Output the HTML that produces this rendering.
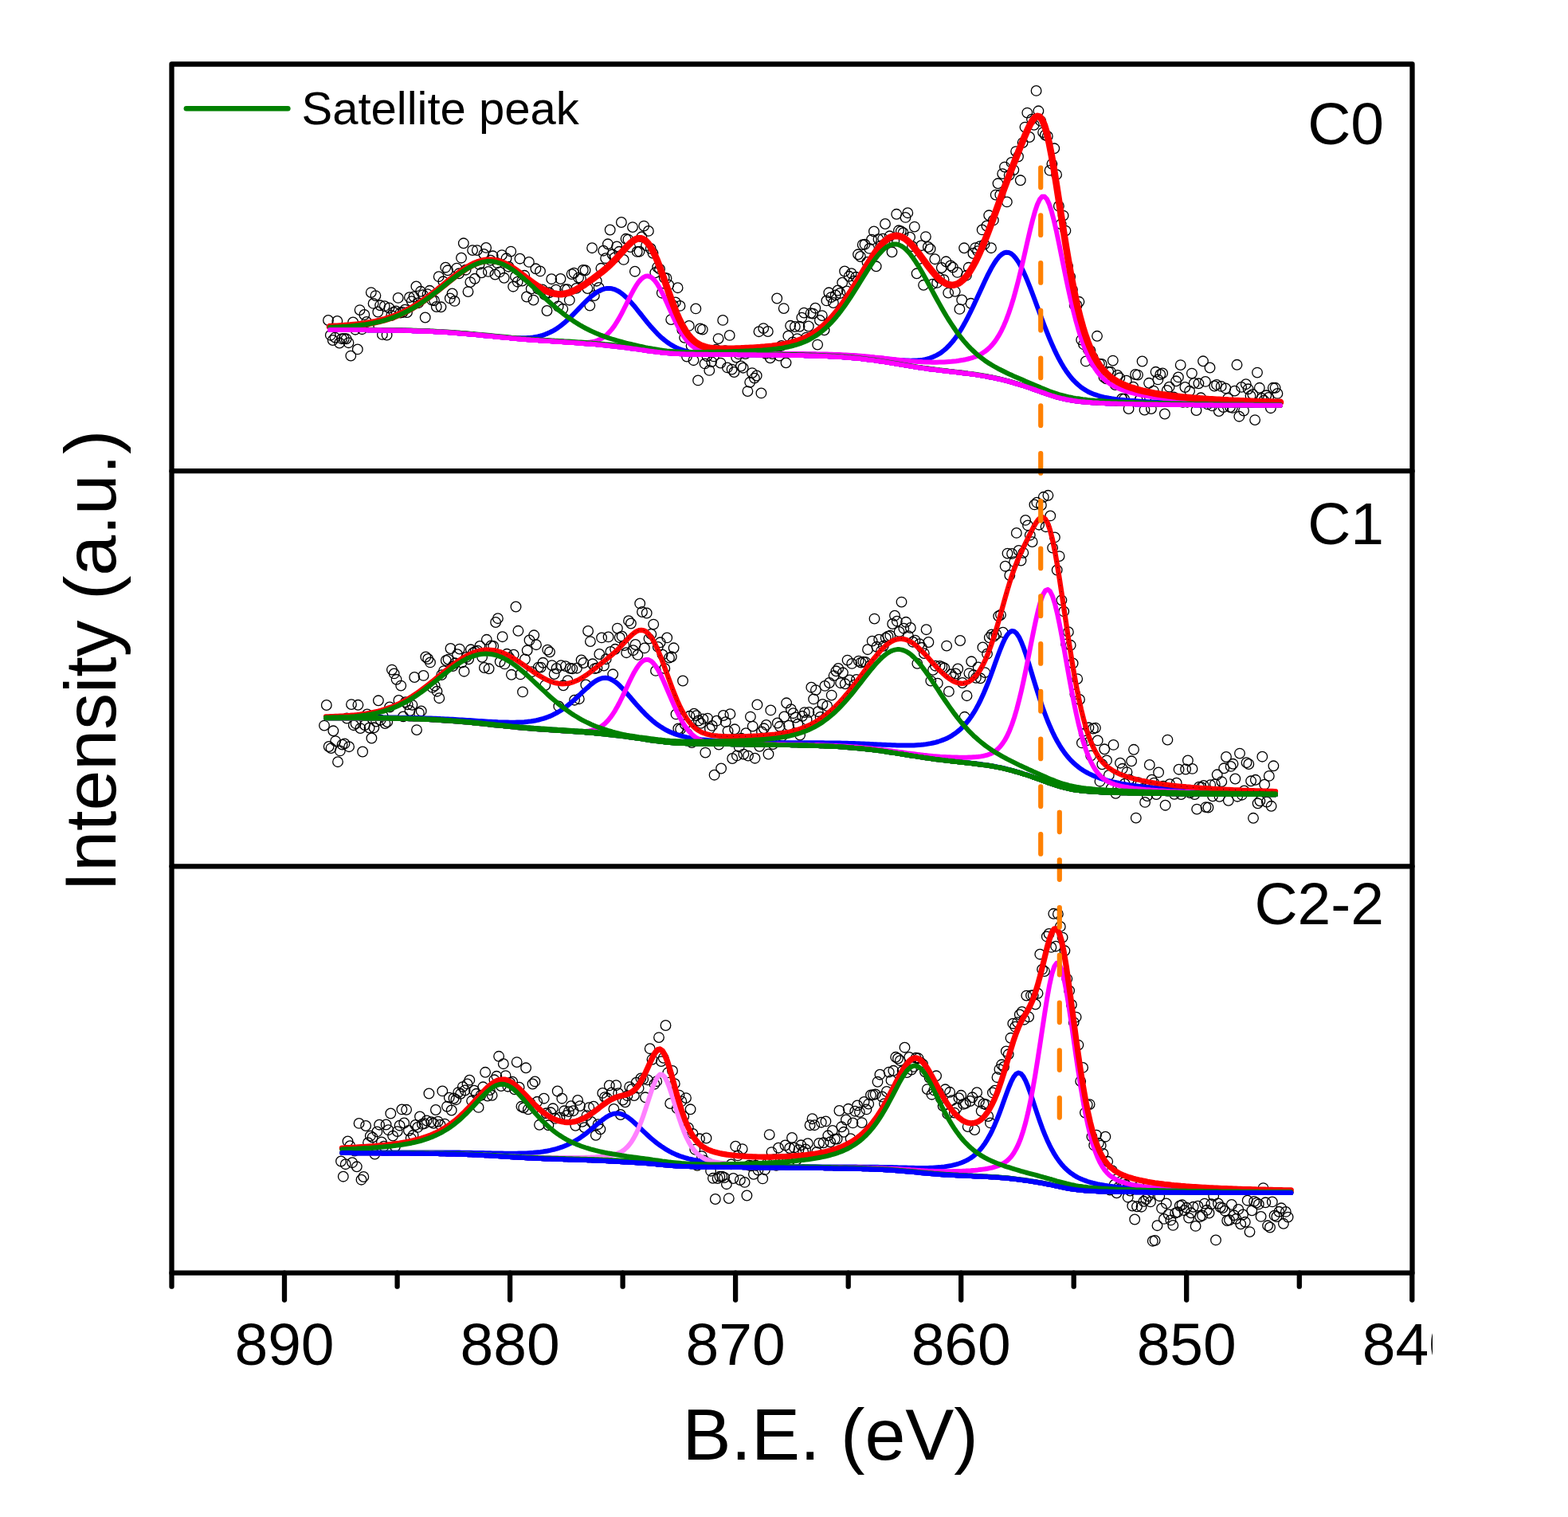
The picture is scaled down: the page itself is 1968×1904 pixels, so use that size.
<!DOCTYPE html><html><head><meta charset="utf-8"><style>html,body{margin:0;padding:0;background:#fff;}svg{display:block;}</style></head><body>
<svg width="1968" height="1904" viewBox="0 0 1968 1904">
<rect width="1968" height="1904" fill="#fff"/>
<defs><clipPath id="cl"><rect x="0" y="0" width="1798" height="1904"/></clipPath></defs>
<g fill="none" stroke="#000" stroke-width="1.3">
<circle cx="412.0" cy="402.0" r="6.3"/>
<circle cx="414.8" cy="420.7" r="6.3"/>
<circle cx="417.7" cy="427.0" r="6.3"/>
<circle cx="420.5" cy="423.6" r="6.3"/>
<circle cx="423.3" cy="402.9" r="6.3"/>
<circle cx="426.1" cy="430.5" r="6.3"/>
<circle cx="429.0" cy="425.2" r="6.3"/>
<circle cx="431.8" cy="425.0" r="6.3"/>
<circle cx="434.6" cy="425.3" r="6.3"/>
<circle cx="437.5" cy="430.2" r="6.3"/>
<circle cx="440.3" cy="446.6" r="6.3"/>
<circle cx="443.1" cy="404.4" r="6.3"/>
<circle cx="446.0" cy="413.7" r="6.3"/>
<circle cx="448.8" cy="438.4" r="6.3"/>
<circle cx="451.6" cy="389.1" r="6.3"/>
<circle cx="454.4" cy="413.2" r="6.3"/>
<circle cx="457.3" cy="395.0" r="6.3"/>
<circle cx="460.1" cy="404.0" r="6.3"/>
<circle cx="462.9" cy="410.4" r="6.3"/>
<circle cx="465.8" cy="367.1" r="6.3"/>
<circle cx="468.6" cy="380.9" r="6.3"/>
<circle cx="471.4" cy="371.1" r="6.3"/>
<circle cx="474.3" cy="391.5" r="6.3"/>
<circle cx="477.1" cy="383.3" r="6.3"/>
<circle cx="479.9" cy="419.9" r="6.3"/>
<circle cx="482.7" cy="384.2" r="6.3"/>
<circle cx="485.6" cy="420.5" r="6.3"/>
<circle cx="488.4" cy="386.5" r="6.3"/>
<circle cx="491.2" cy="396.0" r="6.3"/>
<circle cx="494.1" cy="391.8" r="6.3"/>
<circle cx="496.9" cy="390.5" r="6.3"/>
<circle cx="499.7" cy="373.9" r="6.3"/>
<circle cx="502.6" cy="392.6" r="6.3"/>
<circle cx="505.4" cy="392.0" r="6.3"/>
<circle cx="508.2" cy="388.7" r="6.3"/>
<circle cx="511.0" cy="392.1" r="6.3"/>
<circle cx="513.9" cy="373.2" r="6.3"/>
<circle cx="516.7" cy="378.1" r="6.3"/>
<circle cx="519.5" cy="372.5" r="6.3"/>
<circle cx="522.4" cy="359.4" r="6.3"/>
<circle cx="525.2" cy="380.2" r="6.3"/>
<circle cx="528.0" cy="365.8" r="6.3"/>
<circle cx="530.9" cy="370.1" r="6.3"/>
<circle cx="533.7" cy="398.5" r="6.3"/>
<circle cx="536.5" cy="369.1" r="6.3"/>
<circle cx="539.3" cy="364.8" r="6.3"/>
<circle cx="542.2" cy="376.7" r="6.3"/>
<circle cx="545.0" cy="377.2" r="6.3"/>
<circle cx="547.8" cy="385.0" r="6.3"/>
<circle cx="550.7" cy="347.2" r="6.3"/>
<circle cx="553.5" cy="385.3" r="6.3"/>
<circle cx="556.3" cy="353.3" r="6.3"/>
<circle cx="559.2" cy="335.7" r="6.3"/>
<circle cx="562.0" cy="339.3" r="6.3"/>
<circle cx="564.8" cy="374.4" r="6.3"/>
<circle cx="567.6" cy="368.5" r="6.3"/>
<circle cx="570.5" cy="377.9" r="6.3"/>
<circle cx="573.3" cy="336.6" r="6.3"/>
<circle cx="576.1" cy="343.3" r="6.3"/>
<circle cx="579.0" cy="323.7" r="6.3"/>
<circle cx="581.8" cy="305.3" r="6.3"/>
<circle cx="584.6" cy="338.7" r="6.3"/>
<circle cx="587.5" cy="366.1" r="6.3"/>
<circle cx="590.3" cy="354.1" r="6.3"/>
<circle cx="593.1" cy="314.1" r="6.3"/>
<circle cx="595.9" cy="349.8" r="6.3"/>
<circle cx="598.8" cy="314.1" r="6.3"/>
<circle cx="601.6" cy="331.9" r="6.3"/>
<circle cx="604.4" cy="342.3" r="6.3"/>
<circle cx="607.3" cy="319.0" r="6.3"/>
<circle cx="610.1" cy="310.9" r="6.3"/>
<circle cx="612.9" cy="340.9" r="6.3"/>
<circle cx="615.8" cy="326.7" r="6.3"/>
<circle cx="618.6" cy="321.3" r="6.3"/>
<circle cx="621.4" cy="344.5" r="6.3"/>
<circle cx="624.2" cy="330.2" r="6.3"/>
<circle cx="627.1" cy="341.4" r="6.3"/>
<circle cx="629.9" cy="320.1" r="6.3"/>
<circle cx="632.7" cy="348.8" r="6.3"/>
<circle cx="635.6" cy="324.3" r="6.3"/>
<circle cx="638.4" cy="334.7" r="6.3"/>
<circle cx="641.2" cy="315.6" r="6.3"/>
<circle cx="644.1" cy="359.7" r="6.3"/>
<circle cx="646.9" cy="347.2" r="6.3"/>
<circle cx="649.7" cy="353.7" r="6.3"/>
<circle cx="652.5" cy="324.7" r="6.3"/>
<circle cx="655.4" cy="352.6" r="6.3"/>
<circle cx="658.2" cy="345.8" r="6.3"/>
<circle cx="661.0" cy="372.5" r="6.3"/>
<circle cx="663.9" cy="328.9" r="6.3"/>
<circle cx="666.7" cy="362.5" r="6.3"/>
<circle cx="669.5" cy="376.6" r="6.3"/>
<circle cx="672.4" cy="337.3" r="6.3"/>
<circle cx="675.2" cy="362.5" r="6.3"/>
<circle cx="678.0" cy="340.4" r="6.3"/>
<circle cx="680.8" cy="363.5" r="6.3"/>
<circle cx="683.7" cy="369.9" r="6.3"/>
<circle cx="686.5" cy="390.0" r="6.3"/>
<circle cx="689.3" cy="367.3" r="6.3"/>
<circle cx="692.2" cy="350.2" r="6.3"/>
<circle cx="695.0" cy="375.4" r="6.3"/>
<circle cx="697.8" cy="363.6" r="6.3"/>
<circle cx="700.7" cy="384.5" r="6.3"/>
<circle cx="703.5" cy="350.0" r="6.3"/>
<circle cx="706.3" cy="387.8" r="6.3"/>
<circle cx="709.1" cy="363.2" r="6.3"/>
<circle cx="712.0" cy="363.2" r="6.3"/>
<circle cx="714.8" cy="376.7" r="6.3"/>
<circle cx="717.6" cy="344.1" r="6.3"/>
<circle cx="720.5" cy="342.6" r="6.3"/>
<circle cx="723.3" cy="361.9" r="6.3"/>
<circle cx="726.1" cy="348.6" r="6.3"/>
<circle cx="729.0" cy="349.8" r="6.3"/>
<circle cx="731.8" cy="339.0" r="6.3"/>
<circle cx="734.6" cy="339.3" r="6.3"/>
<circle cx="737.4" cy="362.1" r="6.3"/>
<circle cx="740.3" cy="383.6" r="6.3"/>
<circle cx="743.1" cy="311.2" r="6.3"/>
<circle cx="745.9" cy="371.1" r="6.3"/>
<circle cx="748.8" cy="352.7" r="6.3"/>
<circle cx="751.6" cy="361.0" r="6.3"/>
<circle cx="754.4" cy="336.8" r="6.3"/>
<circle cx="757.3" cy="314.7" r="6.3"/>
<circle cx="760.1" cy="324.2" r="6.3"/>
<circle cx="762.9" cy="306.3" r="6.3"/>
<circle cx="765.7" cy="288.5" r="6.3"/>
<circle cx="768.6" cy="319.3" r="6.3"/>
<circle cx="771.4" cy="323.4" r="6.3"/>
<circle cx="774.2" cy="309.5" r="6.3"/>
<circle cx="777.1" cy="315.8" r="6.3"/>
<circle cx="779.9" cy="279.0" r="6.3"/>
<circle cx="782.7" cy="325.9" r="6.3"/>
<circle cx="785.6" cy="299.8" r="6.3"/>
<circle cx="788.4" cy="300.6" r="6.3"/>
<circle cx="791.2" cy="310.1" r="6.3"/>
<circle cx="794.0" cy="285.1" r="6.3"/>
<circle cx="796.9" cy="340.7" r="6.3"/>
<circle cx="799.7" cy="315.9" r="6.3"/>
<circle cx="802.5" cy="315.7" r="6.3"/>
<circle cx="805.4" cy="297.3" r="6.3"/>
<circle cx="808.2" cy="283.6" r="6.3"/>
<circle cx="811.0" cy="308.2" r="6.3"/>
<circle cx="813.9" cy="289.9" r="6.3"/>
<circle cx="816.7" cy="312.0" r="6.3"/>
<circle cx="819.5" cy="317.8" r="6.3"/>
<circle cx="822.3" cy="342.3" r="6.3"/>
<circle cx="825.2" cy="335.3" r="6.3"/>
<circle cx="828.0" cy="337.7" r="6.3"/>
<circle cx="830.8" cy="367.7" r="6.3"/>
<circle cx="833.7" cy="348.6" r="6.3"/>
<circle cx="836.5" cy="349.2" r="6.3"/>
<circle cx="839.3" cy="357.7" r="6.3"/>
<circle cx="842.2" cy="401.1" r="6.3"/>
<circle cx="845.0" cy="383.1" r="6.3"/>
<circle cx="847.8" cy="379.4" r="6.3"/>
<circle cx="850.6" cy="361.2" r="6.3"/>
<circle cx="853.5" cy="383.9" r="6.3"/>
<circle cx="856.3" cy="413.9" r="6.3"/>
<circle cx="859.1" cy="423.8" r="6.3"/>
<circle cx="862.0" cy="447.6" r="6.3"/>
<circle cx="864.8" cy="408.9" r="6.3"/>
<circle cx="867.6" cy="434.1" r="6.3"/>
<circle cx="870.5" cy="452.2" r="6.3"/>
<circle cx="873.3" cy="387.4" r="6.3"/>
<circle cx="876.1" cy="477.4" r="6.3"/>
<circle cx="878.9" cy="412.5" r="6.3"/>
<circle cx="881.8" cy="413.6" r="6.3"/>
<circle cx="884.6" cy="456.4" r="6.3"/>
<circle cx="887.4" cy="447.1" r="6.3"/>
<circle cx="890.3" cy="464.9" r="6.3"/>
<circle cx="893.1" cy="454.1" r="6.3"/>
<circle cx="895.9" cy="447.4" r="6.3"/>
<circle cx="898.8" cy="438.7" r="6.3"/>
<circle cx="901.6" cy="425.1" r="6.3"/>
<circle cx="904.4" cy="455.6" r="6.3"/>
<circle cx="907.2" cy="401.9" r="6.3"/>
<circle cx="910.1" cy="440.1" r="6.3"/>
<circle cx="912.9" cy="461.4" r="6.3"/>
<circle cx="915.7" cy="420.9" r="6.3"/>
<circle cx="918.6" cy="463.6" r="6.3"/>
<circle cx="921.4" cy="467.0" r="6.3"/>
<circle cx="924.2" cy="448.6" r="6.3"/>
<circle cx="927.1" cy="444.4" r="6.3"/>
<circle cx="929.9" cy="459.5" r="6.3"/>
<circle cx="932.7" cy="461.7" r="6.3"/>
<circle cx="935.5" cy="444.1" r="6.3"/>
<circle cx="938.4" cy="491.1" r="6.3"/>
<circle cx="941.2" cy="479.8" r="6.3"/>
<circle cx="944.0" cy="468.1" r="6.3"/>
<circle cx="946.9" cy="474.6" r="6.3"/>
<circle cx="949.7" cy="471.5" r="6.3"/>
<circle cx="952.5" cy="416.2" r="6.3"/>
<circle cx="955.4" cy="493.4" r="6.3"/>
<circle cx="958.2" cy="412.1" r="6.3"/>
<circle cx="961.0" cy="443.8" r="6.3"/>
<circle cx="963.8" cy="416.0" r="6.3"/>
<circle cx="966.7" cy="449.3" r="6.3"/>
<circle cx="969.5" cy="444.0" r="6.3"/>
<circle cx="972.3" cy="438.4" r="6.3"/>
<circle cx="975.2" cy="374.5" r="6.3"/>
<circle cx="978.0" cy="446.5" r="6.3"/>
<circle cx="980.8" cy="433.9" r="6.3"/>
<circle cx="983.7" cy="387.1" r="6.3"/>
<circle cx="986.5" cy="455.3" r="6.3"/>
<circle cx="989.3" cy="421.7" r="6.3"/>
<circle cx="992.1" cy="408.8" r="6.3"/>
<circle cx="995.0" cy="429.5" r="6.3"/>
<circle cx="997.8" cy="410.0" r="6.3"/>
<circle cx="1000.6" cy="425.1" r="6.3"/>
<circle cx="1003.5" cy="409.8" r="6.3"/>
<circle cx="1006.3" cy="398.6" r="6.3"/>
<circle cx="1009.1" cy="392.6" r="6.3"/>
<circle cx="1012.0" cy="423.6" r="6.3"/>
<circle cx="1014.8" cy="409.5" r="6.3"/>
<circle cx="1017.6" cy="393.1" r="6.3"/>
<circle cx="1020.4" cy="393.6" r="6.3"/>
<circle cx="1023.3" cy="386.7" r="6.3"/>
<circle cx="1026.1" cy="432.6" r="6.3"/>
<circle cx="1028.9" cy="402.0" r="6.3"/>
<circle cx="1031.8" cy="396.1" r="6.3"/>
<circle cx="1034.6" cy="414.3" r="6.3"/>
<circle cx="1037.4" cy="377.4" r="6.3"/>
<circle cx="1040.3" cy="367.3" r="6.3"/>
<circle cx="1043.1" cy="373.1" r="6.3"/>
<circle cx="1045.9" cy="380.0" r="6.3"/>
<circle cx="1048.7" cy="370.5" r="6.3"/>
<circle cx="1051.6" cy="364.5" r="6.3"/>
<circle cx="1054.4" cy="368.0" r="6.3"/>
<circle cx="1057.2" cy="354.7" r="6.3"/>
<circle cx="1060.1" cy="340.5" r="6.3"/>
<circle cx="1062.9" cy="365.5" r="6.3"/>
<circle cx="1065.7" cy="346.8" r="6.3"/>
<circle cx="1068.6" cy="343.2" r="6.3"/>
<circle cx="1071.4" cy="352.7" r="6.3"/>
<circle cx="1074.2" cy="347.8" r="6.3"/>
<circle cx="1077.0" cy="319.3" r="6.3"/>
<circle cx="1079.9" cy="322.0" r="6.3"/>
<circle cx="1082.7" cy="307.2" r="6.3"/>
<circle cx="1085.5" cy="306.7" r="6.3"/>
<circle cx="1088.4" cy="329.0" r="6.3"/>
<circle cx="1091.2" cy="311.9" r="6.3"/>
<circle cx="1094.0" cy="300.7" r="6.3"/>
<circle cx="1096.9" cy="290.5" r="6.3"/>
<circle cx="1099.7" cy="334.3" r="6.3"/>
<circle cx="1102.5" cy="300.2" r="6.3"/>
<circle cx="1105.3" cy="308.5" r="6.3"/>
<circle cx="1108.2" cy="299.6" r="6.3"/>
<circle cx="1111.0" cy="281.0" r="6.3"/>
<circle cx="1113.8" cy="303.7" r="6.3"/>
<circle cx="1116.7" cy="296.3" r="6.3"/>
<circle cx="1119.5" cy="316.3" r="6.3"/>
<circle cx="1122.3" cy="302.5" r="6.3"/>
<circle cx="1125.2" cy="268.8" r="6.3"/>
<circle cx="1128.0" cy="289.3" r="6.3"/>
<circle cx="1130.8" cy="290.3" r="6.3"/>
<circle cx="1133.6" cy="292.2" r="6.3"/>
<circle cx="1136.5" cy="272.9" r="6.3"/>
<circle cx="1139.3" cy="267.2" r="6.3"/>
<circle cx="1142.1" cy="297.7" r="6.3"/>
<circle cx="1145.0" cy="309.2" r="6.3"/>
<circle cx="1147.8" cy="284.6" r="6.3"/>
<circle cx="1150.6" cy="343.3" r="6.3"/>
<circle cx="1153.5" cy="325.1" r="6.3"/>
<circle cx="1156.3" cy="308.2" r="6.3"/>
<circle cx="1159.1" cy="357.8" r="6.3"/>
<circle cx="1161.9" cy="297.1" r="6.3"/>
<circle cx="1164.8" cy="310.0" r="6.3"/>
<circle cx="1167.6" cy="312.5" r="6.3"/>
<circle cx="1170.4" cy="356.6" r="6.3"/>
<circle cx="1173.3" cy="325.2" r="6.3"/>
<circle cx="1176.1" cy="354.9" r="6.3"/>
<circle cx="1178.9" cy="348.8" r="6.3"/>
<circle cx="1181.8" cy="336.0" r="6.3"/>
<circle cx="1184.6" cy="351.2" r="6.3"/>
<circle cx="1187.4" cy="328.3" r="6.3"/>
<circle cx="1190.2" cy="367.6" r="6.3"/>
<circle cx="1193.1" cy="333.4" r="6.3"/>
<circle cx="1195.9" cy="335.6" r="6.3"/>
<circle cx="1198.7" cy="365.8" r="6.3"/>
<circle cx="1201.6" cy="341.9" r="6.3"/>
<circle cx="1204.4" cy="387.9" r="6.3"/>
<circle cx="1207.2" cy="376.4" r="6.3"/>
<circle cx="1210.1" cy="311.3" r="6.3"/>
<circle cx="1212.9" cy="345.7" r="6.3"/>
<circle cx="1215.7" cy="335.8" r="6.3"/>
<circle cx="1218.5" cy="380.8" r="6.3"/>
<circle cx="1221.4" cy="318.0" r="6.3"/>
<circle cx="1224.2" cy="311.1" r="6.3"/>
<circle cx="1227.0" cy="315.1" r="6.3"/>
<circle cx="1229.9" cy="309.1" r="6.3"/>
<circle cx="1232.7" cy="288.4" r="6.3"/>
<circle cx="1235.5" cy="306.7" r="6.3"/>
<circle cx="1238.4" cy="283.5" r="6.3"/>
<circle cx="1241.2" cy="270.3" r="6.3"/>
<circle cx="1244.0" cy="311.2" r="6.3"/>
<circle cx="1246.8" cy="276.4" r="6.3"/>
<circle cx="1249.7" cy="244.6" r="6.3"/>
<circle cx="1252.5" cy="230.3" r="6.3"/>
<circle cx="1255.3" cy="244.5" r="6.3"/>
<circle cx="1258.2" cy="218.1" r="6.3"/>
<circle cx="1261.0" cy="209.6" r="6.3"/>
<circle cx="1263.8" cy="253.4" r="6.3"/>
<circle cx="1266.7" cy="219.8" r="6.3"/>
<circle cx="1269.5" cy="203.9" r="6.3"/>
<circle cx="1272.3" cy="213.3" r="6.3"/>
<circle cx="1275.1" cy="190.1" r="6.3"/>
<circle cx="1278.0" cy="196.5" r="6.3"/>
<circle cx="1280.8" cy="226.3" r="6.3"/>
<circle cx="1283.6" cy="179.1" r="6.3"/>
<circle cx="1286.5" cy="159.6" r="6.3"/>
<circle cx="1289.3" cy="141.6" r="6.3"/>
<circle cx="1292.1" cy="172.0" r="6.3"/>
<circle cx="1295.0" cy="149.7" r="6.3"/>
<circle cx="1297.8" cy="156.8" r="6.3"/>
<circle cx="1300.6" cy="113.9" r="6.3"/>
<circle cx="1303.4" cy="139.3" r="6.3"/>
<circle cx="1306.3" cy="151.9" r="6.3"/>
<circle cx="1309.1" cy="166.1" r="6.3"/>
<circle cx="1311.9" cy="169.5" r="6.3"/>
<circle cx="1314.8" cy="170.9" r="6.3"/>
<circle cx="1317.6" cy="213.9" r="6.3"/>
<circle cx="1320.4" cy="205.8" r="6.3"/>
<circle cx="1323.3" cy="186.3" r="6.3"/>
<circle cx="1326.1" cy="219.2" r="6.3"/>
<circle cx="1328.9" cy="258.7" r="6.3"/>
<circle cx="1331.7" cy="281.3" r="6.3"/>
<circle cx="1334.6" cy="270.6" r="6.3"/>
<circle cx="1337.4" cy="289.6" r="6.3"/>
<circle cx="1340.2" cy="334.1" r="6.3"/>
<circle cx="1343.1" cy="347.4" r="6.3"/>
<circle cx="1345.9" cy="363.6" r="6.3"/>
<circle cx="1348.7" cy="382.9" r="6.3"/>
<circle cx="1351.6" cy="383.2" r="6.3"/>
<circle cx="1354.4" cy="378.8" r="6.3"/>
<circle cx="1357.2" cy="426.6" r="6.3"/>
<circle cx="1360.0" cy="432.2" r="6.3"/>
<circle cx="1362.9" cy="453.4" r="6.3"/>
<circle cx="1365.7" cy="438.8" r="6.3"/>
<circle cx="1368.5" cy="440.2" r="6.3"/>
<circle cx="1371.4" cy="448.3" r="6.3"/>
<circle cx="1374.2" cy="455.6" r="6.3"/>
<circle cx="1377.0" cy="421.8" r="6.3"/>
<circle cx="1379.9" cy="456.6" r="6.3"/>
<circle cx="1382.7" cy="456.9" r="6.3"/>
<circle cx="1385.5" cy="473.4" r="6.3"/>
<circle cx="1388.3" cy="475.3" r="6.3"/>
<circle cx="1391.2" cy="466.6" r="6.3"/>
<circle cx="1394.0" cy="466.8" r="6.3"/>
<circle cx="1396.8" cy="452.6" r="6.3"/>
<circle cx="1399.7" cy="483.0" r="6.3"/>
<circle cx="1402.5" cy="471.0" r="6.3"/>
<circle cx="1405.3" cy="474.3" r="6.3"/>
<circle cx="1408.2" cy="500.4" r="6.3"/>
<circle cx="1411.0" cy="500.7" r="6.3"/>
<circle cx="1413.8" cy="477.7" r="6.3"/>
<circle cx="1416.6" cy="513.0" r="6.3"/>
<circle cx="1419.5" cy="496.7" r="6.3"/>
<circle cx="1422.3" cy="485.7" r="6.3"/>
<circle cx="1425.1" cy="470.0" r="6.3"/>
<circle cx="1428.0" cy="470.6" r="6.3"/>
<circle cx="1430.8" cy="501.5" r="6.3"/>
<circle cx="1433.6" cy="453.5" r="6.3"/>
<circle cx="1436.5" cy="514.6" r="6.3"/>
<circle cx="1439.3" cy="497.8" r="6.3"/>
<circle cx="1442.1" cy="480.8" r="6.3"/>
<circle cx="1444.9" cy="513.0" r="6.3"/>
<circle cx="1447.8" cy="490.6" r="6.3"/>
<circle cx="1450.6" cy="466.8" r="6.3"/>
<circle cx="1453.4" cy="476.4" r="6.3"/>
<circle cx="1456.3" cy="470.0" r="6.3"/>
<circle cx="1459.1" cy="468.4" r="6.3"/>
<circle cx="1461.9" cy="519.5" r="6.3"/>
<circle cx="1464.8" cy="490.0" r="6.3"/>
<circle cx="1467.6" cy="485.7" r="6.3"/>
<circle cx="1470.4" cy="501.7" r="6.3"/>
<circle cx="1473.2" cy="498.4" r="6.3"/>
<circle cx="1476.1" cy="478.3" r="6.3"/>
<circle cx="1478.9" cy="473.4" r="6.3"/>
<circle cx="1481.7" cy="458.1" r="6.3"/>
<circle cx="1484.6" cy="504.8" r="6.3"/>
<circle cx="1487.4" cy="486.0" r="6.3"/>
<circle cx="1490.2" cy="504.7" r="6.3"/>
<circle cx="1493.1" cy="490.8" r="6.3"/>
<circle cx="1495.9" cy="468.6" r="6.3"/>
<circle cx="1498.7" cy="480.9" r="6.3"/>
<circle cx="1501.5" cy="515.0" r="6.3"/>
<circle cx="1504.4" cy="481.3" r="6.3"/>
<circle cx="1507.2" cy="499.3" r="6.3"/>
<circle cx="1510.0" cy="453.3" r="6.3"/>
<circle cx="1512.9" cy="478.9" r="6.3"/>
<circle cx="1515.7" cy="507.4" r="6.3"/>
<circle cx="1518.5" cy="461.5" r="6.3"/>
<circle cx="1521.4" cy="509.4" r="6.3"/>
<circle cx="1524.2" cy="484.5" r="6.3"/>
<circle cx="1527.0" cy="482.9" r="6.3"/>
<circle cx="1529.8" cy="516.1" r="6.3"/>
<circle cx="1532.7" cy="484.9" r="6.3"/>
<circle cx="1535.5" cy="511.1" r="6.3"/>
<circle cx="1538.3" cy="487.4" r="6.3"/>
<circle cx="1541.2" cy="500.0" r="6.3"/>
<circle cx="1544.0" cy="511.0" r="6.3"/>
<circle cx="1546.8" cy="511.9" r="6.3"/>
<circle cx="1549.7" cy="490.6" r="6.3"/>
<circle cx="1552.5" cy="457.8" r="6.3"/>
<circle cx="1555.3" cy="522.7" r="6.3"/>
<circle cx="1558.1" cy="485.9" r="6.3"/>
<circle cx="1561.0" cy="515.6" r="6.3"/>
<circle cx="1563.8" cy="482.2" r="6.3"/>
<circle cx="1566.6" cy="488.3" r="6.3"/>
<circle cx="1569.5" cy="497.0" r="6.3"/>
<circle cx="1572.3" cy="494.9" r="6.3"/>
<circle cx="1575.1" cy="527.1" r="6.3"/>
<circle cx="1578.0" cy="467.6" r="6.3"/>
<circle cx="1580.8" cy="486.8" r="6.3"/>
<circle cx="1583.6" cy="500.0" r="6.3"/>
<circle cx="1586.4" cy="502.7" r="6.3"/>
<circle cx="1589.3" cy="496.3" r="6.3"/>
<circle cx="1592.1" cy="498.9" r="6.3"/>
<circle cx="1594.9" cy="512.2" r="6.3"/>
<circle cx="1597.8" cy="486.8" r="6.3"/>
<circle cx="1600.6" cy="486.8" r="6.3"/>
<circle cx="1603.4" cy="493.9" r="6.3"/>
</g>
<path d="M414,413.9 L417,413.9 L420,413.9 L423,413.9 L426,413.9 L429,414.0 L432,414.0 L435,414.0 L438,414.0 L441,414.0 L444,414.0 L447,414.1 L450,414.1 L453,414.1 L456,414.1 L459,414.1 L462,414.2 L465,414.2 L468,414.2 L471,414.3 L474,414.3 L477,414.3 L480,414.4 L483,414.4 L486,414.4 L489,414.5 L492,414.5 L495,414.6 L498,414.7 L501,414.7 L504,414.8 L507,414.8 L510,414.9 L513,415.0 L516,415.1 L519,415.2 L522,415.3 L525,415.4 L528,415.5 L531,415.6 L534,415.7 L537,415.8 L540,416.0 L543,416.1 L546,416.3 L549,416.4 L552,416.6 L555,416.8 L558,417.0 L561,417.1 L564,417.3 L567,417.5 L570,417.8 L573,418.0 L576,418.2 L579,418.5 L582,418.7 L585,419.0 L588,419.2 L591,419.5 L594,419.8 L597,420.0 L600,420.3 L603,420.6 L606,420.9 L609,421.2 L612,421.5 L615,421.8 L618,422.1 L621,422.4 L624,422.7 L627,423.0 L630,423.3 L633,423.6 L636,423.9 L639,424.1 L642,424.4 L645,424.7 L648,425.0 L651,425.2 L654,425.5 L657,425.7 L660,426.0 L663,426.2 L666,426.5 L669,426.7 L672,426.9 L675,427.1 L678,427.4 L681,427.6 L684,427.8 L687,428.0 L690,428.1 L693,428.3 L696,428.5 L699,428.7 L702,428.9 L705,429.1 L708,429.3 L711,429.5 L714,429.7 L717,429.9 L720,430.1 L723,430.3 L726,430.5 L729,430.7 L732,430.9 L735,431.2 L738,431.4 L741,431.6 L744,431.9 L747,432.1 L750,432.4 L753,432.7 L756,433.0 L759,433.3 L762,433.6 L765,433.9 L768,434.2 L771,434.5 L774,434.9 L777,435.2 L780,435.6 L783,436.0 L786,436.4 L789,436.8 L792,437.2 L795,437.6 L798,438.0 L801,438.4 L804,438.9 L807,439.3 L810,439.8 L813,440.2 L816,440.6 L819,441.0 L822,441.4 L825,441.8 L828,442.1 L831,442.5 L834,442.8 L837,443.0 L840,443.3 L843,443.5 L846,443.7 L849,443.9 L852,444.0 L855,444.2 L858,444.3 L861,444.4 L864,444.5 L867,444.6 L870,444.6 L873,444.7 L876,444.7 L879,444.7 L882,444.8 L885,444.8 L888,444.8 L891,444.9 L894,444.9 L897,444.9 L900,444.9 L903,445.0 L906,445.0 L909,445.0 L912,445.0 L915,445.1 L918,445.1 L921,445.1 L924,445.1 L927,445.2 L930,445.2 L933,445.2 L936,445.2 L939,445.3 L942,445.3 L945,445.3 L948,445.3 L951,445.4 L954,445.4 L957,445.4 L960,445.4 L963,445.5 L966,445.5 L969,445.5 L972,445.6 L975,445.6 L978,445.7 L981,445.7 L984,445.7 L987,445.8 L990,445.8 L993,445.9 L996,445.9 L999,446.0 L1002,446.0 L1005,446.1 L1008,446.1 L1011,446.2 L1014,446.3 L1017,446.4 L1020,446.4 L1023,446.5 L1026,446.6 L1029,446.7 L1032,446.8 L1035,446.9 L1038,447.1 L1041,447.2 L1044,447.4 L1047,447.5 L1050,447.7 L1053,447.9 L1056,448.0 L1059,448.3 L1062,448.5 L1065,448.7 L1068,449.0 L1071,449.2 L1074,449.5 L1077,449.8 L1080,450.1 L1083,450.5 L1086,450.8 L1089,451.2 L1092,451.5 L1095,451.9 L1098,452.4 L1101,452.8 L1104,453.2 L1107,453.7 L1110,454.1 L1113,454.6 L1116,455.1 L1119,455.6 L1122,456.1 L1125,456.6 L1128,457.1 L1131,457.6 L1134,458.1 L1137,458.6 L1140,459.1 L1143,459.6 L1146,460.1 L1149,460.6 L1152,461.0 L1155,461.5 L1158,461.9 L1161,462.3 L1164,462.7 L1167,463.2 L1170,463.5 L1173,463.9 L1176,464.3 L1179,464.7 L1182,465.0 L1185,465.4 L1188,465.7 L1191,466.1 L1194,466.4 L1197,466.7 L1200,467.1 L1203,467.4 L1206,467.8 L1209,468.2 L1212,468.5 L1215,468.9 L1218,469.3 L1221,469.7 L1224,470.1 L1227,470.6 L1230,471.1 L1233,471.6 L1236,472.1 L1239,472.6 L1242,473.2 L1245,473.8 L1248,474.4 L1251,475.1 L1254,475.7 L1257,476.4 L1260,477.2 L1263,477.9 L1266,478.7 L1269,479.5 L1272,480.4 L1275,481.3 L1278,482.2 L1281,483.1 L1284,484.0 L1287,485.0 L1290,486.0 L1293,487.0 L1296,488.1 L1299,489.1 L1302,490.2 L1305,491.3 L1308,492.4 L1311,493.4 L1314,494.5 L1317,495.5 L1320,496.5 L1323,497.4 L1326,498.3 L1329,499.1 L1332,499.9 L1335,500.5 L1338,501.2 L1341,501.8 L1344,502.3 L1347,502.8 L1350,503.2 L1353,503.6 L1356,504.0 L1359,504.3 L1362,504.6 L1365,504.8 L1368,505.0 L1371,505.3 L1374,505.4 L1377,505.6 L1380,505.8 L1383,505.9 L1386,506.1 L1389,506.2 L1392,506.3 L1395,506.4 L1398,506.5 L1401,506.6 L1404,506.7 L1407,506.8 L1410,506.8 L1413,506.9 L1416,507.0 L1419,507.1 L1422,507.1 L1425,507.2 L1428,507.2 L1431,507.3 L1434,507.3 L1437,507.4 L1440,507.4 L1443,507.5 L1446,507.5 L1449,507.6 L1452,507.6 L1455,507.7 L1458,507.7 L1461,507.8 L1464,507.8 L1467,507.8 L1470,507.9 L1473,507.9 L1476,507.9 L1479,508.0 L1482,508.0 L1485,508.0 L1488,508.1 L1491,508.1 L1494,508.1 L1497,508.1 L1500,508.2 L1503,508.2 L1506,508.2 L1509,508.2 L1512,508.3 L1515,508.3 L1518,508.3 L1521,508.3 L1524,508.4 L1527,508.4 L1530,508.4 L1533,508.4 L1536,508.4 L1539,508.5 L1542,508.5 L1545,508.5 L1548,508.5 L1551,508.5 L1554,508.5 L1557,508.6 L1560,508.6 L1563,508.6 L1566,508.6 L1569,508.6 L1572,508.6 L1575,508.7 L1578,508.7 L1581,508.7 L1584,508.7 L1587,508.7 L1590,508.7 L1593,508.7 L1596,508.7 L1599,508.8 L1602,508.8 L1605,508.8 L1607,508.8" fill="none" stroke="#008000" stroke-width="6" stroke-linejoin="round" stroke-linecap="round"/>
<path d="M414,413.9 L417,413.9 L420,413.9 L423,413.9 L426,413.9 L429,414.0 L432,414.0 L435,414.0 L438,414.0 L441,414.0 L444,414.0 L447,414.1 L450,414.1 L453,414.1 L456,414.1 L459,414.1 L462,414.2 L465,414.2 L468,414.2 L471,414.3 L474,414.3 L477,414.3 L480,414.4 L483,414.4 L486,414.4 L489,414.5 L492,414.5 L495,414.6 L498,414.7 L501,414.7 L504,414.8 L507,414.8 L510,414.9 L513,415.0 L516,415.1 L519,415.2 L522,415.3 L525,415.4 L528,415.5 L531,415.6 L534,415.7 L537,415.8 L540,416.0 L543,416.1 L546,416.3 L549,416.4 L552,416.6 L555,416.8 L558,417.0 L561,417.1 L564,417.3 L567,417.5 L570,417.8 L573,418.0 L576,418.2 L579,418.5 L582,418.7 L585,419.0 L588,419.2 L591,419.5 L594,419.8 L597,420.0 L600,420.3 L603,420.6 L606,420.9 L609,421.2 L612,421.5 L615,421.8 L618,422.1 L621,422.4 L624,422.7 L627,423.0 L630,423.3 L633,423.6 L636,423.9 L639,424.1 L642,424.4 L645,424.7 L648,425.0 L651,425.2 L654,425.5 L657,425.7 L660,426.0 L663,426.2 L666,426.5 L669,426.7 L672,426.9 L675,427.1 L678,427.4 L681,427.6 L684,427.8 L687,428.0 L690,428.1 L693,428.3 L696,428.5 L699,428.7 L702,428.9 L705,429.1 L708,429.3 L711,429.5 L714,429.7 L717,429.9 L720,430.1 L723,430.3 L726,430.5 L729,430.7 L732,430.9 L735,431.2 L738,431.4 L741,431.6 L744,431.9 L747,432.1 L750,432.4 L753,432.7 L756,433.0 L759,433.3 L762,433.6 L765,433.9 L768,434.2 L771,434.5 L774,434.9 L777,435.2 L780,435.6 L783,436.0 L786,436.4 L789,436.8 L792,437.2 L795,437.6 L798,438.0 L801,438.4 L804,438.9 L807,439.3 L810,439.8 L813,440.2 L816,440.6 L819,441.0 L822,441.4 L825,441.8 L828,442.1 L831,442.5 L834,442.8 L837,443.0 L840,443.3 L843,443.5 L846,443.7 L849,443.9 L852,444.0 L855,444.2 L858,444.3 L861,444.4 L864,444.5 L867,444.6 L870,444.6 L873,444.7 L876,444.7 L879,444.7 L882,444.8 L885,444.8 L888,444.8 L891,444.9 L894,444.9 L897,444.9 L900,444.9 L903,445.0 L906,445.0 L909,445.0 L912,445.0 L915,445.1 L918,445.1 L921,445.1 L924,445.1 L927,445.2 L930,445.2 L933,445.2 L936,445.2 L939,445.3 L942,445.3 L945,445.3 L948,445.3 L951,445.4 L954,445.4 L957,445.4 L960,445.4 L963,445.5 L966,445.5 L969,445.5 L972,445.6 L975,445.6 L978,445.7 L981,445.7 L984,445.7 L987,445.8 L990,445.8 L993,445.9 L996,445.9 L999,446.0 L1002,446.0 L1005,446.1 L1008,446.1 L1011,446.2 L1014,446.3 L1017,446.4 L1020,446.4 L1023,446.5 L1026,446.6 L1029,446.7 L1032,446.8 L1035,446.9 L1038,447.1 L1041,447.2 L1044,447.4 L1047,447.5 L1050,447.7 L1053,447.9 L1056,448.0 L1059,448.3 L1062,448.5 L1065,448.7 L1068,449.0 L1071,449.2 L1074,449.5 L1077,449.8 L1080,450.1 L1083,450.5 L1086,450.8 L1089,451.2 L1092,451.5 L1095,451.9 L1098,452.4 L1101,452.8 L1104,453.2 L1107,453.7 L1110,454.1 L1113,454.6 L1116,455.1 L1119,455.6 L1122,456.1 L1125,456.6 L1128,457.1 L1131,457.6 L1134,458.1 L1137,458.6 L1140,459.1 L1143,459.6 L1146,460.1 L1149,460.6 L1152,461.0 L1155,461.5 L1158,461.9 L1161,462.3 L1164,462.7 L1167,463.2 L1170,463.5 L1173,463.9 L1176,464.3 L1179,464.7 L1182,465.0 L1185,465.4 L1188,465.7 L1191,466.1 L1194,466.4 L1197,466.7 L1200,467.1 L1203,467.4 L1206,467.8 L1209,468.2 L1212,468.5 L1215,468.9 L1218,469.3 L1221,469.7 L1224,470.1 L1227,470.6 L1230,471.1 L1233,471.6 L1236,472.1 L1239,472.6 L1242,473.2 L1245,473.8 L1248,474.4 L1251,475.1 L1254,475.7 L1257,476.4 L1260,477.2 L1263,477.9 L1266,478.7 L1269,479.5 L1272,480.4 L1275,481.3 L1278,482.2 L1281,483.1 L1284,484.0 L1287,485.0 L1290,486.0 L1293,487.0 L1296,488.1 L1299,489.1 L1302,490.2 L1305,491.3 L1308,492.4 L1311,493.4 L1314,494.5 L1317,495.5 L1320,496.5 L1323,497.4 L1326,498.3 L1329,499.1 L1332,499.9 L1335,500.5 L1338,501.2 L1341,501.8 L1344,502.3 L1347,502.8 L1350,503.2 L1353,503.6 L1356,504.0 L1359,504.3 L1362,504.6 L1365,504.8 L1368,505.0 L1371,505.3 L1374,505.4 L1377,505.6 L1380,505.8 L1383,505.9 L1386,506.1 L1389,506.2 L1392,506.3 L1395,506.4 L1398,506.5 L1401,506.6 L1404,506.7 L1407,506.8 L1410,506.8 L1413,506.9 L1416,507.0 L1419,507.1 L1422,507.1 L1425,507.2 L1428,507.2 L1431,507.3 L1434,507.3 L1437,507.4 L1440,507.4 L1443,507.5 L1446,507.5 L1449,507.6 L1452,507.6 L1455,507.7 L1458,507.7 L1461,507.8 L1464,507.8 L1467,507.8 L1470,507.9 L1473,507.9 L1476,507.9 L1479,508.0 L1482,508.0 L1485,508.0 L1488,508.1 L1491,508.1 L1494,508.1 L1497,508.1 L1500,508.2 L1503,508.2 L1506,508.2 L1509,508.2 L1512,508.3 L1515,508.3 L1518,508.3 L1521,508.3 L1524,508.4 L1527,508.4 L1530,508.4 L1533,508.4 L1536,508.4 L1539,508.5 L1542,508.5 L1545,508.5 L1548,508.5 L1551,508.5 L1554,508.5 L1557,508.6 L1560,508.6 L1563,508.6 L1566,508.6 L1569,508.6 L1572,508.6 L1575,508.7 L1578,508.7 L1581,508.7 L1584,508.7 L1587,508.7 L1590,508.7 L1593,508.7 L1596,508.7 L1599,508.8 L1602,508.8 L1605,508.8 L1607,508.8" fill="none" stroke="#0000ff" stroke-width="6" stroke-linejoin="round" stroke-linecap="round"/>
<path d="M414,413.9 L417,413.9 L420,413.9 L423,413.9 L426,413.9 L429,414.0 L432,414.0 L435,414.0 L438,414.0 L441,414.0 L444,414.0 L447,414.1 L450,414.1 L453,414.1 L456,414.1 L459,414.1 L462,414.2 L465,414.2 L468,414.2 L471,414.3 L474,414.3 L477,414.3 L480,414.4 L483,414.4 L486,414.4 L489,414.5 L492,414.5 L495,414.6 L498,414.7 L501,414.7 L504,414.8 L507,414.8 L510,414.9 L513,415.0 L516,415.1 L519,415.2 L522,415.3 L525,415.4 L528,415.5 L531,415.6 L534,415.7 L537,415.8 L540,416.0 L543,416.1 L546,416.3 L549,416.4 L552,416.6 L555,416.8 L558,417.0 L561,417.1 L564,417.3 L567,417.5 L570,417.8 L573,418.0 L576,418.2 L579,418.5 L582,418.7 L585,419.0 L588,419.2 L591,419.5 L594,419.8 L597,420.0 L600,420.3 L603,420.6 L606,420.9 L609,421.2 L612,421.5 L615,421.8 L618,422.1 L621,422.4 L624,422.7 L627,423.0 L630,423.3 L633,423.6 L636,423.9 L639,424.1 L642,424.4 L645,424.7 L648,425.0 L651,425.2 L654,425.5 L657,425.7 L660,426.0 L663,426.2 L666,426.5 L669,426.7 L672,426.9 L675,427.1 L678,427.4 L681,427.6 L684,427.8 L687,428.0 L690,428.1 L693,428.3 L696,428.5 L699,428.7 L702,428.9 L705,429.1 L708,429.3 L711,429.5 L714,429.7 L717,429.9 L720,430.1 L723,430.3 L726,430.5 L729,430.7 L732,430.9 L735,431.2 L738,431.4 L741,431.6 L744,431.9 L747,432.1 L750,432.4 L753,432.7 L756,433.0 L759,433.3 L762,433.6 L765,433.9 L768,434.2 L771,434.5 L774,434.9 L777,435.2 L780,435.6 L783,436.0 L786,436.4 L789,436.8 L792,437.2 L795,437.6 L798,438.0 L801,438.4 L804,438.9 L807,439.3 L810,439.8 L813,440.2 L816,440.6 L819,441.0 L822,441.4 L825,441.8 L828,442.1 L831,442.5 L834,442.8 L837,443.0 L840,443.3 L843,443.5 L846,443.7 L849,443.9 L852,444.0 L855,444.2 L858,444.3 L861,444.4 L864,444.5 L867,444.6 L870,444.6 L873,444.7 L876,444.7 L879,444.7 L882,444.8 L885,444.8 L888,444.8 L891,444.9 L894,444.9 L897,444.9 L900,444.9 L903,445.0 L906,445.0 L909,445.0 L912,445.0 L915,445.1 L918,445.1 L921,445.1 L924,445.1 L927,445.2 L930,445.2 L933,445.2 L936,445.2 L939,445.3 L942,445.3 L945,445.3 L948,445.3 L951,445.4 L954,445.4 L957,445.4 L960,445.4 L963,445.5 L966,445.5 L969,445.5 L972,445.6 L975,445.6 L978,445.7 L981,445.7 L984,445.7 L987,445.8 L990,445.8 L993,445.9 L996,445.9 L999,446.0 L1002,446.0 L1005,446.1 L1008,446.1 L1011,446.2 L1014,446.3 L1017,446.4 L1020,446.4 L1023,446.5 L1026,446.6 L1029,446.7 L1032,446.8 L1035,446.9 L1038,447.1 L1041,447.2 L1044,447.4 L1047,447.5 L1050,447.7 L1053,447.9 L1056,448.0 L1059,448.3 L1062,448.5 L1065,448.7 L1068,449.0 L1071,449.2 L1074,449.5 L1077,449.8 L1080,450.1 L1083,450.5 L1086,450.8 L1089,451.2 L1092,451.5 L1095,451.9 L1098,452.4 L1101,452.8 L1104,453.2 L1107,453.7 L1110,454.1 L1113,454.6 L1116,455.1 L1119,455.6 L1122,456.1 L1125,456.6 L1128,457.1 L1131,457.6 L1134,458.1 L1137,458.6 L1140,459.1 L1143,459.6 L1146,460.1 L1149,460.6 L1152,461.0 L1155,461.5 L1158,461.9 L1161,462.3 L1164,462.7 L1167,463.2 L1170,463.5 L1173,463.9 L1176,464.3 L1179,464.7 L1182,465.0 L1185,465.4 L1188,465.7 L1191,466.1 L1194,466.4 L1197,466.7 L1200,467.1 L1203,467.4 L1206,467.8 L1209,468.2 L1212,468.5 L1215,468.9 L1218,469.3 L1221,469.7 L1224,470.1 L1227,470.6 L1230,471.1 L1233,471.6 L1236,472.1 L1239,472.6 L1242,473.2 L1245,473.8 L1248,474.4 L1251,475.1 L1254,475.7 L1257,476.4 L1260,477.2 L1263,477.9 L1266,478.7 L1269,479.5 L1272,480.4 L1275,481.3 L1278,482.2 L1281,483.1 L1284,484.0 L1287,485.0 L1290,486.0 L1293,487.0 L1296,488.1 L1299,489.1 L1302,490.2 L1305,491.3 L1308,492.4 L1311,493.4 L1314,494.5 L1317,495.5 L1320,496.5 L1323,497.4 L1326,498.3 L1329,499.1 L1332,499.9 L1335,500.5 L1338,501.2 L1341,501.8 L1344,502.3 L1347,502.8 L1350,503.2 L1353,503.6 L1356,504.0 L1359,504.3 L1362,504.6 L1365,504.8 L1368,505.0 L1371,505.3 L1374,505.4 L1377,505.6 L1380,505.8 L1383,505.9 L1386,506.1 L1389,506.2 L1392,506.3 L1395,506.4 L1398,506.5 L1401,506.6 L1404,506.7 L1407,506.8 L1410,506.8 L1413,506.9 L1416,507.0 L1419,507.1 L1422,507.1 L1425,507.2 L1428,507.2 L1431,507.3 L1434,507.3 L1437,507.4 L1440,507.4 L1443,507.5 L1446,507.5 L1449,507.6 L1452,507.6 L1455,507.7 L1458,507.7 L1461,507.8 L1464,507.8 L1467,507.8 L1470,507.9 L1473,507.9 L1476,507.9 L1479,508.0 L1482,508.0 L1485,508.0 L1488,508.1 L1491,508.1 L1494,508.1 L1497,508.1 L1500,508.2 L1503,508.2 L1506,508.2 L1509,508.2 L1512,508.3 L1515,508.3 L1518,508.3 L1521,508.3 L1524,508.4 L1527,508.4 L1530,508.4 L1533,508.4 L1536,508.4 L1539,508.5 L1542,508.5 L1545,508.5 L1548,508.5 L1551,508.5 L1554,508.5 L1557,508.6 L1560,508.6 L1563,508.6 L1566,508.6 L1569,508.6 L1572,508.6 L1575,508.7 L1578,508.7 L1581,508.7 L1584,508.7 L1587,508.7 L1590,508.7 L1593,508.7 L1596,508.7 L1599,508.8 L1602,508.8 L1605,508.8 L1607,508.8" fill="none" stroke="#ff00ff" stroke-width="6" stroke-linejoin="round" stroke-linecap="round"/>
<path d="M414,413.9 L417,413.9 L420,413.9 L423,413.9 L426,413.9 L429,414.0 L432,414.0 L435,414.0 L438,414.0 L441,414.0 L444,414.0 L447,414.1 L450,414.1 L453,414.1 L456,414.1 L459,414.1 L462,414.2 L465,414.2 L468,414.2 L471,414.3 L474,414.3 L477,414.3 L480,414.4 L483,414.4 L486,414.4 L489,414.5 L492,414.5 L495,414.6 L498,414.7 L501,414.7 L504,414.8 L507,414.8 L510,414.9 L513,415.0 L516,415.1 L519,415.2 L522,415.3 L525,415.4 L528,415.5 L531,415.6 L534,415.7 L537,415.8 L540,416.0 L543,416.1 L546,416.3 L549,416.4 L552,416.6 L555,416.8 L558,417.0 L561,417.1 L564,417.3 L567,417.5 L570,417.8 L573,418.0 L576,418.2 L579,418.5 L582,418.7 L585,419.0 L588,419.2 L591,419.5 L594,419.8 L597,420.0 L600,420.3 L603,420.6 L606,420.9 L609,421.2 L612,421.5 L615,421.7 L618,422.0 L621,422.3 L624,422.6 L627,422.8 L630,423.1 L633,423.3 L636,423.6 L639,423.8 L642,424.0 L645,424.1 L648,424.2 L651,424.3 L654,424.3 L657,424.3 L660,424.2 L663,424.0 L666,423.8 L669,423.4 L672,422.9 L675,422.4 L678,421.7 L681,420.8 L684,419.8 L687,418.6 L690,417.3 L693,415.8 L696,414.1 L699,412.2 L702,410.1 L705,407.8 L708,405.4 L711,402.7 L714,400.0 L717,397.1 L720,394.1 L723,391.0 L726,387.9 L729,384.7 L732,381.6 L735,378.6 L738,375.7 L741,373.0 L744,370.5 L747,368.2 L750,366.2 L753,364.6 L756,363.3 L759,362.4 L762,362.0 L765,361.9 L768,362.3 L771,363.1 L774,364.4 L777,366.0 L780,368.1 L783,370.5 L786,373.2 L789,376.2 L792,379.5 L795,382.9 L798,386.5 L801,390.3 L804,394.0 L807,397.8 L810,401.6 L813,405.3 L816,408.9 L819,412.3 L822,415.6 L825,418.8 L828,421.7 L831,424.4 L834,426.9 L837,429.2 L840,431.3 L843,433.2 L846,434.9 L849,436.4 L852,437.7 L855,438.8 L858,439.8 L861,440.7 L864,441.4 L867,442.0 L870,442.5 L873,443.0 L876,443.3 L879,443.7 L882,443.9 L885,444.1 L888,444.3 L891,444.4 L894,444.6 L897,444.7 L900,444.7 L903,444.8 L906,444.9 L909,444.9 L912,445.0 L915,445.0 L918,445.0 L921,445.1 L924,445.1 L927,445.1 L930,445.2 L933,445.2 L936,445.2 L939,445.2 L942,445.3 L945,445.3 L948,445.3 L951,445.4 L954,445.4 L957,445.4 L960,445.4 L963,445.5 L966,445.5 L969,445.5 L972,445.6 L975,445.6 L978,445.7 L981,445.7 L984,445.7 L987,445.8 L990,445.8 L993,445.9 L996,445.9 L999,446.0 L1002,446.0 L1005,446.1 L1008,446.1 L1011,446.2 L1014,446.3 L1017,446.4 L1020,446.4 L1023,446.5 L1026,446.6 L1029,446.7 L1032,446.8 L1035,446.9 L1038,447.1 L1041,447.2 L1044,447.4 L1047,447.5 L1050,447.7 L1053,447.9 L1056,448.0 L1059,448.3 L1062,448.5 L1065,448.7 L1068,449.0 L1071,449.2 L1074,449.5 L1077,449.8 L1080,450.1 L1083,450.5 L1086,450.8 L1089,451.2 L1092,451.5 L1095,451.9 L1098,452.4 L1101,452.8 L1104,453.2 L1107,453.7 L1110,454.1 L1113,454.6 L1116,455.1 L1119,455.6 L1122,456.1 L1125,456.6 L1128,457.1 L1131,457.6 L1134,458.1 L1137,458.6 L1140,459.1 L1143,459.6 L1146,460.1 L1149,460.6 L1152,461.0 L1155,461.5 L1158,461.9 L1161,462.3 L1164,462.7 L1167,463.2 L1170,463.5 L1173,463.9 L1176,464.3 L1179,464.7 L1182,465.0 L1185,465.4 L1188,465.7 L1191,466.1 L1194,466.4 L1197,466.7 L1200,467.1 L1203,467.4 L1206,467.8 L1209,468.2 L1212,468.5 L1215,468.9 L1218,469.3 L1221,469.7 L1224,470.1 L1227,470.6 L1230,471.1 L1233,471.6 L1236,472.1 L1239,472.6 L1242,473.2 L1245,473.8 L1248,474.4 L1251,475.1 L1254,475.7 L1257,476.4 L1260,477.2 L1263,477.9 L1266,478.7 L1269,479.5 L1272,480.4 L1275,481.3 L1278,482.2 L1281,483.1 L1284,484.0 L1287,485.0 L1290,486.0 L1293,487.0 L1296,488.1 L1299,489.1 L1302,490.2 L1305,491.3 L1308,492.4 L1311,493.4 L1314,494.5 L1317,495.5 L1320,496.5 L1323,497.4 L1326,498.3 L1329,499.1 L1332,499.9 L1335,500.5 L1338,501.2 L1341,501.8 L1344,502.3 L1347,502.8 L1350,503.2 L1353,503.6 L1356,504.0 L1359,504.3 L1362,504.6 L1365,504.8 L1368,505.0 L1371,505.3 L1374,505.4 L1377,505.6 L1380,505.8 L1383,505.9 L1386,506.1 L1389,506.2 L1392,506.3 L1395,506.4 L1398,506.5 L1401,506.6 L1404,506.7 L1407,506.8 L1410,506.8 L1413,506.9 L1416,507.0 L1419,507.1 L1422,507.1 L1425,507.2 L1428,507.2 L1431,507.3 L1434,507.3 L1437,507.4 L1440,507.4 L1443,507.5 L1446,507.5 L1449,507.6 L1452,507.6 L1455,507.7 L1458,507.7 L1461,507.8 L1464,507.8 L1467,507.8 L1470,507.9 L1473,507.9 L1476,507.9 L1479,508.0 L1482,508.0 L1485,508.0 L1488,508.1 L1491,508.1 L1494,508.1 L1497,508.1 L1500,508.2 L1503,508.2 L1506,508.2 L1509,508.2 L1512,508.3 L1515,508.3 L1518,508.3 L1521,508.3 L1524,508.4 L1527,508.4 L1530,508.4 L1533,508.4 L1536,508.4 L1539,508.5 L1542,508.5 L1545,508.5 L1548,508.5 L1551,508.5 L1554,508.5 L1557,508.6 L1560,508.6 L1563,508.6 L1566,508.6 L1569,508.6 L1572,508.6 L1575,508.7 L1578,508.7 L1581,508.7 L1584,508.7 L1587,508.7 L1590,508.7 L1593,508.7 L1596,508.7 L1599,508.8 L1602,508.8 L1605,508.8 L1607,508.8" fill="none" stroke="#0000ff" stroke-width="6" stroke-linejoin="round" stroke-linecap="round"/>
<path d="M414,413.8 L417,413.8 L420,413.8 L423,413.8 L426,413.8 L429,413.8 L432,413.8 L435,413.8 L438,413.9 L441,413.9 L444,413.9 L447,413.9 L450,413.9 L453,413.9 L456,414.0 L459,414.0 L462,414.0 L465,414.0 L468,414.1 L471,414.1 L474,414.1 L477,414.2 L480,414.2 L483,414.2 L486,414.3 L489,414.3 L492,414.4 L495,414.4 L498,414.5 L501,414.5 L504,414.6 L507,414.7 L510,414.7 L513,414.8 L516,414.9 L519,415.0 L522,415.1 L525,415.2 L528,415.3 L531,415.4 L534,415.5 L537,415.6 L540,415.8 L543,415.9 L546,416.1 L549,416.2 L552,416.4 L555,416.6 L558,416.7 L561,416.9 L564,417.1 L567,417.3 L570,417.5 L573,417.8 L576,418.0 L579,418.2 L582,418.5 L585,418.7 L588,419.0 L591,419.3 L594,419.5 L597,419.8 L600,420.1 L603,420.4 L606,420.7 L609,420.9 L612,421.2 L615,421.5 L618,421.8 L621,422.1 L624,422.4 L627,422.7 L630,423.0 L633,423.3 L636,423.6 L639,423.9 L642,424.2 L645,424.4 L648,424.7 L651,425.0 L654,425.2 L657,425.5 L660,425.7 L663,426.0 L666,426.2 L669,426.4 L672,426.6 L675,426.8 L678,427.0 L681,427.3 L684,427.5 L687,427.6 L690,427.8 L693,428.0 L696,428.2 L699,428.4 L702,428.6 L705,428.8 L708,428.9 L711,429.1 L714,429.3 L717,429.5 L720,429.7 L723,429.9 L726,430.1 L729,430.3 L732,430.6 L735,430.8 L738,431.0 L741,431.3 L744,431.5 L747,431.8 L750,432.0 L753,432.3 L756,432.6 L759,432.9 L762,433.2 L765,433.5 L768,433.8 L771,434.1 L774,434.4 L777,434.8 L780,435.1 L783,435.5 L786,435.9 L789,436.3 L792,436.7 L795,437.1 L798,437.5 L801,438.0 L804,438.4 L807,438.8 L810,439.3 L813,439.7 L816,440.1 L819,440.5 L822,440.9 L825,441.2 L828,441.6 L831,441.9 L834,442.2 L837,442.5 L840,442.7 L843,442.9 L846,443.1 L849,443.3 L852,443.4 L855,443.6 L858,443.7 L861,443.8 L864,443.8 L867,443.9 L870,444.0 L873,444.0 L876,444.0 L879,444.1 L882,444.1 L885,444.1 L888,444.1 L891,444.1 L894,444.1 L897,444.2 L900,444.2 L903,444.2 L906,444.2 L909,444.2 L912,444.2 L915,444.2 L918,444.2 L921,444.2 L924,444.2 L927,444.3 L930,444.3 L933,444.3 L936,444.3 L939,444.3 L942,444.3 L945,444.3 L948,444.3 L951,444.3 L954,444.3 L957,444.3 L960,444.4 L963,444.4 L966,444.4 L969,444.4 L972,444.4 L975,444.4 L978,444.4 L981,444.4 L984,444.4 L987,444.5 L990,444.5 L993,444.5 L996,444.5 L999,444.5 L1002,444.6 L1005,444.6 L1008,444.6 L1011,444.6 L1014,444.7 L1017,444.7 L1020,444.8 L1023,444.8 L1026,444.9 L1029,444.9 L1032,445.0 L1035,445.1 L1038,445.1 L1041,445.2 L1044,445.3 L1047,445.4 L1050,445.5 L1053,445.6 L1056,445.8 L1059,445.9 L1062,446.1 L1065,446.2 L1068,446.4 L1071,446.6 L1074,446.8 L1077,447.0 L1080,447.3 L1083,447.5 L1086,447.8 L1089,448.0 L1092,448.3 L1095,448.6 L1098,448.9 L1101,449.2 L1104,449.5 L1107,449.8 L1110,450.1 L1113,450.5 L1116,450.8 L1119,451.1 L1122,451.4 L1125,451.7 L1128,451.9 L1131,452.1 L1134,452.3 L1137,452.5 L1140,452.6 L1143,452.7 L1146,452.6 L1149,452.5 L1152,452.3 L1155,452.0 L1158,451.6 L1161,451.1 L1164,450.4 L1167,449.5 L1170,448.4 L1173,447.1 L1176,445.6 L1179,443.9 L1182,441.9 L1185,439.5 L1188,436.9 L1191,433.9 L1194,430.6 L1197,427.0 L1200,423.0 L1203,418.6 L1206,413.9 L1209,408.8 L1212,403.4 L1215,397.7 L1218,391.7 L1221,385.5 L1224,379.1 L1227,372.6 L1230,366.0 L1233,359.4 L1236,353.0 L1239,346.7 L1242,340.8 L1245,335.2 L1248,330.2 L1251,325.8 L1254,322.1 L1257,319.4 L1260,317.5 L1263,316.7 L1266,317.0 L1269,318.3 L1272,320.8 L1275,324.2 L1278,328.6 L1281,333.8 L1284,339.8 L1287,346.4 L1290,353.6 L1293,361.1 L1296,369.0 L1299,377.0 L1302,385.2 L1305,393.3 L1308,401.3 L1311,409.2 L1314,416.9 L1317,424.3 L1320,431.4 L1323,438.1 L1326,444.4 L1329,450.3 L1332,455.7 L1335,460.8 L1338,465.4 L1341,469.6 L1344,473.5 L1347,476.9 L1350,480.0 L1353,482.8 L1356,485.3 L1359,487.5 L1362,489.4 L1365,491.2 L1368,492.7 L1371,494.0 L1374,495.2 L1377,496.2 L1380,497.1 L1383,497.9 L1386,498.6 L1389,499.2 L1392,499.8 L1395,500.3 L1398,500.7 L1401,501.1 L1404,501.5 L1407,501.8 L1410,502.1 L1413,502.4 L1416,502.6 L1419,502.9 L1422,503.1 L1425,503.3 L1428,503.5 L1431,503.7 L1434,503.9 L1437,504.0 L1440,504.2 L1443,504.4 L1446,504.5 L1449,504.6 L1452,504.8 L1455,504.9 L1458,505.0 L1461,505.1 L1464,505.3 L1467,505.4 L1470,505.5 L1473,505.6 L1476,505.7 L1479,505.8 L1482,505.8 L1485,505.9 L1488,506.0 L1491,506.1 L1494,506.2 L1497,506.2 L1500,506.3 L1503,506.4 L1506,506.5 L1509,506.5 L1512,506.6 L1515,506.6 L1518,506.7 L1521,506.8 L1524,506.8 L1527,506.9 L1530,506.9 L1533,507.0 L1536,507.0 L1539,507.1 L1542,507.1 L1545,507.2 L1548,507.2 L1551,507.3 L1554,507.3 L1557,507.4 L1560,507.4 L1563,507.4 L1566,507.5 L1569,507.5 L1572,507.5 L1575,507.6 L1578,507.6 L1581,507.6 L1584,507.7 L1587,507.7 L1590,507.7 L1593,507.8 L1596,507.8 L1599,507.8 L1602,507.9 L1605,507.9 L1607,507.9" fill="none" stroke="#0000ff" stroke-width="6" stroke-linejoin="round" stroke-linecap="round"/>
<path d="M414,413.9 L417,413.9 L420,413.9 L423,413.9 L426,413.9 L429,414.0 L432,414.0 L435,414.0 L438,414.0 L441,414.0 L444,414.0 L447,414.1 L450,414.1 L453,414.1 L456,414.1 L459,414.1 L462,414.2 L465,414.2 L468,414.2 L471,414.3 L474,414.3 L477,414.3 L480,414.4 L483,414.4 L486,414.4 L489,414.5 L492,414.5 L495,414.6 L498,414.7 L501,414.7 L504,414.8 L507,414.8 L510,414.9 L513,415.0 L516,415.1 L519,415.2 L522,415.3 L525,415.4 L528,415.5 L531,415.6 L534,415.7 L537,415.8 L540,416.0 L543,416.1 L546,416.3 L549,416.4 L552,416.6 L555,416.8 L558,417.0 L561,417.1 L564,417.3 L567,417.5 L570,417.8 L573,418.0 L576,418.2 L579,418.5 L582,418.7 L585,419.0 L588,419.2 L591,419.5 L594,419.8 L597,420.0 L600,420.3 L603,420.6 L606,420.9 L609,421.2 L612,421.5 L615,421.8 L618,422.1 L621,422.4 L624,422.7 L627,423.0 L630,423.3 L633,423.6 L636,423.9 L639,424.1 L642,424.4 L645,424.7 L648,425.0 L651,425.2 L654,425.5 L657,425.7 L660,426.0 L663,426.2 L666,426.5 L669,426.7 L672,426.9 L675,427.1 L678,427.4 L681,427.6 L684,427.8 L687,428.0 L690,428.1 L693,428.3 L696,428.5 L699,428.7 L702,428.9 L705,429.1 L708,429.3 L711,429.4 L714,429.6 L717,429.8 L720,429.9 L723,430.0 L726,430.1 L729,430.2 L732,430.1 L735,430.1 L738,429.9 L741,429.5 L744,429.0 L747,428.3 L750,427.3 L753,426.0 L756,424.3 L759,422.3 L762,419.7 L765,416.7 L768,413.1 L771,409.1 L774,404.4 L777,399.4 L780,393.9 L783,388.0 L786,382.0 L789,375.9 L792,370.0 L795,364.3 L798,359.2 L801,354.7 L804,351.0 L807,348.4 L810,346.8 L813,346.4 L816,347.3 L819,349.3 L822,352.4 L825,356.6 L828,361.6 L831,367.3 L834,373.5 L837,380.1 L840,386.8 L843,393.5 L846,400.0 L849,406.1 L852,411.9 L855,417.1 L858,421.8 L861,426.0 L864,429.6 L867,432.7 L870,435.2 L873,437.4 L876,439.1 L879,440.5 L882,441.6 L885,442.5 L888,443.1 L891,443.6 L894,444.0 L897,444.3 L900,444.5 L903,444.7 L906,444.8 L909,444.9 L912,444.9 L915,445.0 L918,445.0 L921,445.1 L924,445.1 L927,445.1 L930,445.2 L933,445.2 L936,445.2 L939,445.2 L942,445.3 L945,445.3 L948,445.3 L951,445.4 L954,445.4 L957,445.4 L960,445.4 L963,445.5 L966,445.5 L969,445.5 L972,445.6 L975,445.6 L978,445.7 L981,445.7 L984,445.7 L987,445.8 L990,445.8 L993,445.9 L996,445.9 L999,446.0 L1002,446.0 L1005,446.1 L1008,446.1 L1011,446.2 L1014,446.3 L1017,446.4 L1020,446.4 L1023,446.5 L1026,446.6 L1029,446.7 L1032,446.8 L1035,446.9 L1038,447.1 L1041,447.2 L1044,447.4 L1047,447.5 L1050,447.7 L1053,447.9 L1056,448.0 L1059,448.3 L1062,448.5 L1065,448.7 L1068,449.0 L1071,449.2 L1074,449.5 L1077,449.8 L1080,450.1 L1083,450.5 L1086,450.8 L1089,451.2 L1092,451.5 L1095,451.9 L1098,452.4 L1101,452.8 L1104,453.2 L1107,453.7 L1110,454.1 L1113,454.6 L1116,455.1 L1119,455.6 L1122,456.1 L1125,456.6 L1128,457.1 L1131,457.6 L1134,458.1 L1137,458.6 L1140,459.1 L1143,459.6 L1146,460.1 L1149,460.6 L1152,461.0 L1155,461.5 L1158,461.9 L1161,462.3 L1164,462.7 L1167,463.2 L1170,463.5 L1173,463.9 L1176,464.3 L1179,464.7 L1182,465.0 L1185,465.4 L1188,465.7 L1191,466.1 L1194,466.4 L1197,466.7 L1200,467.1 L1203,467.4 L1206,467.8 L1209,468.2 L1212,468.5 L1215,468.9 L1218,469.3 L1221,469.7 L1224,470.1 L1227,470.6 L1230,471.1 L1233,471.6 L1236,472.1 L1239,472.6 L1242,473.2 L1245,473.8 L1248,474.4 L1251,475.1 L1254,475.7 L1257,476.4 L1260,477.2 L1263,477.9 L1266,478.7 L1269,479.5 L1272,480.4 L1275,481.3 L1278,482.2 L1281,483.1 L1284,484.0 L1287,485.0 L1290,486.0 L1293,487.0 L1296,488.1 L1299,489.1 L1302,490.2 L1305,491.3 L1308,492.4 L1311,493.4 L1314,494.5 L1317,495.5 L1320,496.5 L1323,497.4 L1326,498.3 L1329,499.1 L1332,499.9 L1335,500.5 L1338,501.2 L1341,501.8 L1344,502.3 L1347,502.8 L1350,503.2 L1353,503.6 L1356,504.0 L1359,504.3 L1362,504.6 L1365,504.8 L1368,505.0 L1371,505.3 L1374,505.4 L1377,505.6 L1380,505.8 L1383,505.9 L1386,506.1 L1389,506.2 L1392,506.3 L1395,506.4 L1398,506.5 L1401,506.6 L1404,506.7 L1407,506.8 L1410,506.8 L1413,506.9 L1416,507.0 L1419,507.1 L1422,507.1 L1425,507.2 L1428,507.2 L1431,507.3 L1434,507.3 L1437,507.4 L1440,507.4 L1443,507.5 L1446,507.5 L1449,507.6 L1452,507.6 L1455,507.7 L1458,507.7 L1461,507.8 L1464,507.8 L1467,507.8 L1470,507.9 L1473,507.9 L1476,507.9 L1479,508.0 L1482,508.0 L1485,508.0 L1488,508.1 L1491,508.1 L1494,508.1 L1497,508.1 L1500,508.2 L1503,508.2 L1506,508.2 L1509,508.2 L1512,508.3 L1515,508.3 L1518,508.3 L1521,508.3 L1524,508.4 L1527,508.4 L1530,508.4 L1533,508.4 L1536,508.4 L1539,508.5 L1542,508.5 L1545,508.5 L1548,508.5 L1551,508.5 L1554,508.5 L1557,508.6 L1560,508.6 L1563,508.6 L1566,508.6 L1569,508.6 L1572,508.6 L1575,508.7 L1578,508.7 L1581,508.7 L1584,508.7 L1587,508.7 L1590,508.7 L1593,508.7 L1596,508.7 L1599,508.8 L1602,508.8 L1605,508.8 L1607,508.8" fill="none" stroke="#ff00ff" stroke-width="6" stroke-linejoin="round" stroke-linecap="round"/>
<path d="M414,413.7 L417,413.7 L420,413.7 L423,413.7 L426,413.7 L429,413.7 L432,413.7 L435,413.8 L438,413.8 L441,413.8 L444,413.8 L447,413.8 L450,413.8 L453,413.9 L456,413.9 L459,413.9 L462,413.9 L465,413.9 L468,414.0 L471,414.0 L474,414.0 L477,414.1 L480,414.1 L483,414.1 L486,414.2 L489,414.2 L492,414.3 L495,414.3 L498,414.4 L501,414.4 L504,414.5 L507,414.6 L510,414.6 L513,414.7 L516,414.8 L519,414.9 L522,415.0 L525,415.1 L528,415.2 L531,415.3 L534,415.4 L537,415.5 L540,415.7 L543,415.8 L546,416.0 L549,416.1 L552,416.3 L555,416.4 L558,416.6 L561,416.8 L564,417.0 L567,417.2 L570,417.4 L573,417.6 L576,417.9 L579,418.1 L582,418.4 L585,418.6 L588,418.9 L591,419.1 L594,419.4 L597,419.7 L600,419.9 L603,420.2 L606,420.5 L609,420.8 L612,421.1 L615,421.4 L618,421.7 L621,422.0 L624,422.3 L627,422.6 L630,422.9 L633,423.2 L636,423.4 L639,423.7 L642,424.0 L645,424.3 L648,424.5 L651,424.8 L654,425.1 L657,425.3 L660,425.6 L663,425.8 L666,426.0 L669,426.3 L672,426.5 L675,426.7 L678,426.9 L681,427.1 L684,427.3 L687,427.5 L690,427.7 L693,427.9 L696,428.0 L699,428.2 L702,428.4 L705,428.6 L708,428.8 L711,429.0 L714,429.1 L717,429.3 L720,429.5 L723,429.7 L726,429.9 L729,430.2 L732,430.4 L735,430.6 L738,430.8 L741,431.1 L744,431.3 L747,431.6 L750,431.8 L753,432.1 L756,432.4 L759,432.7 L762,433.0 L765,433.3 L768,433.6 L771,433.9 L774,434.2 L777,434.6 L780,434.9 L783,435.3 L786,435.7 L789,436.1 L792,436.5 L795,436.9 L798,437.3 L801,437.7 L804,438.2 L807,438.6 L810,439.0 L813,439.4 L816,439.9 L819,440.3 L822,440.6 L825,441.0 L828,441.3 L831,441.7 L834,442.0 L837,442.2 L840,442.5 L843,442.7 L846,442.9 L849,443.0 L852,443.2 L855,443.3 L858,443.4 L861,443.5 L864,443.6 L867,443.6 L870,443.7 L873,443.7 L876,443.7 L879,443.8 L882,443.8 L885,443.8 L888,443.8 L891,443.8 L894,443.8 L897,443.8 L900,443.9 L903,443.9 L906,443.9 L909,443.9 L912,443.9 L915,443.9 L918,443.9 L921,443.9 L924,443.9 L927,443.9 L930,443.9 L933,443.9 L936,443.9 L939,443.9 L942,443.9 L945,443.9 L948,443.9 L951,443.9 L954,443.9 L957,443.9 L960,444.0 L963,444.0 L966,444.0 L969,444.0 L972,444.0 L975,444.0 L978,444.0 L981,444.0 L984,444.0 L987,444.0 L990,444.0 L993,444.0 L996,444.1 L999,444.1 L1002,444.1 L1005,444.1 L1008,444.1 L1011,444.2 L1014,444.2 L1017,444.2 L1020,444.3 L1023,444.3 L1026,444.4 L1029,444.4 L1032,444.5 L1035,444.5 L1038,444.6 L1041,444.7 L1044,444.8 L1047,444.9 L1050,445.0 L1053,445.1 L1056,445.2 L1059,445.4 L1062,445.5 L1065,445.7 L1068,445.9 L1071,446.1 L1074,446.3 L1077,446.5 L1080,446.7 L1083,446.9 L1086,447.2 L1089,447.5 L1092,447.8 L1095,448.0 L1098,448.4 L1101,448.7 L1104,449.0 L1107,449.3 L1110,449.7 L1113,450.0 L1116,450.4 L1119,450.7 L1122,451.1 L1125,451.4 L1128,451.7 L1131,452.1 L1134,452.4 L1137,452.7 L1140,453.0 L1143,453.3 L1146,453.5 L1149,453.7 L1152,454.0 L1155,454.1 L1158,454.3 L1161,454.4 L1164,454.5 L1167,454.6 L1170,454.7 L1173,454.7 L1176,454.7 L1179,454.6 L1182,454.5 L1185,454.4 L1188,454.2 L1191,454.0 L1194,453.8 L1197,453.5 L1200,453.2 L1203,452.8 L1206,452.3 L1209,451.8 L1212,451.2 L1215,450.5 L1218,449.7 L1221,448.8 L1224,447.7 L1227,446.5 L1230,445.0 L1233,443.3 L1236,441.3 L1239,439.0 L1242,436.3 L1245,433.1 L1248,429.5 L1251,425.2 L1254,420.4 L1257,414.8 L1260,408.4 L1263,401.3 L1266,393.3 L1269,384.4 L1272,374.6 L1275,363.9 L1278,352.5 L1281,340.3 L1284,327.6 L1287,314.4 L1290,301.2 L1293,288.3 L1296,276.2 L1299,265.4 L1302,256.5 L1305,250.2 L1308,246.8 L1311,246.7 L1314,250.0 L1317,256.6 L1320,265.9 L1323,277.5 L1326,290.7 L1329,305.0 L1332,319.8 L1335,334.7 L1338,349.3 L1341,363.5 L1344,376.8 L1347,389.4 L1350,401.1 L1353,411.8 L1356,421.5 L1359,430.3 L1362,438.3 L1365,445.3 L1368,451.6 L1371,457.1 L1374,462.0 L1377,466.3 L1380,470.0 L1383,473.3 L1386,476.2 L1389,478.7 L1392,480.9 L1395,482.9 L1398,484.6 L1401,486.1 L1404,487.5 L1407,488.7 L1410,489.8 L1413,490.9 L1416,491.8 L1419,492.6 L1422,493.4 L1425,494.1 L1428,494.8 L1431,495.5 L1434,496.0 L1437,496.6 L1440,497.1 L1443,497.6 L1446,498.0 L1449,498.5 L1452,498.9 L1455,499.3 L1458,499.6 L1461,500.0 L1464,500.3 L1467,500.6 L1470,500.9 L1473,501.2 L1476,501.4 L1479,501.7 L1482,501.9 L1485,502.2 L1488,502.4 L1491,502.6 L1494,502.8 L1497,503.0 L1500,503.2 L1503,503.3 L1506,503.5 L1509,503.7 L1512,503.8 L1515,504.0 L1518,504.1 L1521,504.3 L1524,504.4 L1527,504.5 L1530,504.6 L1533,504.8 L1536,504.9 L1539,505.0 L1542,505.1 L1545,505.2 L1548,505.3 L1551,505.4 L1554,505.5 L1557,505.6 L1560,505.7 L1563,505.7 L1566,505.8 L1569,505.9 L1572,506.0 L1575,506.0 L1578,506.1 L1581,506.2 L1584,506.3 L1587,506.3 L1590,506.4 L1593,506.4 L1596,506.5 L1599,506.6 L1602,506.6 L1605,506.7 L1607,506.7" fill="none" stroke="#ff00ff" stroke-width="6" stroke-linejoin="round" stroke-linecap="round"/>
<path d="M414,413.9 L417,413.9 L420,413.9 L423,413.9 L426,413.9 L429,414.0 L432,414.0 L435,414.0 L438,414.0 L441,414.0 L444,414.0 L447,414.1 L450,414.1 L453,414.1 L456,414.1 L459,414.1 L462,414.2 L465,414.2 L468,414.2 L471,414.3 L474,414.3 L477,414.3 L480,414.4 L483,414.4 L486,414.4 L489,414.5 L492,414.5 L495,414.6 L498,414.7 L501,414.7 L504,414.8 L507,414.8 L510,414.9 L513,415.0 L516,415.1 L519,415.2 L522,415.3 L525,415.4 L528,415.5 L531,415.6 L534,415.7 L537,415.8 L540,416.0 L543,416.1 L546,416.3 L549,416.4 L552,416.6 L555,416.8 L558,417.0 L561,417.1 L564,417.3 L567,417.5 L570,417.8 L573,418.0 L576,418.2 L579,418.5 L582,418.7 L585,419.0 L588,419.2 L591,419.5 L594,419.8 L597,420.0 L600,420.3 L603,420.6 L606,420.9 L609,421.2 L612,421.5 L615,421.8 L618,422.1 L621,422.4 L624,422.7 L627,423.0 L630,423.3 L633,423.6 L636,423.9 L639,424.1 L642,424.4 L645,424.7 L648,425.0 L651,425.2 L654,425.5 L657,425.7 L660,426.0 L663,426.2 L666,426.5 L669,426.7 L672,426.9 L675,427.1 L678,427.4 L681,427.6 L684,427.8 L687,428.0 L690,428.1 L693,428.3 L696,428.5 L699,428.7 L702,428.9 L705,429.1 L708,429.3 L711,429.5 L714,429.7 L717,429.9 L720,430.1 L723,430.3 L726,430.5 L729,430.7 L732,430.9 L735,431.2 L738,431.4 L741,431.6 L744,431.9 L747,432.1 L750,432.4 L753,432.7 L756,433.0 L759,433.3 L762,433.6 L765,433.9 L768,434.2 L771,434.5 L774,434.9 L777,435.2 L780,435.6 L783,436.0 L786,436.4 L789,436.8 L792,437.2 L795,437.6 L798,438.0 L801,438.4 L804,438.9 L807,439.3 L810,439.8 L813,440.2 L816,440.6 L819,441.0 L822,441.4 L825,441.8 L828,442.1 L831,442.5 L834,442.8 L837,443.0 L840,443.3 L843,443.5 L846,443.7 L849,443.9 L852,444.0 L855,444.2 L858,444.3 L861,444.4 L864,444.5 L867,444.6 L870,444.6 L873,444.7 L876,444.7 L879,444.7 L882,444.8 L885,444.8 L888,444.8 L891,444.9 L894,444.9 L897,444.9 L900,444.9 L903,445.0 L906,445.0 L909,445.0 L912,445.0 L915,445.1 L918,445.1 L921,445.1 L924,445.1 L927,445.2 L930,445.2 L933,445.2 L936,445.2 L939,445.3 L942,445.3 L945,445.3 L948,445.3 L951,445.4 L954,445.4 L957,445.4 L960,445.4 L963,445.5 L966,445.5 L969,445.5 L972,445.6 L975,445.6 L978,445.7 L981,445.7 L984,445.7 L987,445.8 L990,445.8 L993,445.9 L996,445.9 L999,446.0 L1002,446.0 L1005,446.1 L1008,446.1 L1011,446.2 L1014,446.3 L1017,446.4 L1020,446.4 L1023,446.5 L1026,446.6 L1029,446.7 L1032,446.8 L1035,446.9 L1038,447.1 L1041,447.2 L1044,447.4 L1047,447.5 L1050,447.7 L1053,447.9 L1056,448.0 L1059,448.3 L1062,448.5 L1065,448.7 L1068,449.0 L1071,449.2 L1074,449.5 L1077,449.8 L1080,450.1 L1083,450.5 L1086,450.8 L1089,451.2 L1092,451.5 L1095,451.9 L1098,452.4 L1101,452.8 L1104,453.2 L1107,453.7 L1110,454.1 L1113,454.6 L1116,455.1 L1119,455.6 L1122,456.1 L1125,456.6 L1128,457.1 L1131,457.6 L1134,458.1 L1137,458.6 L1140,459.1 L1143,459.6 L1146,460.1 L1149,460.6 L1152,461.0 L1155,461.5 L1158,461.9 L1161,462.3 L1164,462.7 L1167,463.2 L1170,463.5 L1173,463.9 L1176,464.3 L1179,464.7 L1182,465.0 L1185,465.4 L1188,465.7 L1191,466.1 L1194,466.4 L1197,466.7 L1200,467.1 L1203,467.4 L1206,467.8 L1209,468.2 L1212,468.5 L1215,468.9 L1218,469.3 L1221,469.7 L1224,470.1 L1227,470.6 L1230,471.1 L1233,471.6 L1236,472.1 L1239,472.6 L1242,473.2 L1245,473.8 L1248,474.4 L1251,475.1 L1254,475.7 L1257,476.4 L1260,477.2 L1263,477.9 L1266,478.7 L1269,479.5 L1272,480.4 L1275,481.3 L1278,482.2 L1281,483.1 L1284,484.0 L1287,485.0 L1290,486.0 L1293,487.0 L1296,488.1 L1299,489.1 L1302,490.2 L1305,491.3 L1308,492.4 L1311,493.4 L1314,494.5 L1317,495.5 L1320,496.5 L1323,497.4 L1326,498.3 L1329,499.1 L1332,499.9 L1335,500.5 L1338,501.2 L1341,501.8 L1344,502.3 L1347,502.8 L1350,503.2 L1353,503.6 L1356,504.0 L1359,504.3 L1362,504.6 L1365,504.8 L1368,505.0 L1371,505.3 L1374,505.4 L1377,505.6 L1380,505.8 L1383,505.9 L1386,506.1 L1389,506.2 L1392,506.3 L1395,506.4 L1398,506.5 L1401,506.6 L1404,506.7 L1407,506.8 L1410,506.8 L1413,506.9 L1416,507.0 L1419,507.1 L1422,507.1 L1425,507.2 L1428,507.2 L1431,507.3 L1434,507.3 L1437,507.4 L1440,507.4 L1443,507.5 L1446,507.5 L1449,507.6 L1452,507.6 L1455,507.7 L1458,507.7 L1461,507.8 L1464,507.8 L1467,507.8 L1470,507.9 L1473,507.9 L1476,507.9 L1479,508.0 L1482,508.0 L1485,508.0 L1488,508.1 L1491,508.1 L1494,508.1 L1497,508.1 L1500,508.2 L1503,508.2 L1506,508.2 L1509,508.2 L1512,508.3 L1515,508.3 L1518,508.3 L1521,508.3 L1524,508.4 L1527,508.4 L1530,508.4 L1533,508.4 L1536,508.4 L1539,508.5 L1542,508.5 L1545,508.5 L1548,508.5 L1551,508.5 L1554,508.5 L1557,508.6 L1560,508.6 L1563,508.6 L1566,508.6 L1569,508.6 L1572,508.6 L1575,508.7 L1578,508.7 L1581,508.7 L1584,508.7 L1587,508.7 L1590,508.7 L1593,508.7 L1596,508.7 L1599,508.8 L1602,508.8 L1605,508.8 L1607,508.8" fill="none" stroke="#ff00ff" stroke-width="6" stroke-linejoin="round" stroke-linecap="round"/>
<path d="M414,410.1 L417,410.0 L420,409.8 L423,409.7 L426,409.5 L429,409.3 L432,409.1 L435,408.9 L438,408.7 L441,408.4 L444,408.1 L447,407.8 L450,407.5 L453,407.1 L456,406.7 L459,406.3 L462,405.8 L465,405.3 L468,404.7 L471,404.1 L474,403.4 L477,402.7 L480,401.9 L483,401.1 L486,400.2 L489,399.2 L492,398.2 L495,397.1 L498,395.9 L501,394.6 L504,393.3 L507,391.9 L510,390.4 L513,388.8 L516,387.2 L519,385.4 L522,383.6 L525,381.7 L528,379.8 L531,377.7 L534,375.6 L537,373.5 L540,371.2 L543,369.0 L546,366.6 L549,364.3 L552,361.9 L555,359.5 L558,357.1 L561,354.6 L564,352.2 L567,349.9 L570,347.5 L573,345.2 L576,343.0 L579,340.8 L582,338.8 L585,336.8 L588,335.0 L591,333.4 L594,331.8 L597,330.5 L600,329.3 L603,328.4 L606,327.6 L609,327.1 L612,326.7 L615,326.7 L618,326.8 L621,327.2 L624,327.8 L627,328.7 L630,329.7 L633,331.0 L636,332.4 L639,334.0 L642,335.8 L645,337.7 L648,339.8 L651,341.9 L654,344.1 L657,346.3 L660,348.6 L663,350.8 L666,353.1 L669,355.2 L672,357.3 L675,359.3 L678,361.2 L681,362.9 L684,364.5 L687,365.8 L690,367.0 L693,367.9 L696,368.6 L699,369.0 L702,369.2 L705,369.1 L708,368.8 L711,368.2 L714,367.3 L717,366.3 L720,365.0 L723,363.5 L726,361.9 L729,360.1 L732,358.3 L735,356.3 L738,354.2 L741,352.1 L744,350.0 L747,347.8 L750,345.5 L753,343.2 L756,340.8 L759,338.4 L762,335.8 L765,333.0 L768,330.2 L771,327.1 L774,323.9 L777,320.6 L780,317.2 L783,313.8 L786,310.4 L789,307.3 L792,304.5 L795,302.1 L798,300.3 L801,299.3 L804,299.2 L807,300.1 L810,302.0 L813,305.0 L816,309.1 L819,314.2 L822,320.4 L825,327.3 L828,335.0 L831,343.2 L834,351.6 L837,360.3 L840,368.8 L843,377.2 L846,385.1 L849,392.6 L852,399.5 L855,405.7 L858,411.3 L861,416.2 L864,420.4 L867,424.0 L870,427.0 L873,429.5 L876,431.5 L879,433.2 L882,434.4 L885,435.4 L888,436.2 L891,436.7 L894,437.1 L897,437.4 L900,437.6 L903,437.7 L906,437.8 L909,437.8 L912,437.8 L915,437.8 L918,437.7 L921,437.7 L924,437.6 L927,437.5 L930,437.4 L933,437.2 L936,437.1 L939,437.0 L942,436.8 L945,436.7 L948,436.5 L951,436.3 L954,436.1 L957,435.8 L960,435.6 L963,435.3 L966,435.0 L969,434.7 L972,434.3 L975,433.9 L978,433.5 L981,433.0 L984,432.4 L987,431.8 L990,431.2 L993,430.4 L996,429.6 L999,428.7 L1002,427.7 L1005,426.6 L1008,425.4 L1011,424.1 L1014,422.6 L1017,421.0 L1020,419.2 L1023,417.3 L1026,415.2 L1029,413.0 L1032,410.5 L1035,407.9 L1038,405.0 L1041,402.0 L1044,398.8 L1047,395.3 L1050,391.7 L1053,387.9 L1056,383.9 L1059,379.6 L1062,375.3 L1065,370.7 L1068,366.1 L1071,361.3 L1074,356.4 L1077,351.4 L1080,346.4 L1083,341.4 L1086,336.4 L1089,331.5 L1092,326.7 L1095,322.0 L1098,317.6 L1101,313.5 L1104,309.6 L1107,306.2 L1110,303.1 L1113,300.6 L1116,298.5 L1119,297.1 L1122,296.2 L1125,295.9 L1128,296.2 L1131,297.1 L1134,298.5 L1137,300.5 L1140,303.0 L1143,305.9 L1146,309.2 L1149,312.8 L1152,316.6 L1155,320.6 L1158,324.7 L1161,328.8 L1164,332.8 L1167,336.8 L1170,340.5 L1173,344.1 L1176,347.3 L1179,350.2 L1182,352.7 L1185,354.7 L1188,356.3 L1191,357.3 L1194,357.8 L1197,357.7 L1200,356.9 L1203,355.6 L1206,353.6 L1209,351.0 L1212,347.8 L1215,344.0 L1218,339.5 L1221,334.5 L1224,329.0 L1227,322.9 L1230,316.4 L1233,309.5 L1236,302.2 L1239,294.6 L1242,286.7 L1245,278.7 L1248,270.5 L1251,262.3 L1254,254.0 L1257,245.8 L1260,237.6 L1263,229.6 L1266,221.7 L1269,213.9 L1272,206.2 L1275,198.6 L1278,191.0 L1281,183.5 L1284,176.1 L1287,169.0 L1290,162.2 L1293,156.1 L1296,151.0 L1299,147.4 L1302,145.8 L1305,146.7 L1308,150.5 L1311,157.4 L1314,167.5 L1317,180.6 L1320,196.1 L1323,213.6 L1326,232.4 L1329,251.9 L1332,271.5 L1335,290.9 L1338,309.6 L1341,327.5 L1344,344.3 L1347,359.9 L1350,374.3 L1353,387.5 L1356,399.5 L1359,410.2 L1362,419.9 L1365,428.5 L1368,436.1 L1371,442.8 L1374,448.8 L1377,453.9 L1380,458.5 L1383,462.5 L1386,466.0 L1389,469.1 L1392,471.8 L1395,474.2 L1398,476.3 L1401,478.2 L1404,479.9 L1407,481.4 L1410,482.8 L1413,484.0 L1416,485.2 L1419,486.3 L1422,487.2 L1425,488.2 L1428,489.0 L1431,489.8 L1434,490.6 L1437,491.3 L1440,491.9 L1443,492.5 L1446,493.1 L1449,493.7 L1452,494.2 L1455,494.7 L1458,495.2 L1461,495.6 L1464,496.1 L1467,496.5 L1470,496.8 L1473,497.2 L1476,497.6 L1479,497.9 L1482,498.2 L1485,498.5 L1488,498.8 L1491,499.1 L1494,499.4 L1497,499.7 L1500,499.9 L1503,500.1 L1506,500.4 L1509,500.6 L1512,500.8 L1515,501.0 L1518,501.2 L1521,501.4 L1524,501.6 L1527,501.8 L1530,501.9 L1533,502.1 L1536,502.3 L1539,502.4 L1542,502.6 L1545,502.7 L1548,502.9 L1551,503.0 L1554,503.1 L1557,503.3 L1560,503.4 L1563,503.5 L1566,503.6 L1569,503.7 L1572,503.8 L1575,504.0 L1578,504.1 L1581,504.2 L1584,504.3 L1587,504.4 L1590,504.4 L1593,504.5 L1596,504.6 L1599,504.7 L1602,504.8 L1605,504.9 L1607,504.9" fill="none" stroke="#f00" stroke-width="8.6" stroke-linejoin="round" stroke-linecap="round"/>
<path d="M414,410.8 L417,410.7 L420,410.6 L423,410.4 L426,410.2 L429,410.1 L432,409.9 L435,409.7 L438,409.4 L441,409.2 L444,408.9 L447,408.6 L450,408.3 L453,407.9 L456,407.5 L459,407.1 L462,406.6 L465,406.1 L468,405.6 L471,404.9 L474,404.3 L477,403.6 L480,402.8 L483,402.0 L486,401.1 L489,400.1 L492,399.1 L495,398.0 L498,396.8 L501,395.6 L504,394.2 L507,392.8 L510,391.3 L513,389.8 L516,388.1 L519,386.4 L522,384.6 L525,382.7 L528,380.8 L531,378.7 L534,376.6 L537,374.5 L540,372.3 L543,370.0 L546,367.7 L549,365.3 L552,363.0 L555,360.6 L558,358.1 L561,355.7 L564,353.3 L567,351.0 L570,348.6 L573,346.4 L576,344.1 L579,342.0 L582,340.0 L585,338.0 L588,336.2 L591,334.6 L594,333.1 L597,331.7 L600,330.6 L603,329.6 L606,328.9 L609,328.4 L612,328.1 L615,328.0 L618,328.2 L621,328.6 L624,329.3 L627,330.2 L630,331.3 L633,332.6 L636,334.1 L639,335.8 L642,337.7 L645,339.8 L648,342.0 L651,344.3 L654,346.8 L657,349.3 L660,351.9 L663,354.6 L666,357.4 L669,360.1 L672,362.9 L675,365.7 L678,368.5 L681,371.3 L684,374.1 L687,376.9 L690,379.6 L693,382.2 L696,384.8 L699,387.4 L702,389.8 L705,392.2 L708,394.6 L711,396.8 L714,399.0 L717,401.1 L720,403.1 L723,405.0 L726,406.9 L729,408.7 L732,410.4 L735,412.0 L738,413.5 L741,415.0 L744,416.4 L747,417.8 L750,419.0 L753,420.3 L756,421.4 L759,422.5 L762,423.6 L765,424.6 L768,425.5 L771,426.4 L774,427.3 L777,428.2 L780,429.0 L783,429.8 L786,430.6 L789,431.3 L792,432.0 L795,432.8 L798,433.4 L801,434.1 L804,434.8 L807,435.4 L810,436.1 L813,436.7 L816,437.2 L819,437.8 L822,438.3 L825,438.8 L828,439.3 L831,439.7 L834,440.1 L837,440.5 L840,440.8 L843,441.1 L846,441.4 L849,441.6 L852,441.8 L855,442.0 L858,442.2 L861,442.4 L864,442.5 L867,442.6 L870,442.7 L873,442.8 L876,442.9 L879,443.0 L882,443.1 L885,443.1 L888,443.2 L891,443.3 L894,443.3 L897,443.4 L900,443.4 L903,443.5 L906,443.5 L909,443.6 L912,443.6 L915,443.7 L918,443.7 L921,443.8 L924,443.8 L927,443.9 L930,443.9 L933,444.0 L936,444.0 L939,444.1 L942,444.1 L945,444.2 L948,444.2 L951,444.3 L954,444.3 L957,444.3 L960,444.4 L963,444.4 L966,444.5 L969,444.5 L972,444.6 L975,444.6 L978,444.7 L981,444.8 L984,444.8 L987,444.9 L990,444.9 L993,445.0 L996,445.0 L999,445.1 L1002,445.2 L1005,445.3 L1008,445.3 L1011,445.4 L1014,445.5 L1017,445.6 L1020,445.7 L1023,445.8 L1026,445.9 L1029,446.0 L1032,446.1 L1035,446.2 L1038,446.4 L1041,446.5 L1044,446.7 L1047,446.8 L1050,447.0 L1053,447.2 L1056,447.4 L1059,447.6 L1062,447.8 L1065,448.1 L1068,448.3 L1071,448.6 L1074,448.9 L1077,449.2 L1080,449.5 L1083,449.9 L1086,450.2 L1089,450.6 L1092,451.0 L1095,451.4 L1098,451.8 L1101,452.2 L1104,452.7 L1107,453.2 L1110,453.6 L1113,454.1 L1116,454.6 L1119,455.1 L1122,455.6 L1125,456.1 L1128,456.6 L1131,457.1 L1134,457.7 L1137,458.2 L1140,458.7 L1143,459.1 L1146,459.6 L1149,460.1 L1152,460.6 L1155,461.0 L1158,461.5 L1161,461.9 L1164,462.3 L1167,462.7 L1170,463.1 L1173,463.5 L1176,463.9 L1179,464.3 L1182,464.6 L1185,465.0 L1188,465.3 L1191,465.7 L1194,466.0 L1197,466.4 L1200,466.7 L1203,467.1 L1206,467.4 L1209,467.8 L1212,468.2 L1215,468.6 L1218,469.0 L1221,469.4 L1224,469.8 L1227,470.3 L1230,470.7 L1233,471.2 L1236,471.7 L1239,472.3 L1242,472.9 L1245,473.5 L1248,474.1 L1251,474.7 L1254,475.4 L1257,476.1 L1260,476.9 L1263,477.6 L1266,478.4 L1269,479.2 L1272,480.1 L1275,481.0 L1278,481.9 L1281,482.8 L1284,483.7 L1287,484.7 L1290,485.7 L1293,486.7 L1296,487.8 L1299,488.9 L1302,489.9 L1305,491.0 L1308,492.1 L1311,493.2 L1314,494.2 L1317,495.2 L1320,496.2 L1323,497.1 L1326,498.0 L1329,498.8 L1332,499.6 L1335,500.3 L1338,500.9 L1341,501.5 L1344,502.1 L1347,502.5 L1350,503.0 L1353,503.4 L1356,503.7 L1359,504.0 L1362,504.3 L1365,504.6 L1368,504.8 L1371,505.0 L1374,505.2 L1377,505.4 L1380,505.6 L1383,505.7 L1386,505.8 L1389,506.0 L1392,506.1 L1395,506.2 L1398,506.3 L1401,506.4 L1404,506.5 L1407,506.6 L1410,506.6 L1413,506.7 L1416,506.8 L1419,506.9 L1422,506.9 L1425,507.0 L1428,507.0 L1431,507.1 L1434,507.2 L1437,507.2 L1440,507.3 L1443,507.3 L1446,507.4 L1449,507.4 L1452,507.4 L1455,507.5 L1458,507.5 L1461,507.6 L1464,507.6 L1467,507.6 L1470,507.7 L1473,507.7 L1476,507.8 L1479,507.8 L1482,507.8 L1485,507.9 L1488,507.9 L1491,507.9 L1494,507.9 L1497,508.0 L1500,508.0 L1503,508.0 L1506,508.1 L1509,508.1 L1512,508.1 L1515,508.1 L1518,508.1 L1521,508.2 L1524,508.2 L1527,508.2 L1530,508.2 L1533,508.3 L1536,508.3 L1539,508.3 L1542,508.3 L1545,508.3 L1548,508.4 L1551,508.4 L1554,508.4 L1557,508.4 L1560,508.4 L1563,508.4 L1566,508.5 L1569,508.5 L1572,508.5 L1575,508.5 L1578,508.5 L1581,508.5 L1584,508.6 L1587,508.6 L1590,508.6 L1593,508.6 L1596,508.6 L1599,508.6 L1602,508.6 L1605,508.7 L1607,508.7" fill="none" stroke="#008000" stroke-width="6" stroke-linejoin="round" stroke-linecap="round"/>
<path d="M414,413.5 L417,413.6 L420,413.6 L423,413.6 L426,413.6 L429,413.6 L432,413.6 L435,413.6 L438,413.6 L441,413.6 L444,413.7 L447,413.7 L450,413.7 L453,413.7 L456,413.7 L459,413.7 L462,413.8 L465,413.8 L468,413.8 L471,413.8 L474,413.9 L477,413.9 L480,413.9 L483,414.0 L486,414.0 L489,414.1 L492,414.1 L495,414.1 L498,414.2 L501,414.3 L504,414.3 L507,414.4 L510,414.4 L513,414.5 L516,414.6 L519,414.7 L522,414.8 L525,414.9 L528,415.0 L531,415.1 L534,415.2 L537,415.3 L540,415.5 L543,415.6 L546,415.7 L549,415.9 L552,416.1 L555,416.2 L558,416.4 L561,416.6 L564,416.8 L567,417.0 L570,417.2 L573,417.4 L576,417.6 L579,417.9 L582,418.1 L585,418.3 L588,418.6 L591,418.9 L594,419.1 L597,419.4 L600,419.7 L603,420.0 L606,420.2 L609,420.5 L612,420.8 L615,421.1 L618,421.4 L621,421.7 L624,422.0 L627,422.3 L630,422.5 L633,422.8 L636,423.1 L639,423.4 L642,423.7 L645,423.9 L648,424.2 L651,424.4 L654,424.7 L657,424.9 L660,425.2 L663,425.4 L666,425.6 L669,425.9 L672,426.1 L675,426.3 L678,426.5 L681,426.7 L684,426.9 L687,427.0 L690,427.2 L693,427.4 L696,427.6 L699,427.7 L702,427.9 L705,428.1 L708,428.3 L711,428.4 L714,428.6 L717,428.8 L720,429.0 L723,429.2 L726,429.4 L729,429.6 L732,429.8 L735,430.0 L738,430.2 L741,430.4 L744,430.7 L747,430.9 L750,431.2 L753,431.4 L756,431.7 L759,432.0 L762,432.2 L765,432.5 L768,432.8 L771,433.1 L774,433.5 L777,433.8 L780,434.1 L783,434.5 L786,434.8 L789,435.2 L792,435.6 L795,436.0 L798,436.4 L801,436.8 L804,437.2 L807,437.6 L810,438.0 L813,438.4 L816,438.8 L819,439.2 L822,439.5 L825,439.9 L828,440.2 L831,440.5 L834,440.7 L837,441.0 L840,441.2 L843,441.4 L846,441.5 L849,441.6 L852,441.7 L855,441.8 L858,441.9 L861,441.9 L864,442.0 L867,442.0 L870,442.0 L873,442.0 L876,442.0 L879,441.9 L882,441.9 L885,441.9 L888,441.8 L891,441.8 L894,441.7 L897,441.7 L900,441.6 L903,441.6 L906,441.5 L909,441.4 L912,441.4 L915,441.3 L918,441.2 L921,441.1 L924,441.0 L927,440.9 L930,440.8 L933,440.7 L936,440.6 L939,440.5 L942,440.3 L945,440.2 L948,440.0 L951,439.8 L954,439.7 L957,439.5 L960,439.2 L963,439.0 L966,438.7 L969,438.4 L972,438.1 L975,437.7 L978,437.3 L981,436.9 L984,436.4 L987,435.8 L990,435.2 L993,434.5 L996,433.7 L999,432.9 L1002,432.0 L1005,430.9 L1008,429.8 L1011,428.5 L1014,427.1 L1017,425.5 L1020,423.8 L1023,422.0 L1026,420.0 L1029,417.8 L1032,415.4 L1035,412.9 L1038,410.2 L1041,407.2 L1044,404.1 L1047,400.7 L1050,397.2 L1053,393.5 L1056,389.6 L1059,385.5 L1062,381.2 L1065,376.8 L1068,372.3 L1071,367.6 L1074,362.9 L1077,358.1 L1080,353.2 L1083,348.4 L1086,343.6 L1089,338.9 L1092,334.3 L1095,329.8 L1098,325.6 L1101,321.7 L1104,318.1 L1107,314.9 L1110,312.1 L1113,309.9 L1116,308.1 L1119,307.0 L1122,306.4 L1125,306.5 L1128,307.2 L1131,308.6 L1134,310.5 L1137,313.1 L1140,316.1 L1143,319.7 L1146,323.7 L1149,328.1 L1152,332.8 L1155,337.8 L1158,343.0 L1161,348.4 L1164,353.8 L1167,359.4 L1170,364.9 L1173,370.5 L1176,376.0 L1179,381.4 L1182,386.7 L1185,391.9 L1188,397.0 L1191,401.8 L1194,406.5 L1197,411.0 L1200,415.4 L1203,419.5 L1206,423.4 L1209,427.1 L1212,430.6 L1215,433.9 L1218,437.1 L1221,440.0 L1224,442.8 L1227,445.4 L1230,447.9 L1233,450.2 L1236,452.4 L1239,454.4 L1242,456.4 L1245,458.2 L1248,460.0 L1251,461.7 L1254,463.3 L1257,464.8 L1260,466.3 L1263,467.8 L1266,469.2 L1269,470.5 L1272,471.9 L1275,473.2 L1278,474.5 L1281,475.8 L1284,477.1 L1287,478.4 L1290,479.7 L1293,481.0 L1296,482.3 L1299,483.6 L1302,484.8 L1305,486.1 L1308,487.4 L1311,488.6 L1314,489.8 L1317,491.0 L1320,492.1 L1323,493.1 L1326,494.1 L1329,495.1 L1332,495.9 L1335,496.7 L1338,497.5 L1341,498.2 L1344,498.8 L1347,499.4 L1350,499.9 L1353,500.3 L1356,500.8 L1359,501.2 L1362,501.5 L1365,501.9 L1368,502.2 L1371,502.4 L1374,502.7 L1377,502.9 L1380,503.1 L1383,503.3 L1386,503.5 L1389,503.7 L1392,503.9 L1395,504.0 L1398,504.2 L1401,504.3 L1404,504.5 L1407,504.6 L1410,504.7 L1413,504.8 L1416,504.9 L1419,505.0 L1422,505.1 L1425,505.2 L1428,505.3 L1431,505.4 L1434,505.5 L1437,505.6 L1440,505.7 L1443,505.8 L1446,505.8 L1449,505.9 L1452,506.0 L1455,506.1 L1458,506.1 L1461,506.2 L1464,506.3 L1467,506.3 L1470,506.4 L1473,506.4 L1476,506.5 L1479,506.6 L1482,506.6 L1485,506.7 L1488,506.7 L1491,506.8 L1494,506.8 L1497,506.9 L1500,506.9 L1503,507.0 L1506,507.0 L1509,507.0 L1512,507.1 L1515,507.1 L1518,507.2 L1521,507.2 L1524,507.2 L1527,507.3 L1530,507.3 L1533,507.4 L1536,507.4 L1539,507.4 L1542,507.5 L1545,507.5 L1548,507.5 L1551,507.5 L1554,507.6 L1557,507.6 L1560,507.6 L1563,507.7 L1566,507.7 L1569,507.7 L1572,507.8 L1575,507.8 L1578,507.8 L1581,507.8 L1584,507.9 L1587,507.9 L1590,507.9 L1593,507.9 L1596,508.0 L1599,508.0 L1602,508.0 L1605,508.0 L1607,508.0" fill="none" stroke="#008000" stroke-width="6" stroke-linejoin="round" stroke-linecap="round"/>
<path d="M414,413.9 L417,413.9 L420,413.9 L423,413.9 L426,413.9 L429,414.0 L432,414.0 L435,414.0 L438,414.0 L441,414.0 L444,414.0 L447,414.1 L450,414.1 L453,414.1 L456,414.1 L459,414.1 L462,414.2 L465,414.2 L468,414.2 L471,414.3 L474,414.3 L477,414.3 L480,414.4 L483,414.4 L486,414.4 L489,414.5 L492,414.5 L495,414.6 L498,414.7 L501,414.7 L504,414.8 L507,414.8 L510,414.9 L513,415.0 L516,415.1 L519,415.2 L522,415.3 L525,415.4 L528,415.5 L531,415.6 L534,415.7 L537,415.8 L540,416.0 L543,416.1 L546,416.3 L549,416.4 L552,416.6 L555,416.8 L558,417.0 L561,417.1 L564,417.3 L567,417.5 L570,417.8 L573,418.0 L576,418.2 L579,418.5 L582,418.7 L585,419.0 L588,419.2 L591,419.5 L594,419.8 L597,420.0 L600,420.3 L603,420.6 L606,420.9 L609,421.2 L612,421.5 L615,421.8 L618,422.1 L621,422.4 L624,422.7 L627,423.0 L630,423.3 L633,423.6 L636,423.9 L639,424.1 L642,424.4 L645,424.7 L648,425.0 L651,425.2 L654,425.5 L657,425.7 L660,426.0 L663,426.2 L666,426.5 L669,426.7 L672,426.9 L675,427.1 L678,427.4 L681,427.6 L684,427.8 L687,428.0 L690,428.1 L693,428.3 L696,428.5 L699,428.7 L702,428.9 L705,429.1 L708,429.3 L711,429.5 L714,429.7 L717,429.9 L720,430.1 L723,430.3 L726,430.5 L729,430.7 L732,430.9 L735,431.2 L738,431.4 L741,431.6 L744,431.9 L747,432.1 L750,432.4 L753,432.7 L756,433.0 L759,433.3 L762,433.6 L765,433.9 L768,434.2 L771,434.5 L774,434.9 L777,435.2 L780,435.6 L783,436.0 L786,436.4 L789,436.8 L792,437.2 L795,437.6 L798,438.0 L801,438.4 L804,438.9 L807,439.3 L810,439.8 L813,440.2 L816,440.6 L819,441.0 L822,441.4 L825,441.8 L828,442.1 L831,442.5 L834,442.8 L837,443.0 L840,443.3 L843,443.5 L846,443.7 L849,443.9 L852,444.0 L855,444.2 L858,444.3 L861,444.4 L864,444.5 L867,444.6 L870,444.6 L873,444.7 L876,444.7 L879,444.7 L882,444.8 L885,444.8 L888,444.8 L891,444.9 L894,444.9 L897,444.9 L900,444.9 L903,445.0 L906,445.0 L909,445.0 L912,445.0 L915,445.1 L918,445.1 L921,445.1 L924,445.1 L927,445.2 L930,445.2 L933,445.2 L936,445.2 L939,445.3 L942,445.3 L945,445.3 L948,445.3 L951,445.4 L954,445.4 L957,445.4 L960,445.4 L963,445.5 L966,445.5 L969,445.5 L972,445.6 L975,445.6 L978,445.7 L981,445.7 L984,445.7 L987,445.8 L990,445.8 L993,445.9 L996,445.9 L999,446.0 L1002,446.0 L1005,446.1 L1008,446.1 L1011,446.2 L1014,446.3 L1017,446.4 L1020,446.4 L1023,446.5 L1026,446.6 L1029,446.7 L1032,446.8 L1035,446.9 L1038,447.1 L1041,447.2 L1044,447.4 L1047,447.5 L1050,447.7 L1053,447.9 L1056,448.0 L1059,448.3 L1062,448.5 L1065,448.7 L1068,449.0 L1071,449.2 L1074,449.5 L1077,449.8 L1080,450.1 L1083,450.5 L1086,450.8 L1089,451.2 L1092,451.5 L1095,451.9 L1098,452.4 L1101,452.8 L1104,453.2 L1107,453.7 L1110,454.1 L1113,454.6 L1116,455.1 L1119,455.6 L1122,456.1 L1125,456.6 L1128,457.1 L1131,457.6 L1134,458.1 L1137,458.6 L1140,459.1 L1143,459.6 L1146,460.1 L1149,460.6 L1152,461.0 L1155,461.5 L1158,461.9 L1161,462.3 L1164,462.7 L1167,463.2 L1170,463.5 L1173,463.9 L1176,464.3 L1179,464.7 L1182,465.0 L1185,465.4 L1188,465.7 L1191,466.1 L1194,466.4 L1197,466.7 L1200,467.1 L1203,467.4 L1206,467.8 L1209,468.2 L1212,468.5 L1215,468.9 L1218,469.3 L1221,469.7 L1224,470.1 L1227,470.6 L1230,471.1 L1233,471.6 L1236,472.1 L1239,472.6 L1242,473.2 L1245,473.8 L1248,474.4 L1251,475.1 L1254,475.7 L1257,476.4 L1260,477.2 L1263,477.9 L1266,478.7 L1269,479.5 L1272,480.4 L1275,481.3 L1278,482.2 L1281,483.1 L1284,484.0 L1287,485.0 L1290,486.0 L1293,487.0 L1296,488.1 L1299,489.1 L1302,490.2 L1305,491.3 L1308,492.4 L1311,493.4 L1314,494.5 L1317,495.5 L1320,496.5 L1323,497.4 L1326,498.3 L1329,499.1 L1332,499.9 L1335,500.5 L1338,501.2 L1341,501.8 L1344,502.3 L1347,502.8 L1350,503.2 L1353,503.6 L1356,504.0 L1359,504.3 L1362,504.6 L1365,504.8 L1368,505.0 L1371,505.3 L1374,505.4 L1377,505.6 L1380,505.8 L1383,505.9 L1386,506.1 L1389,506.2 L1392,506.3 L1395,506.4 L1398,506.5 L1401,506.6 L1404,506.7 L1407,506.8 L1410,506.8 L1413,506.9 L1416,507.0 L1419,507.1 L1422,507.1 L1425,507.2 L1428,507.2 L1431,507.3 L1434,507.3 L1437,507.4 L1440,507.4 L1443,507.5 L1446,507.5 L1449,507.6 L1452,507.6 L1455,507.7 L1458,507.7 L1461,507.8 L1464,507.8 L1467,507.8 L1470,507.9 L1473,507.9 L1476,507.9 L1479,508.0 L1482,508.0 L1485,508.0 L1488,508.1 L1491,508.1 L1494,508.1 L1497,508.1 L1500,508.2 L1503,508.2 L1506,508.2 L1509,508.2 L1512,508.3 L1515,508.3 L1518,508.3 L1521,508.3 L1524,508.4 L1527,508.4 L1530,508.4 L1533,508.4 L1536,508.4 L1539,508.5 L1542,508.5 L1545,508.5 L1548,508.5 L1551,508.5 L1554,508.5 L1557,508.6 L1560,508.6 L1563,508.6 L1566,508.6 L1569,508.6 L1572,508.6 L1575,508.7 L1578,508.7 L1581,508.7 L1584,508.7 L1587,508.7 L1590,508.7 L1593,508.7 L1596,508.7 L1599,508.8 L1602,508.8 L1605,508.8 L1607,508.8" fill="none" stroke="#ff00ff" stroke-width="6" stroke-linejoin="round" stroke-linecap="round"/>
<g fill="none" stroke="#000" stroke-width="1.3">
<circle cx="407.0" cy="910.6" r="6.3"/>
<circle cx="409.8" cy="885.0" r="6.3"/>
<circle cx="412.7" cy="937.0" r="6.3"/>
<circle cx="415.5" cy="939.1" r="6.3"/>
<circle cx="418.3" cy="917.3" r="6.3"/>
<circle cx="421.1" cy="930.1" r="6.3"/>
<circle cx="424.0" cy="956.2" r="6.3"/>
<circle cx="426.8" cy="942.4" r="6.3"/>
<circle cx="429.6" cy="934.6" r="6.3"/>
<circle cx="432.5" cy="933.4" r="6.3"/>
<circle cx="435.3" cy="901.5" r="6.3"/>
<circle cx="438.1" cy="937.2" r="6.3"/>
<circle cx="441.0" cy="884.1" r="6.3"/>
<circle cx="443.8" cy="910.2" r="6.3"/>
<circle cx="446.6" cy="908.2" r="6.3"/>
<circle cx="449.4" cy="884.8" r="6.3"/>
<circle cx="452.3" cy="914.1" r="6.3"/>
<circle cx="455.1" cy="943.5" r="6.3"/>
<circle cx="457.9" cy="910.0" r="6.3"/>
<circle cx="460.8" cy="896.5" r="6.3"/>
<circle cx="463.6" cy="913.5" r="6.3"/>
<circle cx="466.4" cy="926.5" r="6.3"/>
<circle cx="469.3" cy="913.3" r="6.3"/>
<circle cx="472.1" cy="905.6" r="6.3"/>
<circle cx="474.9" cy="879.3" r="6.3"/>
<circle cx="477.7" cy="903.7" r="6.3"/>
<circle cx="480.6" cy="898.7" r="6.3"/>
<circle cx="483.4" cy="908.1" r="6.3"/>
<circle cx="486.2" cy="906.1" r="6.3"/>
<circle cx="489.1" cy="887.5" r="6.3"/>
<circle cx="491.9" cy="840.6" r="6.3"/>
<circle cx="494.7" cy="845.4" r="6.3"/>
<circle cx="497.6" cy="852.8" r="6.3"/>
<circle cx="500.4" cy="879.0" r="6.3"/>
<circle cx="503.2" cy="860.6" r="6.3"/>
<circle cx="506.0" cy="899.4" r="6.3"/>
<circle cx="508.9" cy="881.2" r="6.3"/>
<circle cx="511.7" cy="884.2" r="6.3"/>
<circle cx="514.5" cy="892.0" r="6.3"/>
<circle cx="517.4" cy="884.8" r="6.3"/>
<circle cx="520.2" cy="850.0" r="6.3"/>
<circle cx="523.0" cy="916.1" r="6.3"/>
<circle cx="525.9" cy="894.8" r="6.3"/>
<circle cx="528.7" cy="892.4" r="6.3"/>
<circle cx="531.5" cy="847.9" r="6.3"/>
<circle cx="534.3" cy="824.5" r="6.3"/>
<circle cx="537.2" cy="827.0" r="6.3"/>
<circle cx="540.0" cy="831.4" r="6.3"/>
<circle cx="542.8" cy="862.9" r="6.3"/>
<circle cx="545.7" cy="860.7" r="6.3"/>
<circle cx="548.5" cy="867.7" r="6.3"/>
<circle cx="551.3" cy="876.2" r="6.3"/>
<circle cx="554.2" cy="847.1" r="6.3"/>
<circle cx="557.0" cy="842.1" r="6.3"/>
<circle cx="559.8" cy="829.0" r="6.3"/>
<circle cx="562.6" cy="827.6" r="6.3"/>
<circle cx="565.5" cy="814.0" r="6.3"/>
<circle cx="568.3" cy="836.1" r="6.3"/>
<circle cx="571.1" cy="832.3" r="6.3"/>
<circle cx="574.0" cy="821.2" r="6.3"/>
<circle cx="576.8" cy="814.6" r="6.3"/>
<circle cx="579.6" cy="831.5" r="6.3"/>
<circle cx="582.5" cy="842.7" r="6.3"/>
<circle cx="585.3" cy="824.9" r="6.3"/>
<circle cx="588.1" cy="827.3" r="6.3"/>
<circle cx="590.9" cy="815.3" r="6.3"/>
<circle cx="593.8" cy="819.4" r="6.3"/>
<circle cx="596.6" cy="817.6" r="6.3"/>
<circle cx="599.4" cy="816.7" r="6.3"/>
<circle cx="602.3" cy="810.9" r="6.3"/>
<circle cx="605.1" cy="824.8" r="6.3"/>
<circle cx="607.9" cy="838.0" r="6.3"/>
<circle cx="610.8" cy="802.8" r="6.3"/>
<circle cx="613.6" cy="839.3" r="6.3"/>
<circle cx="616.4" cy="810.4" r="6.3"/>
<circle cx="619.2" cy="810.9" r="6.3"/>
<circle cx="622.1" cy="781.0" r="6.3"/>
<circle cx="624.9" cy="776.2" r="6.3"/>
<circle cx="627.7" cy="830.5" r="6.3"/>
<circle cx="630.6" cy="799.2" r="6.3"/>
<circle cx="633.4" cy="833.4" r="6.3"/>
<circle cx="636.2" cy="820.8" r="6.3"/>
<circle cx="639.1" cy="825.4" r="6.3"/>
<circle cx="641.9" cy="846.8" r="6.3"/>
<circle cx="644.7" cy="821.7" r="6.3"/>
<circle cx="647.5" cy="761.5" r="6.3"/>
<circle cx="650.4" cy="791.8" r="6.3"/>
<circle cx="653.2" cy="846.4" r="6.3"/>
<circle cx="656.0" cy="868.4" r="6.3"/>
<circle cx="658.9" cy="827.5" r="6.3"/>
<circle cx="661.7" cy="816.3" r="6.3"/>
<circle cx="664.5" cy="803.5" r="6.3"/>
<circle cx="667.4" cy="843.2" r="6.3"/>
<circle cx="670.2" cy="797.3" r="6.3"/>
<circle cx="673.0" cy="809.2" r="6.3"/>
<circle cx="675.8" cy="837.6" r="6.3"/>
<circle cx="678.7" cy="837.6" r="6.3"/>
<circle cx="681.5" cy="831.8" r="6.3"/>
<circle cx="684.3" cy="860.1" r="6.3"/>
<circle cx="687.2" cy="815.6" r="6.3"/>
<circle cx="690.0" cy="818.3" r="6.3"/>
<circle cx="692.8" cy="835.1" r="6.3"/>
<circle cx="695.7" cy="846.0" r="6.3"/>
<circle cx="698.5" cy="839.0" r="6.3"/>
<circle cx="701.3" cy="886.4" r="6.3"/>
<circle cx="704.1" cy="835.1" r="6.3"/>
<circle cx="707.0" cy="860.3" r="6.3"/>
<circle cx="709.8" cy="836.1" r="6.3"/>
<circle cx="712.6" cy="854.2" r="6.3"/>
<circle cx="715.5" cy="838.8" r="6.3"/>
<circle cx="718.3" cy="839.3" r="6.3"/>
<circle cx="721.1" cy="878.7" r="6.3"/>
<circle cx="724.0" cy="838.7" r="6.3"/>
<circle cx="726.8" cy="877.2" r="6.3"/>
<circle cx="729.6" cy="828.4" r="6.3"/>
<circle cx="732.4" cy="832.0" r="6.3"/>
<circle cx="735.3" cy="859.5" r="6.3"/>
<circle cx="738.1" cy="792.0" r="6.3"/>
<circle cx="740.9" cy="805.1" r="6.3"/>
<circle cx="743.8" cy="833.3" r="6.3"/>
<circle cx="746.6" cy="839.1" r="6.3"/>
<circle cx="749.4" cy="838.4" r="6.3"/>
<circle cx="752.3" cy="821.0" r="6.3"/>
<circle cx="755.1" cy="800.4" r="6.3"/>
<circle cx="757.9" cy="835.6" r="6.3"/>
<circle cx="760.7" cy="827.2" r="6.3"/>
<circle cx="763.6" cy="799.4" r="6.3"/>
<circle cx="766.4" cy="817.9" r="6.3"/>
<circle cx="769.2" cy="846.3" r="6.3"/>
<circle cx="772.1" cy="814.8" r="6.3"/>
<circle cx="774.9" cy="788.6" r="6.3"/>
<circle cx="777.7" cy="800.2" r="6.3"/>
<circle cx="780.6" cy="798.7" r="6.3"/>
<circle cx="783.4" cy="810.1" r="6.3"/>
<circle cx="786.2" cy="819.2" r="6.3"/>
<circle cx="789.0" cy="779.2" r="6.3"/>
<circle cx="791.9" cy="782.5" r="6.3"/>
<circle cx="794.7" cy="816.2" r="6.3"/>
<circle cx="797.5" cy="809.0" r="6.3"/>
<circle cx="800.4" cy="821.9" r="6.3"/>
<circle cx="803.2" cy="757.4" r="6.3"/>
<circle cx="806.0" cy="768.0" r="6.3"/>
<circle cx="808.9" cy="813.4" r="6.3"/>
<circle cx="811.7" cy="769.5" r="6.3"/>
<circle cx="814.5" cy="801.6" r="6.3"/>
<circle cx="817.3" cy="795.9" r="6.3"/>
<circle cx="820.2" cy="783.6" r="6.3"/>
<circle cx="823.0" cy="841.9" r="6.3"/>
<circle cx="825.8" cy="811.9" r="6.3"/>
<circle cx="828.7" cy="806.3" r="6.3"/>
<circle cx="831.5" cy="821.7" r="6.3"/>
<circle cx="834.3" cy="839.0" r="6.3"/>
<circle cx="837.2" cy="800.4" r="6.3"/>
<circle cx="840.0" cy="825.6" r="6.3"/>
<circle cx="842.8" cy="824.3" r="6.3"/>
<circle cx="845.6" cy="813.3" r="6.3"/>
<circle cx="848.5" cy="896.4" r="6.3"/>
<circle cx="851.3" cy="914.4" r="6.3"/>
<circle cx="854.1" cy="915.2" r="6.3"/>
<circle cx="857.0" cy="854.5" r="6.3"/>
<circle cx="859.8" cy="909.3" r="6.3"/>
<circle cx="862.6" cy="920.6" r="6.3"/>
<circle cx="865.5" cy="898.8" r="6.3"/>
<circle cx="868.3" cy="932.1" r="6.3"/>
<circle cx="871.1" cy="895.7" r="6.3"/>
<circle cx="873.9" cy="898.2" r="6.3"/>
<circle cx="876.8" cy="904.5" r="6.3"/>
<circle cx="879.6" cy="907.8" r="6.3"/>
<circle cx="882.4" cy="902.4" r="6.3"/>
<circle cx="885.3" cy="944.6" r="6.3"/>
<circle cx="888.1" cy="901.6" r="6.3"/>
<circle cx="890.9" cy="914.7" r="6.3"/>
<circle cx="893.8" cy="910.9" r="6.3"/>
<circle cx="896.6" cy="972.7" r="6.3"/>
<circle cx="899.4" cy="904.7" r="6.3"/>
<circle cx="902.2" cy="934.6" r="6.3"/>
<circle cx="905.1" cy="964.5" r="6.3"/>
<circle cx="907.9" cy="898.0" r="6.3"/>
<circle cx="910.7" cy="906.2" r="6.3"/>
<circle cx="913.6" cy="917.6" r="6.3"/>
<circle cx="916.4" cy="896.2" r="6.3"/>
<circle cx="919.2" cy="952.0" r="6.3"/>
<circle cx="922.1" cy="915.3" r="6.3"/>
<circle cx="924.9" cy="948.4" r="6.3"/>
<circle cx="927.7" cy="937.4" r="6.3"/>
<circle cx="930.5" cy="926.6" r="6.3"/>
<circle cx="933.4" cy="946.6" r="6.3"/>
<circle cx="936.2" cy="920.2" r="6.3"/>
<circle cx="939.0" cy="948.6" r="6.3"/>
<circle cx="941.9" cy="899.6" r="6.3"/>
<circle cx="944.7" cy="911.6" r="6.3"/>
<circle cx="947.5" cy="951.7" r="6.3"/>
<circle cx="950.4" cy="884.4" r="6.3"/>
<circle cx="953.2" cy="936.8" r="6.3"/>
<circle cx="956.0" cy="918.4" r="6.3"/>
<circle cx="958.8" cy="914.3" r="6.3"/>
<circle cx="961.7" cy="909.9" r="6.3"/>
<circle cx="964.5" cy="946.5" r="6.3"/>
<circle cx="967.3" cy="891.4" r="6.3"/>
<circle cx="970.2" cy="934.0" r="6.3"/>
<circle cx="973.0" cy="925.6" r="6.3"/>
<circle cx="975.8" cy="907.5" r="6.3"/>
<circle cx="978.7" cy="911.8" r="6.3"/>
<circle cx="981.5" cy="923.9" r="6.3"/>
<circle cx="984.3" cy="899.5" r="6.3"/>
<circle cx="987.1" cy="882.3" r="6.3"/>
<circle cx="990.0" cy="910.6" r="6.3"/>
<circle cx="992.8" cy="890.2" r="6.3"/>
<circle cx="995.6" cy="895.2" r="6.3"/>
<circle cx="998.5" cy="900.5" r="6.3"/>
<circle cx="1001.3" cy="908.8" r="6.3"/>
<circle cx="1004.1" cy="922.6" r="6.3"/>
<circle cx="1007.0" cy="898.8" r="6.3"/>
<circle cx="1009.8" cy="894.1" r="6.3"/>
<circle cx="1012.6" cy="903.4" r="6.3"/>
<circle cx="1015.4" cy="893.9" r="6.3"/>
<circle cx="1018.3" cy="862.7" r="6.3"/>
<circle cx="1021.1" cy="877.4" r="6.3"/>
<circle cx="1023.9" cy="866.1" r="6.3"/>
<circle cx="1026.8" cy="893.2" r="6.3"/>
<circle cx="1029.6" cy="899.9" r="6.3"/>
<circle cx="1032.4" cy="884.0" r="6.3"/>
<circle cx="1035.3" cy="860.9" r="6.3"/>
<circle cx="1038.1" cy="886.0" r="6.3"/>
<circle cx="1040.9" cy="857.0" r="6.3"/>
<circle cx="1043.7" cy="872.6" r="6.3"/>
<circle cx="1046.6" cy="848.1" r="6.3"/>
<circle cx="1049.4" cy="842.3" r="6.3"/>
<circle cx="1052.2" cy="839.0" r="6.3"/>
<circle cx="1055.1" cy="857.2" r="6.3"/>
<circle cx="1057.9" cy="844.3" r="6.3"/>
<circle cx="1060.7" cy="858.3" r="6.3"/>
<circle cx="1063.6" cy="828.6" r="6.3"/>
<circle cx="1066.4" cy="853.5" r="6.3"/>
<circle cx="1069.2" cy="832.9" r="6.3"/>
<circle cx="1072.0" cy="859.6" r="6.3"/>
<circle cx="1074.9" cy="852.9" r="6.3"/>
<circle cx="1077.7" cy="829.6" r="6.3"/>
<circle cx="1080.5" cy="831.6" r="6.3"/>
<circle cx="1083.4" cy="830.6" r="6.3"/>
<circle cx="1086.2" cy="831.0" r="6.3"/>
<circle cx="1089.0" cy="815.2" r="6.3"/>
<circle cx="1091.9" cy="835.5" r="6.3"/>
<circle cx="1094.7" cy="804.6" r="6.3"/>
<circle cx="1097.5" cy="776.6" r="6.3"/>
<circle cx="1100.3" cy="811.8" r="6.3"/>
<circle cx="1103.2" cy="802.7" r="6.3"/>
<circle cx="1106.0" cy="817.1" r="6.3"/>
<circle cx="1108.8" cy="810.8" r="6.3"/>
<circle cx="1111.7" cy="800.6" r="6.3"/>
<circle cx="1114.5" cy="798.7" r="6.3"/>
<circle cx="1117.3" cy="797.8" r="6.3"/>
<circle cx="1120.2" cy="783.0" r="6.3"/>
<circle cx="1123.0" cy="772.7" r="6.3"/>
<circle cx="1125.8" cy="779.7" r="6.3"/>
<circle cx="1128.6" cy="792.9" r="6.3"/>
<circle cx="1131.5" cy="755.6" r="6.3"/>
<circle cx="1134.3" cy="788.7" r="6.3"/>
<circle cx="1137.1" cy="780.8" r="6.3"/>
<circle cx="1140.0" cy="798.2" r="6.3"/>
<circle cx="1142.8" cy="788.0" r="6.3"/>
<circle cx="1145.6" cy="805.7" r="6.3"/>
<circle cx="1148.5" cy="803.6" r="6.3"/>
<circle cx="1151.3" cy="832.8" r="6.3"/>
<circle cx="1154.1" cy="808.2" r="6.3"/>
<circle cx="1156.9" cy="812.8" r="6.3"/>
<circle cx="1159.8" cy="820.1" r="6.3"/>
<circle cx="1162.6" cy="790.2" r="6.3"/>
<circle cx="1165.4" cy="806.0" r="6.3"/>
<circle cx="1168.3" cy="854.6" r="6.3"/>
<circle cx="1171.1" cy="840.8" r="6.3"/>
<circle cx="1173.9" cy="835.7" r="6.3"/>
<circle cx="1176.8" cy="857.6" r="6.3"/>
<circle cx="1179.6" cy="836.0" r="6.3"/>
<circle cx="1182.4" cy="837.2" r="6.3"/>
<circle cx="1185.2" cy="838.4" r="6.3"/>
<circle cx="1188.1" cy="810.6" r="6.3"/>
<circle cx="1190.9" cy="867.9" r="6.3"/>
<circle cx="1193.7" cy="846.3" r="6.3"/>
<circle cx="1196.6" cy="849.6" r="6.3"/>
<circle cx="1199.4" cy="845.5" r="6.3"/>
<circle cx="1202.2" cy="839.5" r="6.3"/>
<circle cx="1205.1" cy="804.0" r="6.3"/>
<circle cx="1207.9" cy="857.0" r="6.3"/>
<circle cx="1210.7" cy="899.8" r="6.3"/>
<circle cx="1213.5" cy="873.2" r="6.3"/>
<circle cx="1216.4" cy="845.1" r="6.3"/>
<circle cx="1219.2" cy="830.3" r="6.3"/>
<circle cx="1222.0" cy="847.1" r="6.3"/>
<circle cx="1224.9" cy="850.8" r="6.3"/>
<circle cx="1227.7" cy="837.4" r="6.3"/>
<circle cx="1230.5" cy="851.3" r="6.3"/>
<circle cx="1233.4" cy="812.4" r="6.3"/>
<circle cx="1236.2" cy="844.1" r="6.3"/>
<circle cx="1239.0" cy="820.7" r="6.3"/>
<circle cx="1241.8" cy="800.3" r="6.3"/>
<circle cx="1244.7" cy="796.5" r="6.3"/>
<circle cx="1247.5" cy="798.5" r="6.3"/>
<circle cx="1250.3" cy="796.1" r="6.3"/>
<circle cx="1253.2" cy="773.3" r="6.3"/>
<circle cx="1256.0" cy="771.8" r="6.3"/>
<circle cx="1258.8" cy="793.7" r="6.3"/>
<circle cx="1261.7" cy="710.7" r="6.3"/>
<circle cx="1264.5" cy="694.6" r="6.3"/>
<circle cx="1267.3" cy="722.0" r="6.3"/>
<circle cx="1270.1" cy="694.9" r="6.3"/>
<circle cx="1273.0" cy="705.2" r="6.3"/>
<circle cx="1275.8" cy="668.9" r="6.3"/>
<circle cx="1278.6" cy="691.0" r="6.3"/>
<circle cx="1281.5" cy="703.5" r="6.3"/>
<circle cx="1284.3" cy="693.8" r="6.3"/>
<circle cx="1287.1" cy="652.9" r="6.3"/>
<circle cx="1290.0" cy="659.4" r="6.3"/>
<circle cx="1292.8" cy="671.7" r="6.3"/>
<circle cx="1295.6" cy="680.1" r="6.3"/>
<circle cx="1298.4" cy="633.4" r="6.3"/>
<circle cx="1301.3" cy="630.7" r="6.3"/>
<circle cx="1304.1" cy="658.7" r="6.3"/>
<circle cx="1306.9" cy="634.0" r="6.3"/>
<circle cx="1309.8" cy="623.8" r="6.3"/>
<circle cx="1312.6" cy="661.2" r="6.3"/>
<circle cx="1315.4" cy="621.8" r="6.3"/>
<circle cx="1318.3" cy="647.4" r="6.3"/>
<circle cx="1321.1" cy="687.6" r="6.3"/>
<circle cx="1323.9" cy="674.4" r="6.3"/>
<circle cx="1326.7" cy="715.5" r="6.3"/>
<circle cx="1329.6" cy="698.1" r="6.3"/>
<circle cx="1332.4" cy="753.3" r="6.3"/>
<circle cx="1335.2" cy="767.4" r="6.3"/>
<circle cx="1338.1" cy="808.5" r="6.3"/>
<circle cx="1340.9" cy="793.2" r="6.3"/>
<circle cx="1343.7" cy="809.8" r="6.3"/>
<circle cx="1346.6" cy="832.5" r="6.3"/>
<circle cx="1349.4" cy="871.2" r="6.3"/>
<circle cx="1352.2" cy="852.1" r="6.3"/>
<circle cx="1355.0" cy="878.0" r="6.3"/>
<circle cx="1357.9" cy="932.4" r="6.3"/>
<circle cx="1360.7" cy="920.8" r="6.3"/>
<circle cx="1363.5" cy="929.5" r="6.3"/>
<circle cx="1366.4" cy="913.3" r="6.3"/>
<circle cx="1369.2" cy="948.5" r="6.3"/>
<circle cx="1372.0" cy="914.5" r="6.3"/>
<circle cx="1374.9" cy="913.6" r="6.3"/>
<circle cx="1377.7" cy="929.4" r="6.3"/>
<circle cx="1380.5" cy="980.7" r="6.3"/>
<circle cx="1383.3" cy="959.3" r="6.3"/>
<circle cx="1386.2" cy="940.3" r="6.3"/>
<circle cx="1389.0" cy="954.4" r="6.3"/>
<circle cx="1391.8" cy="972.9" r="6.3"/>
<circle cx="1394.7" cy="989.4" r="6.3"/>
<circle cx="1397.5" cy="934.9" r="6.3"/>
<circle cx="1400.3" cy="995.8" r="6.3"/>
<circle cx="1403.2" cy="989.1" r="6.3"/>
<circle cx="1406.0" cy="957.7" r="6.3"/>
<circle cx="1408.8" cy="964.8" r="6.3"/>
<circle cx="1411.6" cy="983.7" r="6.3"/>
<circle cx="1414.5" cy="969.1" r="6.3"/>
<circle cx="1417.3" cy="978.4" r="6.3"/>
<circle cx="1420.1" cy="955.3" r="6.3"/>
<circle cx="1423.0" cy="940.8" r="6.3"/>
<circle cx="1425.8" cy="1026.6" r="6.3"/>
<circle cx="1428.6" cy="982.1" r="6.3"/>
<circle cx="1431.5" cy="983.7" r="6.3"/>
<circle cx="1434.3" cy="989.9" r="6.3"/>
<circle cx="1437.1" cy="1006.9" r="6.3"/>
<circle cx="1439.9" cy="999.1" r="6.3"/>
<circle cx="1442.8" cy="959.9" r="6.3"/>
<circle cx="1445.6" cy="978.7" r="6.3"/>
<circle cx="1448.4" cy="982.6" r="6.3"/>
<circle cx="1451.3" cy="997.0" r="6.3"/>
<circle cx="1454.1" cy="969.4" r="6.3"/>
<circle cx="1456.9" cy="989.7" r="6.3"/>
<circle cx="1459.8" cy="986.7" r="6.3"/>
<circle cx="1462.6" cy="1010.7" r="6.3"/>
<circle cx="1465.4" cy="928.6" r="6.3"/>
<circle cx="1468.2" cy="984.2" r="6.3"/>
<circle cx="1471.1" cy="989.7" r="6.3"/>
<circle cx="1473.9" cy="996.8" r="6.3"/>
<circle cx="1476.7" cy="982.7" r="6.3"/>
<circle cx="1479.6" cy="965.7" r="6.3"/>
<circle cx="1482.4" cy="997.1" r="6.3"/>
<circle cx="1485.2" cy="990.9" r="6.3"/>
<circle cx="1488.1" cy="965.5" r="6.3"/>
<circle cx="1490.9" cy="954.5" r="6.3"/>
<circle cx="1493.7" cy="995.1" r="6.3"/>
<circle cx="1496.5" cy="964.9" r="6.3"/>
<circle cx="1499.4" cy="997.1" r="6.3"/>
<circle cx="1502.2" cy="1015.6" r="6.3"/>
<circle cx="1505.0" cy="987.7" r="6.3"/>
<circle cx="1507.9" cy="988.2" r="6.3"/>
<circle cx="1510.7" cy="986.0" r="6.3"/>
<circle cx="1513.5" cy="1013.1" r="6.3"/>
<circle cx="1516.4" cy="1013.5" r="6.3"/>
<circle cx="1519.2" cy="985.1" r="6.3"/>
<circle cx="1522.0" cy="999.3" r="6.3"/>
<circle cx="1524.8" cy="984.1" r="6.3"/>
<circle cx="1527.7" cy="972.3" r="6.3"/>
<circle cx="1530.5" cy="999.8" r="6.3"/>
<circle cx="1533.3" cy="981.1" r="6.3"/>
<circle cx="1536.2" cy="964.3" r="6.3"/>
<circle cx="1539.0" cy="950.0" r="6.3"/>
<circle cx="1541.8" cy="1004.8" r="6.3"/>
<circle cx="1544.7" cy="961.9" r="6.3"/>
<circle cx="1547.5" cy="958.8" r="6.3"/>
<circle cx="1550.3" cy="977.5" r="6.3"/>
<circle cx="1553.1" cy="999.7" r="6.3"/>
<circle cx="1556.0" cy="945.6" r="6.3"/>
<circle cx="1558.8" cy="997.7" r="6.3"/>
<circle cx="1561.6" cy="992.4" r="6.3"/>
<circle cx="1564.5" cy="957.2" r="6.3"/>
<circle cx="1567.3" cy="959.0" r="6.3"/>
<circle cx="1570.1" cy="980.3" r="6.3"/>
<circle cx="1573.0" cy="1026.8" r="6.3"/>
<circle cx="1575.8" cy="978.8" r="6.3"/>
<circle cx="1578.6" cy="1008.3" r="6.3"/>
<circle cx="1581.4" cy="1005.3" r="6.3"/>
<circle cx="1584.3" cy="949.7" r="6.3"/>
<circle cx="1587.1" cy="984.7" r="6.3"/>
<circle cx="1589.9" cy="1006.5" r="6.3"/>
<circle cx="1592.8" cy="973.9" r="6.3"/>
<circle cx="1595.6" cy="1011.8" r="6.3"/>
<circle cx="1598.4" cy="961.3" r="6.3"/>
</g>
<path d="M409,901.2 L412,901.2 L415,901.2 L418,901.2 L421,901.2 L424,901.2 L427,901.2 L430,901.2 L433,901.3 L436,901.3 L439,901.3 L442,901.3 L445,901.3 L448,901.3 L451,901.3 L454,901.3 L457,901.4 L460,901.4 L463,901.4 L466,901.4 L469,901.4 L472,901.5 L475,901.5 L478,901.5 L481,901.6 L484,901.6 L487,901.6 L490,901.7 L493,901.7 L496,901.8 L499,901.8 L502,901.9 L505,902.0 L508,902.0 L511,902.1 L514,902.2 L517,902.3 L520,902.4 L523,902.5 L526,902.6 L529,902.7 L532,902.8 L535,903.0 L538,903.1 L541,903.3 L544,903.4 L547,903.6 L550,903.8 L553,904.0 L556,904.2 L559,904.4 L562,904.6 L565,904.8 L568,905.0 L571,905.3 L574,905.5 L577,905.8 L580,906.0 L583,906.3 L586,906.6 L589,906.8 L592,907.1 L595,907.4 L598,907.7 L601,908.0 L604,908.3 L607,908.6 L610,908.9 L613,909.3 L616,909.6 L619,909.9 L622,910.2 L625,910.5 L628,910.8 L631,911.1 L634,911.4 L637,911.7 L640,912.0 L643,912.3 L646,912.6 L649,912.9 L652,913.2 L655,913.5 L658,913.7 L661,914.0 L664,914.2 L667,914.5 L670,914.7 L673,915.0 L676,915.2 L679,915.4 L682,915.6 L685,915.8 L688,916.1 L691,916.3 L694,916.5 L697,916.7 L700,916.9 L703,917.1 L706,917.3 L709,917.5 L712,917.7 L715,917.9 L718,918.1 L721,918.3 L724,918.5 L727,918.7 L730,918.9 L733,919.1 L736,919.4 L739,919.6 L742,919.9 L745,920.1 L748,920.4 L751,920.7 L754,921.0 L757,921.3 L760,921.6 L763,921.9 L766,922.2 L769,922.5 L772,922.9 L775,923.2 L778,923.6 L781,924.0 L784,924.4 L787,924.8 L790,925.2 L793,925.6 L796,926.0 L799,926.5 L802,926.9 L805,927.4 L808,927.8 L811,928.3 L814,928.7 L817,929.2 L820,929.6 L823,930.0 L826,930.4 L829,930.8 L832,931.1 L835,931.5 L838,931.8 L841,932.0 L844,932.3 L847,932.5 L850,932.7 L853,932.9 L856,933.0 L859,933.1 L862,933.2 L865,933.3 L868,933.4 L871,933.5 L874,933.6 L877,933.6 L880,933.7 L883,933.7 L886,933.8 L889,933.8 L892,933.9 L895,933.9 L898,933.9 L901,934.0 L904,934.0 L907,934.0 L910,934.1 L913,934.1 L916,934.1 L919,934.2 L922,934.2 L925,934.2 L928,934.3 L931,934.3 L934,934.3 L937,934.4 L940,934.4 L943,934.4 L946,934.5 L949,934.5 L952,934.6 L955,934.6 L958,934.6 L961,934.7 L964,934.7 L967,934.7 L970,934.8 L973,934.8 L976,934.9 L979,934.9 L982,935.0 L985,935.0 L988,935.1 L991,935.1 L994,935.2 L997,935.2 L1000,935.3 L1003,935.4 L1006,935.4 L1009,935.5 L1012,935.6 L1015,935.7 L1018,935.8 L1021,935.8 L1024,935.9 L1027,936.0 L1030,936.2 L1033,936.3 L1036,936.4 L1039,936.5 L1042,936.7 L1045,936.8 L1048,937.0 L1051,937.1 L1054,937.3 L1057,937.5 L1060,937.7 L1063,937.9 L1066,938.2 L1069,938.4 L1072,938.7 L1075,938.9 L1078,939.2 L1081,939.5 L1084,939.8 L1087,940.2 L1090,940.5 L1093,940.8 L1096,941.2 L1099,941.6 L1102,942.0 L1105,942.4 L1108,942.8 L1111,943.3 L1114,943.7 L1117,944.2 L1120,944.6 L1123,945.1 L1126,945.6 L1129,946.1 L1132,946.5 L1135,947.0 L1138,947.5 L1141,948.0 L1144,948.5 L1147,948.9 L1150,949.4 L1153,949.9 L1156,950.3 L1159,950.8 L1162,951.2 L1165,951.6 L1168,952.0 L1171,952.5 L1174,952.9 L1177,953.2 L1180,953.6 L1183,954.0 L1186,954.4 L1189,954.7 L1192,955.1 L1195,955.4 L1198,955.7 L1201,956.1 L1204,956.4 L1207,956.7 L1210,957.1 L1213,957.4 L1216,957.7 L1219,958.1 L1222,958.4 L1225,958.8 L1228,959.2 L1231,959.6 L1234,960.0 L1237,960.4 L1240,960.8 L1243,961.3 L1246,961.8 L1249,962.4 L1252,962.9 L1255,963.5 L1258,964.2 L1261,964.9 L1264,965.6 L1267,966.4 L1270,967.2 L1273,968.0 L1276,968.8 L1279,969.7 L1282,970.6 L1285,971.6 L1288,972.5 L1291,973.5 L1294,974.5 L1297,975.6 L1300,976.6 L1303,977.7 L1306,978.8 L1309,979.9 L1312,981.0 L1315,982.1 L1318,983.2 L1321,984.2 L1324,985.2 L1327,986.2 L1330,987.1 L1333,987.9 L1336,988.7 L1339,989.4 L1342,990.1 L1345,990.7 L1348,991.2 L1351,991.7 L1354,992.1 L1357,992.5 L1360,992.8 L1363,993.1 L1366,993.3 L1369,993.6 L1372,993.8 L1375,993.9 L1378,994.1 L1381,994.2 L1384,994.4 L1387,994.5 L1390,994.6 L1393,994.7 L1396,994.8 L1399,994.9 L1402,995.0 L1405,995.1 L1408,995.2 L1411,995.2 L1414,995.3 L1417,995.4 L1420,995.4 L1423,995.5 L1426,995.6 L1429,995.6 L1432,995.7 L1435,995.7 L1438,995.8 L1441,995.8 L1444,995.9 L1447,995.9 L1450,996.0 L1453,996.0 L1456,996.1 L1459,996.1 L1462,996.1 L1465,996.2 L1468,996.2 L1471,996.2 L1474,996.3 L1477,996.3 L1480,996.3 L1483,996.4 L1486,996.4 L1489,996.4 L1492,996.5 L1495,996.5 L1498,996.5 L1501,996.6 L1504,996.6 L1507,996.6 L1510,996.6 L1513,996.7 L1516,996.7 L1519,996.7 L1522,996.7 L1525,996.8 L1528,996.8 L1531,996.8 L1534,996.8 L1537,996.8 L1540,996.9 L1543,996.9 L1546,996.9 L1549,996.9 L1552,996.9 L1555,997.0 L1558,997.0 L1561,997.0 L1564,997.0 L1567,997.0 L1570,997.0 L1573,997.1 L1576,997.1 L1579,997.1 L1582,997.1 L1585,997.1 L1588,997.1 L1591,997.1 L1594,997.2 L1597,997.2 L1600,997.2 L1601,997.2" fill="none" stroke="#ff00ff" stroke-width="6" stroke-linejoin="round" stroke-linecap="round"/>
<path d="M409,901.2 L412,901.2 L415,901.2 L418,901.2 L421,901.2 L424,901.2 L427,901.2 L430,901.2 L433,901.3 L436,901.3 L439,901.3 L442,901.3 L445,901.3 L448,901.3 L451,901.3 L454,901.3 L457,901.4 L460,901.4 L463,901.4 L466,901.4 L469,901.4 L472,901.5 L475,901.5 L478,901.5 L481,901.6 L484,901.6 L487,901.6 L490,901.7 L493,901.7 L496,901.8 L499,901.8 L502,901.9 L505,902.0 L508,902.0 L511,902.1 L514,902.2 L517,902.3 L520,902.4 L523,902.5 L526,902.6 L529,902.7 L532,902.8 L535,903.0 L538,903.1 L541,903.3 L544,903.4 L547,903.6 L550,903.8 L553,904.0 L556,904.2 L559,904.4 L562,904.6 L565,904.8 L568,905.0 L571,905.3 L574,905.5 L577,905.8 L580,906.0 L583,906.3 L586,906.6 L589,906.8 L592,907.1 L595,907.4 L598,907.7 L601,908.0 L604,908.3 L607,908.6 L610,908.9 L613,909.3 L616,909.6 L619,909.9 L622,910.2 L625,910.5 L628,910.8 L631,911.1 L634,911.4 L637,911.7 L640,912.0 L643,912.3 L646,912.6 L649,912.9 L652,913.2 L655,913.5 L658,913.7 L661,914.0 L664,914.2 L667,914.5 L670,914.7 L673,915.0 L676,915.2 L679,915.4 L682,915.6 L685,915.8 L688,916.1 L691,916.3 L694,916.5 L697,916.7 L700,916.9 L703,917.1 L706,917.3 L709,917.5 L712,917.7 L715,917.9 L718,918.1 L721,918.3 L724,918.5 L727,918.7 L730,918.9 L733,919.1 L736,919.4 L739,919.6 L742,919.9 L745,920.1 L748,920.4 L751,920.7 L754,921.0 L757,921.3 L760,921.6 L763,921.9 L766,922.2 L769,922.5 L772,922.9 L775,923.2 L778,923.6 L781,924.0 L784,924.4 L787,924.8 L790,925.2 L793,925.6 L796,926.0 L799,926.5 L802,926.9 L805,927.4 L808,927.8 L811,928.3 L814,928.7 L817,929.2 L820,929.6 L823,930.0 L826,930.4 L829,930.8 L832,931.1 L835,931.5 L838,931.8 L841,932.0 L844,932.3 L847,932.5 L850,932.7 L853,932.9 L856,933.0 L859,933.1 L862,933.2 L865,933.3 L868,933.4 L871,933.5 L874,933.6 L877,933.6 L880,933.7 L883,933.7 L886,933.8 L889,933.8 L892,933.9 L895,933.9 L898,933.9 L901,934.0 L904,934.0 L907,934.0 L910,934.1 L913,934.1 L916,934.1 L919,934.2 L922,934.2 L925,934.2 L928,934.3 L931,934.3 L934,934.3 L937,934.4 L940,934.4 L943,934.4 L946,934.5 L949,934.5 L952,934.6 L955,934.6 L958,934.6 L961,934.7 L964,934.7 L967,934.7 L970,934.8 L973,934.8 L976,934.9 L979,934.9 L982,935.0 L985,935.0 L988,935.1 L991,935.1 L994,935.2 L997,935.2 L1000,935.3 L1003,935.4 L1006,935.4 L1009,935.5 L1012,935.6 L1015,935.7 L1018,935.8 L1021,935.8 L1024,935.9 L1027,936.0 L1030,936.2 L1033,936.3 L1036,936.4 L1039,936.5 L1042,936.7 L1045,936.8 L1048,937.0 L1051,937.1 L1054,937.3 L1057,937.5 L1060,937.7 L1063,937.9 L1066,938.2 L1069,938.4 L1072,938.7 L1075,938.9 L1078,939.2 L1081,939.5 L1084,939.8 L1087,940.2 L1090,940.5 L1093,940.8 L1096,941.2 L1099,941.6 L1102,942.0 L1105,942.4 L1108,942.8 L1111,943.3 L1114,943.7 L1117,944.2 L1120,944.6 L1123,945.1 L1126,945.6 L1129,946.1 L1132,946.5 L1135,947.0 L1138,947.5 L1141,948.0 L1144,948.5 L1147,948.9 L1150,949.4 L1153,949.9 L1156,950.3 L1159,950.8 L1162,951.2 L1165,951.6 L1168,952.0 L1171,952.5 L1174,952.9 L1177,953.2 L1180,953.6 L1183,954.0 L1186,954.4 L1189,954.7 L1192,955.1 L1195,955.4 L1198,955.7 L1201,956.1 L1204,956.4 L1207,956.7 L1210,957.1 L1213,957.4 L1216,957.7 L1219,958.1 L1222,958.4 L1225,958.8 L1228,959.2 L1231,959.6 L1234,960.0 L1237,960.4 L1240,960.8 L1243,961.3 L1246,961.8 L1249,962.4 L1252,962.9 L1255,963.5 L1258,964.2 L1261,964.9 L1264,965.6 L1267,966.4 L1270,967.2 L1273,968.0 L1276,968.8 L1279,969.7 L1282,970.6 L1285,971.6 L1288,972.5 L1291,973.5 L1294,974.5 L1297,975.6 L1300,976.6 L1303,977.7 L1306,978.8 L1309,979.9 L1312,981.0 L1315,982.1 L1318,983.2 L1321,984.2 L1324,985.2 L1327,986.2 L1330,987.1 L1333,987.9 L1336,988.7 L1339,989.4 L1342,990.1 L1345,990.7 L1348,991.2 L1351,991.7 L1354,992.1 L1357,992.5 L1360,992.8 L1363,993.1 L1366,993.3 L1369,993.6 L1372,993.8 L1375,993.9 L1378,994.1 L1381,994.2 L1384,994.4 L1387,994.5 L1390,994.6 L1393,994.7 L1396,994.8 L1399,994.9 L1402,995.0 L1405,995.1 L1408,995.2 L1411,995.2 L1414,995.3 L1417,995.4 L1420,995.4 L1423,995.5 L1426,995.6 L1429,995.6 L1432,995.7 L1435,995.7 L1438,995.8 L1441,995.8 L1444,995.9 L1447,995.9 L1450,996.0 L1453,996.0 L1456,996.1 L1459,996.1 L1462,996.1 L1465,996.2 L1468,996.2 L1471,996.2 L1474,996.3 L1477,996.3 L1480,996.3 L1483,996.4 L1486,996.4 L1489,996.4 L1492,996.5 L1495,996.5 L1498,996.5 L1501,996.6 L1504,996.6 L1507,996.6 L1510,996.6 L1513,996.7 L1516,996.7 L1519,996.7 L1522,996.7 L1525,996.8 L1528,996.8 L1531,996.8 L1534,996.8 L1537,996.8 L1540,996.9 L1543,996.9 L1546,996.9 L1549,996.9 L1552,996.9 L1555,997.0 L1558,997.0 L1561,997.0 L1564,997.0 L1567,997.0 L1570,997.0 L1573,997.1 L1576,997.1 L1579,997.1 L1582,997.1 L1585,997.1 L1588,997.1 L1591,997.1 L1594,997.2 L1597,997.2 L1600,997.2 L1601,997.2" fill="none" stroke="#0000ff" stroke-width="6" stroke-linejoin="round" stroke-linecap="round"/>
<path d="M409,901.2 L412,901.2 L415,901.2 L418,901.2 L421,901.2 L424,901.2 L427,901.2 L430,901.2 L433,901.3 L436,901.3 L439,901.3 L442,901.3 L445,901.3 L448,901.3 L451,901.3 L454,901.3 L457,901.4 L460,901.4 L463,901.4 L466,901.4 L469,901.4 L472,901.5 L475,901.5 L478,901.5 L481,901.6 L484,901.6 L487,901.6 L490,901.7 L493,901.7 L496,901.8 L499,901.8 L502,901.9 L505,902.0 L508,902.0 L511,902.1 L514,902.2 L517,902.3 L520,902.4 L523,902.5 L526,902.6 L529,902.7 L532,902.8 L535,903.0 L538,903.1 L541,903.3 L544,903.4 L547,903.6 L550,903.8 L553,904.0 L556,904.2 L559,904.4 L562,904.6 L565,904.8 L568,905.0 L571,905.3 L574,905.5 L577,905.8 L580,906.0 L583,906.3 L586,906.6 L589,906.8 L592,907.1 L595,907.4 L598,907.7 L601,908.0 L604,908.3 L607,908.6 L610,908.9 L613,909.3 L616,909.6 L619,909.9 L622,910.2 L625,910.5 L628,910.8 L631,911.1 L634,911.4 L637,911.7 L640,912.0 L643,912.3 L646,912.6 L649,912.9 L652,913.2 L655,913.5 L658,913.7 L661,914.0 L664,914.2 L667,914.5 L670,914.7 L673,915.0 L676,915.2 L679,915.4 L682,915.6 L685,915.8 L688,916.1 L691,916.3 L694,916.5 L697,916.7 L700,916.9 L703,917.1 L706,917.3 L709,917.5 L712,917.7 L715,917.9 L718,918.1 L721,918.3 L724,918.5 L727,918.7 L730,918.9 L733,919.1 L736,919.4 L739,919.6 L742,919.9 L745,920.1 L748,920.4 L751,920.7 L754,921.0 L757,921.3 L760,921.6 L763,921.9 L766,922.2 L769,922.5 L772,922.9 L775,923.2 L778,923.6 L781,924.0 L784,924.4 L787,924.8 L790,925.2 L793,925.6 L796,926.0 L799,926.5 L802,926.9 L805,927.4 L808,927.8 L811,928.3 L814,928.7 L817,929.2 L820,929.6 L823,930.0 L826,930.4 L829,930.8 L832,931.1 L835,931.5 L838,931.8 L841,932.0 L844,932.3 L847,932.5 L850,932.7 L853,932.9 L856,933.0 L859,933.1 L862,933.2 L865,933.3 L868,933.4 L871,933.5 L874,933.6 L877,933.6 L880,933.7 L883,933.7 L886,933.8 L889,933.8 L892,933.9 L895,933.9 L898,933.9 L901,934.0 L904,934.0 L907,934.0 L910,934.1 L913,934.1 L916,934.1 L919,934.2 L922,934.2 L925,934.2 L928,934.3 L931,934.3 L934,934.3 L937,934.4 L940,934.4 L943,934.4 L946,934.5 L949,934.5 L952,934.6 L955,934.6 L958,934.6 L961,934.7 L964,934.7 L967,934.7 L970,934.8 L973,934.8 L976,934.9 L979,934.9 L982,935.0 L985,935.0 L988,935.1 L991,935.1 L994,935.2 L997,935.2 L1000,935.3 L1003,935.4 L1006,935.4 L1009,935.5 L1012,935.6 L1015,935.7 L1018,935.8 L1021,935.8 L1024,935.9 L1027,936.0 L1030,936.2 L1033,936.3 L1036,936.4 L1039,936.5 L1042,936.7 L1045,936.8 L1048,937.0 L1051,937.1 L1054,937.3 L1057,937.5 L1060,937.7 L1063,937.9 L1066,938.2 L1069,938.4 L1072,938.7 L1075,938.9 L1078,939.2 L1081,939.5 L1084,939.8 L1087,940.2 L1090,940.5 L1093,940.8 L1096,941.2 L1099,941.6 L1102,942.0 L1105,942.4 L1108,942.8 L1111,943.3 L1114,943.7 L1117,944.2 L1120,944.6 L1123,945.1 L1126,945.6 L1129,946.1 L1132,946.5 L1135,947.0 L1138,947.5 L1141,948.0 L1144,948.5 L1147,948.9 L1150,949.4 L1153,949.9 L1156,950.3 L1159,950.8 L1162,951.2 L1165,951.6 L1168,952.0 L1171,952.5 L1174,952.9 L1177,953.2 L1180,953.6 L1183,954.0 L1186,954.4 L1189,954.7 L1192,955.1 L1195,955.4 L1198,955.7 L1201,956.1 L1204,956.4 L1207,956.7 L1210,957.1 L1213,957.4 L1216,957.7 L1219,958.1 L1222,958.4 L1225,958.8 L1228,959.2 L1231,959.6 L1234,960.0 L1237,960.4 L1240,960.8 L1243,961.3 L1246,961.8 L1249,962.4 L1252,962.9 L1255,963.5 L1258,964.2 L1261,964.9 L1264,965.6 L1267,966.4 L1270,967.2 L1273,968.0 L1276,968.8 L1279,969.7 L1282,970.6 L1285,971.6 L1288,972.5 L1291,973.5 L1294,974.5 L1297,975.6 L1300,976.6 L1303,977.7 L1306,978.8 L1309,979.9 L1312,981.0 L1315,982.1 L1318,983.2 L1321,984.2 L1324,985.2 L1327,986.2 L1330,987.1 L1333,987.9 L1336,988.7 L1339,989.4 L1342,990.1 L1345,990.7 L1348,991.2 L1351,991.7 L1354,992.1 L1357,992.5 L1360,992.8 L1363,993.1 L1366,993.3 L1369,993.6 L1372,993.8 L1375,993.9 L1378,994.1 L1381,994.2 L1384,994.4 L1387,994.5 L1390,994.6 L1393,994.7 L1396,994.8 L1399,994.9 L1402,995.0 L1405,995.1 L1408,995.2 L1411,995.2 L1414,995.3 L1417,995.4 L1420,995.4 L1423,995.5 L1426,995.6 L1429,995.6 L1432,995.7 L1435,995.7 L1438,995.8 L1441,995.8 L1444,995.9 L1447,995.9 L1450,996.0 L1453,996.0 L1456,996.1 L1459,996.1 L1462,996.1 L1465,996.2 L1468,996.2 L1471,996.2 L1474,996.3 L1477,996.3 L1480,996.3 L1483,996.4 L1486,996.4 L1489,996.4 L1492,996.5 L1495,996.5 L1498,996.5 L1501,996.6 L1504,996.6 L1507,996.6 L1510,996.6 L1513,996.7 L1516,996.7 L1519,996.7 L1522,996.7 L1525,996.8 L1528,996.8 L1531,996.8 L1534,996.8 L1537,996.8 L1540,996.9 L1543,996.9 L1546,996.9 L1549,996.9 L1552,996.9 L1555,997.0 L1558,997.0 L1561,997.0 L1564,997.0 L1567,997.0 L1570,997.0 L1573,997.1 L1576,997.1 L1579,997.1 L1582,997.1 L1585,997.1 L1588,997.1 L1591,997.1 L1594,997.2 L1597,997.2 L1600,997.2 L1601,997.2" fill="none" stroke="#008000" stroke-width="6" stroke-linejoin="round" stroke-linecap="round"/>
<path d="M409,900.5 L412,900.5 L415,900.5 L418,900.5 L421,900.5 L424,900.5 L427,900.5 L430,900.5 L433,900.5 L436,900.5 L439,900.5 L442,900.5 L445,900.5 L448,900.5 L451,900.5 L454,900.5 L457,900.5 L460,900.5 L463,900.5 L466,900.5 L469,900.5 L472,900.5 L475,900.5 L478,900.5 L481,900.5 L484,900.5 L487,900.5 L490,900.5 L493,900.6 L496,900.6 L499,900.6 L502,900.7 L505,900.7 L508,900.7 L511,900.8 L514,900.8 L517,900.9 L520,901.0 L523,901.0 L526,901.1 L529,901.2 L532,901.3 L535,901.4 L538,901.5 L541,901.6 L544,901.7 L547,901.8 L550,901.9 L553,902.1 L556,902.2 L559,902.4 L562,902.5 L565,902.7 L568,902.8 L571,903.0 L574,903.2 L577,903.4 L580,903.5 L583,903.7 L586,903.9 L589,904.1 L592,904.3 L595,904.5 L598,904.7 L601,904.9 L604,905.1 L607,905.3 L610,905.5 L613,905.7 L616,905.8 L619,906.0 L622,906.1 L625,906.3 L628,906.4 L631,906.5 L634,906.6 L637,906.6 L640,906.7 L643,906.7 L646,906.7 L649,906.6 L652,906.5 L655,906.4 L658,906.2 L661,905.9 L664,905.6 L667,905.2 L670,904.7 L673,904.2 L676,903.5 L679,902.7 L682,901.9 L685,900.9 L688,899.8 L691,898.6 L694,897.2 L697,895.6 L700,894.0 L703,892.2 L706,890.2 L709,888.1 L712,885.8 L715,883.4 L718,880.8 L721,878.2 L724,875.4 L727,872.6 L730,869.7 L733,866.9 L736,864.1 L739,861.4 L742,858.8 L745,856.5 L748,854.5 L751,852.9 L754,851.7 L757,851.0 L760,850.8 L763,851.2 L766,852.2 L769,853.7 L772,855.7 L775,858.0 L778,860.8 L781,863.8 L784,867.1 L787,870.5 L790,873.9 L793,877.5 L796,881.0 L799,884.4 L802,887.8 L805,891.1 L808,894.2 L811,897.3 L814,900.1 L817,902.8 L820,905.4 L823,907.8 L826,910.0 L829,912.0 L832,913.9 L835,915.7 L838,917.2 L841,918.7 L844,919.9 L847,921.1 L850,922.2 L853,923.1 L856,923.9 L859,924.7 L862,925.4 L865,926.0 L868,926.5 L871,927.0 L874,927.4 L877,927.8 L880,928.2 L883,928.5 L886,928.8 L889,929.1 L892,929.3 L895,929.5 L898,929.8 L901,930.0 L904,930.2 L907,930.3 L910,930.5 L913,930.7 L916,930.8 L919,931.0 L922,931.1 L925,931.3 L928,931.4 L931,931.5 L934,931.6 L937,931.8 L940,931.9 L943,932.0 L946,932.1 L949,932.2 L952,932.3 L955,932.4 L958,932.5 L961,932.6 L964,932.7 L967,932.8 L970,932.9 L973,933.0 L976,933.1 L979,933.2 L982,933.3 L985,933.4 L988,933.5 L991,933.6 L994,933.7 L997,933.8 L1000,933.9 L1003,934.0 L1006,934.1 L1009,934.2 L1012,934.3 L1015,934.4 L1018,934.5 L1021,934.6 L1024,934.7 L1027,934.9 L1030,935.0 L1033,935.1 L1036,935.3 L1039,935.4 L1042,935.6 L1045,935.8 L1048,936.0 L1051,936.1 L1054,936.4 L1057,936.6 L1060,936.8 L1063,937.0 L1066,937.3 L1069,937.5 L1072,937.8 L1075,938.1 L1078,938.4 L1081,938.7 L1084,939.0 L1087,939.4 L1090,939.7 L1093,940.1 L1096,940.5 L1099,940.9 L1102,941.3 L1105,941.7 L1108,942.1 L1111,942.6 L1114,943.0 L1117,943.5 L1120,944.0 L1123,944.5 L1126,944.9 L1129,945.4 L1132,945.9 L1135,946.4 L1138,946.9 L1141,947.4 L1144,947.9 L1147,948.4 L1150,948.8 L1153,949.3 L1156,949.8 L1159,950.2 L1162,950.7 L1165,951.1 L1168,951.5 L1171,952.0 L1174,952.4 L1177,952.8 L1180,953.1 L1183,953.5 L1186,953.9 L1189,954.2 L1192,954.6 L1195,954.9 L1198,955.3 L1201,955.6 L1204,956.0 L1207,956.3 L1210,956.6 L1213,957.0 L1216,957.3 L1219,957.7 L1222,958.0 L1225,958.4 L1228,958.8 L1231,959.2 L1234,959.6 L1237,960.0 L1240,960.5 L1243,961.0 L1246,961.5 L1249,962.0 L1252,962.6 L1255,963.2 L1258,963.8 L1261,964.5 L1264,965.3 L1267,966.0 L1270,966.8 L1273,967.7 L1276,968.5 L1279,969.4 L1282,970.3 L1285,971.3 L1288,972.2 L1291,973.2 L1294,974.2 L1297,975.3 L1300,976.3 L1303,977.4 L1306,978.5 L1309,979.6 L1312,980.7 L1315,981.8 L1318,982.9 L1321,983.9 L1324,985.0 L1327,985.9 L1330,986.8 L1333,987.7 L1336,988.5 L1339,989.2 L1342,989.8 L1345,990.4 L1348,991.0 L1351,991.4 L1354,991.8 L1357,992.2 L1360,992.5 L1363,992.8 L1366,993.1 L1369,993.3 L1372,993.5 L1375,993.7 L1378,993.9 L1381,994.0 L1384,994.2 L1387,994.3 L1390,994.4 L1393,994.5 L1396,994.6 L1399,994.7 L1402,994.8 L1405,994.9 L1408,995.0 L1411,995.0 L1414,995.1 L1417,995.2 L1420,995.2 L1423,995.3 L1426,995.4 L1429,995.4 L1432,995.5 L1435,995.5 L1438,995.6 L1441,995.6 L1444,995.7 L1447,995.7 L1450,995.8 L1453,995.8 L1456,995.9 L1459,995.9 L1462,996.0 L1465,996.0 L1468,996.0 L1471,996.1 L1474,996.1 L1477,996.1 L1480,996.2 L1483,996.2 L1486,996.2 L1489,996.3 L1492,996.3 L1495,996.3 L1498,996.4 L1501,996.4 L1504,996.4 L1507,996.5 L1510,996.5 L1513,996.5 L1516,996.5 L1519,996.6 L1522,996.6 L1525,996.6 L1528,996.6 L1531,996.7 L1534,996.7 L1537,996.7 L1540,996.7 L1543,996.7 L1546,996.8 L1549,996.8 L1552,996.8 L1555,996.8 L1558,996.8 L1561,996.9 L1564,996.9 L1567,996.9 L1570,996.9 L1573,996.9 L1576,996.9 L1579,997.0 L1582,997.0 L1585,997.0 L1588,997.0 L1591,997.0 L1594,997.0 L1597,997.1 L1600,997.1 L1601,997.1" fill="none" stroke="#0000ff" stroke-width="6" stroke-linejoin="round" stroke-linecap="round"/>
<path d="M409,900.9 L412,900.9 L415,900.9 L418,900.9 L421,900.9 L424,900.9 L427,900.9 L430,900.9 L433,900.9 L436,900.9 L439,900.9 L442,901.0 L445,901.0 L448,901.0 L451,901.0 L454,901.0 L457,901.0 L460,901.0 L463,901.0 L466,901.1 L469,901.1 L472,901.1 L475,901.1 L478,901.2 L481,901.2 L484,901.2 L487,901.3 L490,901.3 L493,901.4 L496,901.4 L499,901.5 L502,901.5 L505,901.6 L508,901.6 L511,901.7 L514,901.8 L517,901.9 L520,902.0 L523,902.1 L526,902.2 L529,902.3 L532,902.4 L535,902.6 L538,902.7 L541,902.8 L544,903.0 L547,903.2 L550,903.3 L553,903.5 L556,903.7 L559,903.9 L562,904.1 L565,904.3 L568,904.6 L571,904.8 L574,905.0 L577,905.3 L580,905.5 L583,905.8 L586,906.1 L589,906.4 L592,906.6 L595,906.9 L598,907.2 L601,907.5 L604,907.8 L607,908.1 L610,908.4 L613,908.7 L616,909.0 L619,909.3 L622,909.7 L625,910.0 L628,910.3 L631,910.6 L634,910.9 L637,911.2 L640,911.5 L643,911.7 L646,912.0 L649,912.3 L652,912.6 L655,912.8 L658,913.1 L661,913.4 L664,913.6 L667,913.9 L670,914.1 L673,914.3 L676,914.5 L679,914.8 L682,915.0 L685,915.2 L688,915.4 L691,915.6 L694,915.8 L697,916.0 L700,916.2 L703,916.3 L706,916.5 L709,916.7 L712,916.9 L715,917.1 L718,917.3 L721,917.5 L724,917.7 L727,917.9 L730,918.1 L733,918.4 L736,918.6 L739,918.8 L742,919.1 L745,919.3 L748,919.6 L751,919.8 L754,920.1 L757,920.4 L760,920.7 L763,921.0 L766,921.3 L769,921.6 L772,922.0 L775,922.3 L778,922.7 L781,923.0 L784,923.4 L787,923.8 L790,924.2 L793,924.6 L796,925.0 L799,925.4 L802,925.9 L805,926.3 L808,926.8 L811,927.2 L814,927.6 L817,928.1 L820,928.5 L823,928.9 L826,929.3 L829,929.6 L832,929.9 L835,930.3 L838,930.5 L841,930.8 L844,931.0 L847,931.2 L850,931.4 L853,931.5 L856,931.7 L859,931.8 L862,931.9 L865,932.0 L868,932.0 L871,932.1 L874,932.1 L877,932.2 L880,932.2 L883,932.2 L886,932.2 L889,932.3 L892,932.3 L895,932.3 L898,932.3 L901,932.3 L904,932.3 L907,932.3 L910,932.3 L913,932.3 L916,932.3 L919,932.3 L922,932.3 L925,932.3 L928,932.3 L931,932.3 L934,932.3 L937,932.3 L940,932.3 L943,932.3 L946,932.3 L949,932.3 L952,932.3 L955,932.3 L958,932.3 L961,932.3 L964,932.3 L967,932.3 L970,932.3 L973,932.3 L976,932.3 L979,932.3 L982,932.3 L985,932.3 L988,932.3 L991,932.3 L994,932.2 L997,932.2 L1000,932.2 L1003,932.2 L1006,932.2 L1009,932.2 L1012,932.2 L1015,932.2 L1018,932.3 L1021,932.3 L1024,932.3 L1027,932.3 L1030,932.3 L1033,932.3 L1036,932.4 L1039,932.4 L1042,932.4 L1045,932.5 L1048,932.5 L1051,932.6 L1054,932.6 L1057,932.7 L1060,932.7 L1063,932.8 L1066,932.9 L1069,933.0 L1072,933.1 L1075,933.2 L1078,933.3 L1081,933.4 L1084,933.5 L1087,933.7 L1090,933.8 L1093,933.9 L1096,934.1 L1099,934.2 L1102,934.4 L1105,934.5 L1108,934.7 L1111,934.8 L1114,935.0 L1117,935.1 L1120,935.2 L1123,935.3 L1126,935.4 L1129,935.5 L1132,935.6 L1135,935.6 L1138,935.6 L1141,935.6 L1144,935.5 L1147,935.4 L1150,935.2 L1153,935.0 L1156,934.8 L1159,934.5 L1162,934.1 L1165,933.6 L1168,933.1 L1171,932.5 L1174,931.8 L1177,931.0 L1180,930.0 L1183,928.9 L1186,927.7 L1189,926.4 L1192,924.8 L1195,923.1 L1198,921.1 L1201,918.9 L1204,916.4 L1207,913.7 L1210,910.6 L1213,907.2 L1216,903.5 L1219,899.3 L1222,894.7 L1225,889.7 L1228,884.1 L1231,878.1 L1234,871.6 L1237,864.5 L1240,857.1 L1243,849.2 L1246,841.0 L1249,832.6 L1252,824.3 L1255,816.3 L1258,808.8 L1261,802.3 L1264,797.1 L1267,793.6 L1270,792.0 L1273,792.5 L1276,795.1 L1279,799.6 L1282,806.0 L1285,813.7 L1288,822.5 L1291,832.0 L1294,841.8 L1297,851.8 L1300,861.6 L1303,871.2 L1306,880.3 L1309,889.1 L1312,897.3 L1315,905.0 L1318,912.1 L1321,918.7 L1324,924.9 L1327,930.5 L1330,935.6 L1333,940.3 L1336,944.6 L1339,948.5 L1342,952.0 L1345,955.2 L1348,958.1 L1351,960.7 L1354,963.1 L1357,965.3 L1360,967.2 L1363,969.0 L1366,970.6 L1369,972.1 L1372,973.4 L1375,974.7 L1378,975.8 L1381,976.9 L1384,977.8 L1387,978.7 L1390,979.6 L1393,980.3 L1396,981.1 L1399,981.8 L1402,982.4 L1405,983.0 L1408,983.6 L1411,984.1 L1414,984.6 L1417,985.1 L1420,985.5 L1423,986.0 L1426,986.4 L1429,986.8 L1432,987.1 L1435,987.5 L1438,987.8 L1441,988.1 L1444,988.4 L1447,988.7 L1450,989.0 L1453,989.3 L1456,989.5 L1459,989.7 L1462,990.0 L1465,990.2 L1468,990.4 L1471,990.6 L1474,990.8 L1477,991.0 L1480,991.2 L1483,991.4 L1486,991.5 L1489,991.7 L1492,991.8 L1495,992.0 L1498,992.1 L1501,992.3 L1504,992.4 L1507,992.5 L1510,992.7 L1513,992.8 L1516,992.9 L1519,993.0 L1522,993.1 L1525,993.2 L1528,993.3 L1531,993.4 L1534,993.5 L1537,993.6 L1540,993.7 L1543,993.8 L1546,993.9 L1549,994.0 L1552,994.0 L1555,994.1 L1558,994.2 L1561,994.3 L1564,994.3 L1567,994.4 L1570,994.5 L1573,994.5 L1576,994.6 L1579,994.7 L1582,994.7 L1585,994.8 L1588,994.9 L1591,994.9 L1594,995.0 L1597,995.0 L1600,995.1 L1601,995.1" fill="none" stroke="#0000ff" stroke-width="6" stroke-linejoin="round" stroke-linecap="round"/>
<path d="M409,901.2 L412,901.2 L415,901.2 L418,901.2 L421,901.2 L424,901.2 L427,901.2 L430,901.2 L433,901.3 L436,901.3 L439,901.3 L442,901.3 L445,901.3 L448,901.3 L451,901.3 L454,901.3 L457,901.4 L460,901.4 L463,901.4 L466,901.4 L469,901.4 L472,901.5 L475,901.5 L478,901.5 L481,901.6 L484,901.6 L487,901.6 L490,901.7 L493,901.7 L496,901.8 L499,901.8 L502,901.9 L505,902.0 L508,902.0 L511,902.1 L514,902.2 L517,902.3 L520,902.4 L523,902.5 L526,902.6 L529,902.7 L532,902.8 L535,903.0 L538,903.1 L541,903.3 L544,903.4 L547,903.6 L550,903.8 L553,904.0 L556,904.2 L559,904.4 L562,904.6 L565,904.8 L568,905.0 L571,905.3 L574,905.5 L577,905.8 L580,906.0 L583,906.3 L586,906.6 L589,906.8 L592,907.1 L595,907.4 L598,907.7 L601,908.0 L604,908.3 L607,908.6 L610,908.9 L613,909.3 L616,909.6 L619,909.9 L622,910.2 L625,910.5 L628,910.8 L631,911.1 L634,911.4 L637,911.7 L640,912.0 L643,912.3 L646,912.6 L649,912.9 L652,913.2 L655,913.5 L658,913.7 L661,914.0 L664,914.2 L667,914.5 L670,914.7 L673,915.0 L676,915.2 L679,915.4 L682,915.6 L685,915.8 L688,916.1 L691,916.3 L694,916.5 L697,916.7 L700,916.8 L703,917.0 L706,917.2 L709,917.4 L712,917.6 L715,917.7 L718,917.9 L721,918.0 L724,918.1 L727,918.1 L730,918.1 L733,918.0 L736,917.8 L739,917.4 L742,916.9 L745,916.2 L748,915.1 L751,913.8 L754,912.1 L757,910.0 L760,907.4 L763,904.3 L766,900.7 L769,896.5 L772,891.8 L775,886.5 L778,880.8 L781,874.7 L784,868.4 L787,862.0 L790,855.6 L793,849.5 L796,843.7 L799,838.7 L802,834.4 L805,831.1 L808,828.9 L811,827.9 L814,828.1 L817,829.6 L820,832.3 L823,836.1 L826,840.9 L829,846.6 L832,852.9 L835,859.7 L838,866.7 L841,873.8 L844,880.8 L847,887.6 L850,894.0 L853,899.9 L856,905.3 L859,910.2 L862,914.4 L865,918.1 L868,921.3 L871,923.9 L874,926.1 L877,927.9 L880,929.3 L883,930.5 L886,931.4 L889,932.0 L892,932.6 L895,933.0 L898,933.3 L901,933.5 L904,933.7 L907,933.8 L910,933.9 L913,934.0 L916,934.1 L919,934.1 L922,934.2 L925,934.2 L928,934.3 L931,934.3 L934,934.3 L937,934.4 L940,934.4 L943,934.4 L946,934.5 L949,934.5 L952,934.6 L955,934.6 L958,934.6 L961,934.7 L964,934.7 L967,934.7 L970,934.8 L973,934.8 L976,934.9 L979,934.9 L982,935.0 L985,935.0 L988,935.1 L991,935.1 L994,935.2 L997,935.2 L1000,935.3 L1003,935.4 L1006,935.4 L1009,935.5 L1012,935.6 L1015,935.7 L1018,935.8 L1021,935.8 L1024,935.9 L1027,936.0 L1030,936.2 L1033,936.3 L1036,936.4 L1039,936.5 L1042,936.7 L1045,936.8 L1048,937.0 L1051,937.1 L1054,937.3 L1057,937.5 L1060,937.7 L1063,937.9 L1066,938.2 L1069,938.4 L1072,938.7 L1075,938.9 L1078,939.2 L1081,939.5 L1084,939.8 L1087,940.2 L1090,940.5 L1093,940.8 L1096,941.2 L1099,941.6 L1102,942.0 L1105,942.4 L1108,942.8 L1111,943.3 L1114,943.7 L1117,944.2 L1120,944.6 L1123,945.1 L1126,945.6 L1129,946.1 L1132,946.5 L1135,947.0 L1138,947.5 L1141,948.0 L1144,948.5 L1147,948.9 L1150,949.4 L1153,949.9 L1156,950.3 L1159,950.8 L1162,951.2 L1165,951.6 L1168,952.0 L1171,952.5 L1174,952.9 L1177,953.2 L1180,953.6 L1183,954.0 L1186,954.4 L1189,954.7 L1192,955.1 L1195,955.4 L1198,955.7 L1201,956.1 L1204,956.4 L1207,956.7 L1210,957.1 L1213,957.4 L1216,957.7 L1219,958.1 L1222,958.4 L1225,958.8 L1228,959.2 L1231,959.6 L1234,960.0 L1237,960.4 L1240,960.8 L1243,961.3 L1246,961.8 L1249,962.4 L1252,962.9 L1255,963.5 L1258,964.2 L1261,964.9 L1264,965.6 L1267,966.4 L1270,967.2 L1273,968.0 L1276,968.8 L1279,969.7 L1282,970.6 L1285,971.6 L1288,972.5 L1291,973.5 L1294,974.5 L1297,975.6 L1300,976.6 L1303,977.7 L1306,978.8 L1309,979.9 L1312,981.0 L1315,982.1 L1318,983.2 L1321,984.2 L1324,985.2 L1327,986.2 L1330,987.1 L1333,987.9 L1336,988.7 L1339,989.4 L1342,990.1 L1345,990.7 L1348,991.2 L1351,991.7 L1354,992.1 L1357,992.5 L1360,992.8 L1363,993.1 L1366,993.3 L1369,993.6 L1372,993.8 L1375,993.9 L1378,994.1 L1381,994.2 L1384,994.4 L1387,994.5 L1390,994.6 L1393,994.7 L1396,994.8 L1399,994.9 L1402,995.0 L1405,995.1 L1408,995.2 L1411,995.2 L1414,995.3 L1417,995.4 L1420,995.4 L1423,995.5 L1426,995.6 L1429,995.6 L1432,995.7 L1435,995.7 L1438,995.8 L1441,995.8 L1444,995.9 L1447,995.9 L1450,996.0 L1453,996.0 L1456,996.1 L1459,996.1 L1462,996.1 L1465,996.2 L1468,996.2 L1471,996.2 L1474,996.3 L1477,996.3 L1480,996.3 L1483,996.4 L1486,996.4 L1489,996.4 L1492,996.5 L1495,996.5 L1498,996.5 L1501,996.6 L1504,996.6 L1507,996.6 L1510,996.6 L1513,996.7 L1516,996.7 L1519,996.7 L1522,996.7 L1525,996.8 L1528,996.8 L1531,996.8 L1534,996.8 L1537,996.8 L1540,996.9 L1543,996.9 L1546,996.9 L1549,996.9 L1552,996.9 L1555,997.0 L1558,997.0 L1561,997.0 L1564,997.0 L1567,997.0 L1570,997.0 L1573,997.1 L1576,997.1 L1579,997.1 L1582,997.1 L1585,997.1 L1588,997.1 L1591,997.1 L1594,997.2 L1597,997.2 L1600,997.2 L1601,997.2" fill="none" stroke="#ff00ff" stroke-width="6" stroke-linejoin="round" stroke-linecap="round"/>
<path d="M409,901.1 L412,901.1 L415,901.1 L418,901.1 L421,901.1 L424,901.1 L427,901.1 L430,901.2 L433,901.2 L436,901.2 L439,901.2 L442,901.2 L445,901.2 L448,901.2 L451,901.2 L454,901.2 L457,901.3 L460,901.3 L463,901.3 L466,901.3 L469,901.3 L472,901.4 L475,901.4 L478,901.4 L481,901.5 L484,901.5 L487,901.5 L490,901.6 L493,901.6 L496,901.7 L499,901.7 L502,901.8 L505,901.9 L508,901.9 L511,902.0 L514,902.1 L517,902.2 L520,902.3 L523,902.4 L526,902.5 L529,902.6 L532,902.7 L535,902.9 L538,903.0 L541,903.1 L544,903.3 L547,903.5 L550,903.6 L553,903.8 L556,904.0 L559,904.2 L562,904.4 L565,904.7 L568,904.9 L571,905.1 L574,905.4 L577,905.6 L580,905.9 L583,906.1 L586,906.4 L589,906.7 L592,907.0 L595,907.3 L598,907.6 L601,907.9 L604,908.2 L607,908.5 L610,908.8 L613,909.1 L616,909.4 L619,909.7 L622,910.0 L625,910.4 L628,910.7 L631,911.0 L634,911.3 L637,911.6 L640,911.9 L643,912.2 L646,912.4 L649,912.7 L652,913.0 L655,913.3 L658,913.5 L661,913.8 L664,914.1 L667,914.3 L670,914.5 L673,914.8 L676,915.0 L679,915.2 L682,915.4 L685,915.7 L688,915.9 L691,916.1 L694,916.3 L697,916.5 L700,916.7 L703,916.9 L706,917.1 L709,917.2 L712,917.4 L715,917.6 L718,917.8 L721,918.0 L724,918.3 L727,918.5 L730,918.7 L733,918.9 L736,919.2 L739,919.4 L742,919.6 L745,919.9 L748,920.2 L751,920.4 L754,920.7 L757,921.0 L760,921.3 L763,921.6 L766,922.0 L769,922.3 L772,922.6 L775,923.0 L778,923.3 L781,923.7 L784,924.1 L787,924.5 L790,924.9 L793,925.3 L796,925.7 L799,926.2 L802,926.6 L805,927.1 L808,927.5 L811,928.0 L814,928.4 L817,928.9 L820,929.3 L823,929.7 L826,930.1 L829,930.5 L832,930.8 L835,931.1 L838,931.4 L841,931.7 L844,931.9 L847,932.1 L850,932.3 L853,932.5 L856,932.6 L859,932.8 L862,932.9 L865,933.0 L868,933.1 L871,933.1 L874,933.2 L877,933.2 L880,933.3 L883,933.3 L886,933.4 L889,933.4 L892,933.4 L895,933.5 L898,933.5 L901,933.5 L904,933.6 L907,933.6 L910,933.6 L913,933.6 L916,933.7 L919,933.7 L922,933.7 L925,933.7 L928,933.8 L931,933.8 L934,933.8 L937,933.8 L940,933.9 L943,933.9 L946,933.9 L949,933.9 L952,934.0 L955,934.0 L958,934.0 L961,934.1 L964,934.1 L967,934.1 L970,934.2 L973,934.2 L976,934.2 L979,934.3 L982,934.3 L985,934.3 L988,934.4 L991,934.4 L994,934.5 L997,934.5 L1000,934.5 L1003,934.6 L1006,934.6 L1009,934.7 L1012,934.8 L1015,934.8 L1018,934.9 L1021,935.0 L1024,935.1 L1027,935.1 L1030,935.2 L1033,935.3 L1036,935.4 L1039,935.5 L1042,935.7 L1045,935.8 L1048,935.9 L1051,936.1 L1054,936.2 L1057,936.4 L1060,936.6 L1063,936.8 L1066,937.0 L1069,937.2 L1072,937.4 L1075,937.6 L1078,937.9 L1081,938.1 L1084,938.4 L1087,938.7 L1090,939.0 L1093,939.3 L1096,939.7 L1099,940.0 L1102,940.4 L1105,940.7 L1108,941.1 L1111,941.5 L1114,941.9 L1117,942.3 L1120,942.7 L1123,943.1 L1126,943.5 L1129,943.9 L1132,944.3 L1135,944.7 L1138,945.2 L1141,945.6 L1144,945.9 L1147,946.3 L1150,946.7 L1153,947.1 L1156,947.4 L1159,947.8 L1162,948.1 L1165,948.4 L1168,948.7 L1171,949.0 L1174,949.2 L1177,949.4 L1180,949.7 L1183,949.9 L1186,950.0 L1189,950.2 L1192,950.3 L1195,950.4 L1198,950.5 L1201,950.6 L1204,950.7 L1207,950.7 L1210,950.7 L1213,950.7 L1216,950.6 L1219,950.5 L1222,950.3 L1225,950.1 L1228,949.8 L1231,949.4 L1234,948.9 L1237,948.2 L1240,947.3 L1243,946.2 L1246,944.7 L1249,942.8 L1252,940.4 L1255,937.4 L1258,933.7 L1261,929.2 L1264,923.7 L1267,917.2 L1270,909.5 L1273,900.6 L1276,890.5 L1279,879.1 L1282,866.6 L1285,853.0 L1288,838.5 L1291,823.5 L1294,808.2 L1297,793.1 L1300,778.8 L1303,765.8 L1306,754.8 L1309,746.5 L1312,741.3 L1315,739.9 L1318,742.2 L1321,748.3 L1324,757.8 L1327,770.0 L1330,784.4 L1333,800.3 L1336,817.0 L1339,834.0 L1342,850.8 L1345,867.0 L1348,882.4 L1351,896.7 L1354,909.8 L1357,921.6 L1360,932.0 L1363,941.2 L1366,949.1 L1369,955.9 L1372,961.6 L1375,966.4 L1378,970.4 L1381,973.8 L1384,976.5 L1387,978.7 L1390,980.6 L1393,982.1 L1396,983.4 L1399,984.5 L1402,985.4 L1405,986.2 L1408,986.9 L1411,987.5 L1414,988.0 L1417,988.5 L1420,988.9 L1423,989.4 L1426,989.7 L1429,990.1 L1432,990.4 L1435,990.7 L1438,991.0 L1441,991.2 L1444,991.5 L1447,991.7 L1450,991.9 L1453,992.2 L1456,992.4 L1459,992.5 L1462,992.7 L1465,992.9 L1468,993.1 L1471,993.2 L1474,993.3 L1477,993.5 L1480,993.6 L1483,993.7 L1486,993.9 L1489,994.0 L1492,994.1 L1495,994.2 L1498,994.3 L1501,994.4 L1504,994.5 L1507,994.6 L1510,994.7 L1513,994.7 L1516,994.8 L1519,994.9 L1522,995.0 L1525,995.0 L1528,995.1 L1531,995.2 L1534,995.2 L1537,995.3 L1540,995.4 L1543,995.4 L1546,995.5 L1549,995.5 L1552,995.6 L1555,995.6 L1558,995.7 L1561,995.7 L1564,995.8 L1567,995.8 L1570,995.9 L1573,995.9 L1576,996.0 L1579,996.0 L1582,996.0 L1585,996.1 L1588,996.1 L1591,996.2 L1594,996.2 L1597,996.2 L1600,996.3 L1601,996.3" fill="none" stroke="#ff00ff" stroke-width="6" stroke-linejoin="round" stroke-linecap="round"/>
<path d="M409,901.2 L412,901.2 L415,901.2 L418,901.2 L421,901.2 L424,901.2 L427,901.2 L430,901.2 L433,901.3 L436,901.3 L439,901.3 L442,901.3 L445,901.3 L448,901.3 L451,901.3 L454,901.3 L457,901.4 L460,901.4 L463,901.4 L466,901.4 L469,901.4 L472,901.5 L475,901.5 L478,901.5 L481,901.6 L484,901.6 L487,901.6 L490,901.7 L493,901.7 L496,901.8 L499,901.8 L502,901.9 L505,902.0 L508,902.0 L511,902.1 L514,902.2 L517,902.3 L520,902.4 L523,902.5 L526,902.6 L529,902.7 L532,902.8 L535,903.0 L538,903.1 L541,903.3 L544,903.4 L547,903.6 L550,903.8 L553,904.0 L556,904.2 L559,904.4 L562,904.6 L565,904.8 L568,905.0 L571,905.3 L574,905.5 L577,905.8 L580,906.0 L583,906.3 L586,906.6 L589,906.8 L592,907.1 L595,907.4 L598,907.7 L601,908.0 L604,908.3 L607,908.6 L610,908.9 L613,909.3 L616,909.6 L619,909.9 L622,910.2 L625,910.5 L628,910.8 L631,911.1 L634,911.4 L637,911.7 L640,912.0 L643,912.3 L646,912.6 L649,912.9 L652,913.2 L655,913.5 L658,913.7 L661,914.0 L664,914.2 L667,914.5 L670,914.7 L673,915.0 L676,915.2 L679,915.4 L682,915.6 L685,915.8 L688,916.1 L691,916.3 L694,916.5 L697,916.7 L700,916.9 L703,917.1 L706,917.3 L709,917.5 L712,917.7 L715,917.9 L718,918.1 L721,918.3 L724,918.5 L727,918.7 L730,918.9 L733,919.1 L736,919.4 L739,919.6 L742,919.9 L745,920.1 L748,920.4 L751,920.7 L754,921.0 L757,921.3 L760,921.6 L763,921.9 L766,922.2 L769,922.5 L772,922.9 L775,923.2 L778,923.6 L781,924.0 L784,924.4 L787,924.8 L790,925.2 L793,925.6 L796,926.0 L799,926.5 L802,926.9 L805,927.4 L808,927.8 L811,928.3 L814,928.7 L817,929.2 L820,929.6 L823,930.0 L826,930.4 L829,930.8 L832,931.1 L835,931.5 L838,931.8 L841,932.0 L844,932.3 L847,932.5 L850,932.7 L853,932.9 L856,933.0 L859,933.1 L862,933.2 L865,933.3 L868,933.4 L871,933.5 L874,933.6 L877,933.6 L880,933.7 L883,933.7 L886,933.8 L889,933.8 L892,933.9 L895,933.9 L898,933.9 L901,934.0 L904,934.0 L907,934.0 L910,934.1 L913,934.1 L916,934.1 L919,934.2 L922,934.2 L925,934.2 L928,934.3 L931,934.3 L934,934.3 L937,934.4 L940,934.4 L943,934.4 L946,934.5 L949,934.5 L952,934.6 L955,934.6 L958,934.6 L961,934.7 L964,934.7 L967,934.7 L970,934.8 L973,934.8 L976,934.9 L979,934.9 L982,935.0 L985,935.0 L988,935.1 L991,935.1 L994,935.2 L997,935.2 L1000,935.3 L1003,935.4 L1006,935.4 L1009,935.5 L1012,935.6 L1015,935.7 L1018,935.8 L1021,935.8 L1024,935.9 L1027,936.0 L1030,936.2 L1033,936.3 L1036,936.4 L1039,936.5 L1042,936.7 L1045,936.8 L1048,937.0 L1051,937.1 L1054,937.3 L1057,937.5 L1060,937.7 L1063,937.9 L1066,938.2 L1069,938.4 L1072,938.7 L1075,938.9 L1078,939.2 L1081,939.5 L1084,939.8 L1087,940.2 L1090,940.5 L1093,940.8 L1096,941.2 L1099,941.6 L1102,942.0 L1105,942.4 L1108,942.8 L1111,943.3 L1114,943.7 L1117,944.2 L1120,944.6 L1123,945.1 L1126,945.6 L1129,946.1 L1132,946.5 L1135,947.0 L1138,947.5 L1141,948.0 L1144,948.5 L1147,948.9 L1150,949.4 L1153,949.9 L1156,950.3 L1159,950.8 L1162,951.2 L1165,951.6 L1168,952.0 L1171,952.5 L1174,952.9 L1177,953.2 L1180,953.6 L1183,954.0 L1186,954.4 L1189,954.7 L1192,955.1 L1195,955.4 L1198,955.7 L1201,956.1 L1204,956.4 L1207,956.7 L1210,957.1 L1213,957.4 L1216,957.7 L1219,958.1 L1222,958.4 L1225,958.8 L1228,959.2 L1231,959.6 L1234,960.0 L1237,960.4 L1240,960.8 L1243,961.3 L1246,961.8 L1249,962.4 L1252,962.9 L1255,963.5 L1258,964.2 L1261,964.9 L1264,965.6 L1267,966.4 L1270,967.2 L1273,968.0 L1276,968.8 L1279,969.7 L1282,970.6 L1285,971.6 L1288,972.5 L1291,973.5 L1294,974.5 L1297,975.6 L1300,976.6 L1303,977.7 L1306,978.8 L1309,979.9 L1312,981.0 L1315,982.1 L1318,983.2 L1321,984.2 L1324,985.2 L1327,986.2 L1330,987.1 L1333,987.9 L1336,988.7 L1339,989.4 L1342,990.1 L1345,990.7 L1348,991.2 L1351,991.7 L1354,992.1 L1357,992.5 L1360,992.8 L1363,993.1 L1366,993.3 L1369,993.6 L1372,993.8 L1375,993.9 L1378,994.1 L1381,994.2 L1384,994.4 L1387,994.5 L1390,994.6 L1393,994.7 L1396,994.8 L1399,994.9 L1402,995.0 L1405,995.1 L1408,995.2 L1411,995.2 L1414,995.3 L1417,995.4 L1420,995.4 L1423,995.5 L1426,995.6 L1429,995.6 L1432,995.7 L1435,995.7 L1438,995.8 L1441,995.8 L1444,995.9 L1447,995.9 L1450,996.0 L1453,996.0 L1456,996.1 L1459,996.1 L1462,996.1 L1465,996.2 L1468,996.2 L1471,996.2 L1474,996.3 L1477,996.3 L1480,996.3 L1483,996.4 L1486,996.4 L1489,996.4 L1492,996.5 L1495,996.5 L1498,996.5 L1501,996.6 L1504,996.6 L1507,996.6 L1510,996.6 L1513,996.7 L1516,996.7 L1519,996.7 L1522,996.7 L1525,996.8 L1528,996.8 L1531,996.8 L1534,996.8 L1537,996.8 L1540,996.9 L1543,996.9 L1546,996.9 L1549,996.9 L1552,996.9 L1555,997.0 L1558,997.0 L1561,997.0 L1564,997.0 L1567,997.0 L1570,997.0 L1573,997.1 L1576,997.1 L1579,997.1 L1582,997.1 L1585,997.1 L1588,997.1 L1591,997.1 L1594,997.2 L1597,997.2 L1600,997.2 L1601,997.2" fill="none" stroke="#008000" stroke-width="6" stroke-linejoin="round" stroke-linecap="round"/>
<path d="M409,899.4 L412,899.3 L415,899.2 L418,899.1 L421,899.0 L424,898.9 L427,898.7 L430,898.6 L433,898.4 L436,898.2 L439,898.0 L442,897.7 L445,897.5 L448,897.2 L451,896.8 L454,896.4 L457,896.0 L460,895.6 L463,895.1 L466,894.5 L469,893.9 L472,893.2 L475,892.5 L478,891.7 L481,890.8 L484,889.9 L487,888.8 L490,887.8 L493,886.6 L496,885.3 L499,884.0 L502,882.6 L505,881.0 L508,879.4 L511,877.7 L514,876.0 L517,874.1 L520,872.1 L523,870.1 L526,868.0 L529,865.8 L532,863.6 L535,861.3 L538,858.9 L541,856.5 L544,854.1 L547,851.6 L550,849.2 L553,846.7 L556,844.2 L559,841.8 L562,839.4 L565,837.0 L568,834.7 L571,832.5 L574,830.3 L577,828.3 L580,826.3 L583,824.5 L586,822.9 L589,821.4 L592,820.0 L595,818.8 L598,817.8 L601,817.0 L604,816.3 L607,815.9 L610,815.7 L613,815.6 L616,815.8 L619,816.1 L622,816.7 L625,817.4 L628,818.3 L631,819.4 L634,820.7 L637,822.1 L640,823.7 L643,825.4 L646,827.2 L649,829.1 L652,831.0 L655,833.1 L658,835.2 L661,837.3 L664,839.4 L667,841.5 L670,843.6 L673,845.6 L676,847.5 L679,849.3 L682,851.0 L685,852.6 L688,854.0 L691,855.2 L694,856.3 L697,857.1 L700,857.7 L703,858.1 L706,858.3 L709,858.2 L712,857.9 L715,857.3 L718,856.5 L721,855.4 L724,854.2 L727,852.7 L730,851.0 L733,849.2 L736,847.2 L739,845.0 L742,842.8 L745,840.4 L748,838.0 L751,835.6 L754,833.2 L757,830.8 L760,828.4 L763,826.0 L766,823.5 L769,821.0 L772,818.3 L775,815.4 L778,812.4 L781,809.3 L784,806.1 L787,802.9 L790,799.7 L793,796.9 L796,794.4 L799,792.4 L802,791.2 L805,790.8 L808,791.3 L811,792.9 L814,795.6 L817,799.4 L820,804.2 L823,810.0 L826,816.6 L829,823.9 L832,831.7 L835,839.9 L838,848.1 L841,856.4 L844,864.4 L847,872.0 L850,879.2 L853,885.9 L856,891.9 L859,897.3 L862,902.0 L865,906.1 L868,909.7 L871,912.6 L874,915.1 L877,917.1 L880,918.8 L883,920.1 L886,921.1 L889,921.9 L892,922.6 L895,923.1 L898,923.4 L901,923.7 L904,923.9 L907,924.1 L910,924.2 L913,924.3 L916,924.3 L919,924.3 L922,924.3 L925,924.3 L928,924.3 L931,924.2 L934,924.1 L937,924.1 L940,924.0 L943,923.9 L946,923.7 L949,923.6 L952,923.4 L955,923.2 L958,923.0 L961,922.8 L964,922.5 L967,922.2 L970,921.9 L973,921.6 L976,921.2 L979,920.7 L982,920.2 L985,919.7 L988,919.1 L991,918.5 L994,917.8 L997,917.0 L1000,916.1 L1003,915.2 L1006,914.1 L1009,913.0 L1012,911.8 L1015,910.5 L1018,909.0 L1021,907.4 L1024,905.7 L1027,903.9 L1030,902.0 L1033,899.9 L1036,897.6 L1039,895.2 L1042,892.7 L1045,890.0 L1048,887.2 L1051,884.2 L1054,881.1 L1057,877.8 L1060,874.4 L1063,870.9 L1066,867.2 L1069,863.4 L1072,859.6 L1075,855.6 L1078,851.6 L1081,847.6 L1084,843.5 L1087,839.5 L1090,835.5 L1093,831.5 L1096,827.6 L1099,823.9 L1102,820.3 L1105,816.9 L1108,813.8 L1111,811.0 L1114,808.5 L1117,806.3 L1120,804.5 L1123,803.2 L1126,802.3 L1129,801.8 L1132,801.8 L1135,802.3 L1138,803.1 L1141,804.5 L1144,806.2 L1147,808.2 L1150,810.6 L1153,813.3 L1156,816.2 L1159,819.2 L1162,822.4 L1165,825.7 L1168,829.1 L1171,832.4 L1174,835.7 L1177,838.9 L1180,841.9 L1183,844.8 L1186,847.5 L1189,850.0 L1192,852.2 L1195,854.1 L1198,855.6 L1201,856.8 L1204,857.5 L1207,857.8 L1210,857.6 L1213,856.8 L1216,855.6 L1219,853.7 L1222,851.1 L1225,847.9 L1228,844.0 L1231,839.3 L1234,833.8 L1237,827.6 L1240,820.5 L1243,812.5 L1246,803.8 L1249,794.4 L1252,784.3 L1255,773.9 L1258,763.1 L1261,752.4 L1264,741.9 L1267,731.9 L1270,722.5 L1273,714.0 L1276,706.2 L1279,699.0 L1282,692.4 L1285,686.1 L1288,679.9 L1291,673.7 L1294,667.7 L1297,661.9 L1300,656.6 L1303,652.4 L1306,649.7 L1309,649.2 L1312,651.5 L1315,656.8 L1318,665.4 L1321,677.3 L1324,692.0 L1327,709.1 L1330,727.9 L1333,747.7 L1336,768.1 L1339,788.3 L1342,808.1 L1345,827.1 L1348,845.0 L1351,861.5 L1354,876.7 L1357,890.4 L1360,902.5 L1363,913.3 L1366,922.7 L1369,930.8 L1372,937.7 L1375,943.7 L1378,948.7 L1381,953.0 L1384,956.7 L1387,959.8 L1390,962.4 L1393,964.7 L1396,966.7 L1399,968.4 L1402,969.9 L1405,971.3 L1408,972.5 L1411,973.6 L1414,974.7 L1417,975.6 L1420,976.5 L1423,977.3 L1426,978.1 L1429,978.8 L1432,979.5 L1435,980.1 L1438,980.7 L1441,981.3 L1444,981.8 L1447,982.3 L1450,982.8 L1453,983.3 L1456,983.7 L1459,984.2 L1462,984.6 L1465,984.9 L1468,985.3 L1471,985.7 L1474,986.0 L1477,986.3 L1480,986.6 L1483,986.9 L1486,987.2 L1489,987.5 L1492,987.7 L1495,988.0 L1498,988.2 L1501,988.5 L1504,988.7 L1507,988.9 L1510,989.1 L1513,989.3 L1516,989.5 L1519,989.7 L1522,989.9 L1525,990.1 L1528,990.2 L1531,990.4 L1534,990.6 L1537,990.7 L1540,990.9 L1543,991.0 L1546,991.1 L1549,991.3 L1552,991.4 L1555,991.5 L1558,991.7 L1561,991.8 L1564,991.9 L1567,992.0 L1570,992.1 L1573,992.2 L1576,992.3 L1579,992.4 L1582,992.5 L1585,992.6 L1588,992.7 L1591,992.8 L1594,992.9 L1597,993.0 L1600,993.1 L1601,993.1" fill="none" stroke="#f00" stroke-width="6.3" stroke-linejoin="round" stroke-linecap="round"/>
<path d="M409,899.4 L412,899.3 L415,899.2 L418,899.1 L421,899.0 L424,898.9 L427,898.7 L430,898.6 L433,898.4 L436,898.2 L439,898.0 L442,897.7 L445,897.5 L448,897.2 L451,896.8 L454,896.4 L457,896.0 L460,895.6 L463,895.1 L466,894.5 L469,893.9 L472,893.2 L475,892.5 L478,891.7 L481,890.8 L484,889.9 L487,888.8 L490,887.8 L493,886.6 L496,885.3 L499,884.0 L502,882.6 L505,881.0 L508,879.4 L511,877.7 L514,876.0 L517,874.1 L520,872.1 L523,870.1 L526,868.0 L529,865.8 L532,863.6 L535,861.3 L538,858.9 L541,856.5 L544,854.1 L547,851.6 L550,849.2 L553,846.7 L556,844.2 L559,841.8 L562,839.4 L565,837.0 L568,834.7 L571,832.5 L574,830.3 L577,828.3 L580,826.3 L583,824.5 L586,822.9 L589,821.4 L592,820.0 L595,818.8 L598,817.8 L601,817.0 L604,816.3 L607,815.9 L610,815.7 L613,815.6 L616,815.8 L619,816.1 L622,816.7 L625,817.4 L628,818.3 L631,819.4 L634,820.7 L637,822.1 L640,823.7 L643,825.4 L646,827.2 L649,829.1 L652,831.0 L655,833.1 L658,835.2 L661,837.3 L664,839.4 L667,841.5 L670,843.6 L673,845.6 L676,847.5 L679,849.3 L682,851.0 L685,852.6 L688,854.0 L691,855.2 L694,856.3 L697,857.1 L700,857.7 L703,858.1 L706,858.3 L709,858.2 L712,857.9 L715,857.3 L718,856.5 L721,855.4 L724,854.2 L727,852.7 L730,851.0 L733,849.2 L736,847.2 L739,845.0 L742,842.8 L745,840.4 L748,838.0 L751,835.6 L754,833.2 L757,830.8 L760,828.4 L763,826.0 L766,823.5 L769,821.0 L772,818.3 L775,815.4 L778,812.4 L781,809.3 L784,806.1 L787,802.9 L790,799.7 L793,796.9 L796,794.4 L799,792.4 L802,791.2 L805,790.8 L808,791.3 L811,792.9 L814,795.6 L817,799.4 L820,804.2 L823,810.0 L826,816.6 L829,823.9 L832,831.7 L835,839.9 L838,848.1 L841,856.4 L844,864.4 L847,872.0 L850,879.2 L853,885.9 L856,891.9 L859,897.3 L862,902.0 L865,906.1 L868,909.7 L871,912.6 L874,915.1 L877,917.1 L880,918.8 L883,920.1 L886,921.1 L889,921.9 L892,922.6 L895,923.1 L898,923.4 L901,923.7 L904,923.9 L907,924.1 L910,924.2 L913,924.3 L916,924.3 L919,924.3 L922,924.3 L925,924.3 L928,924.3 L931,924.2 L934,924.1 L937,924.1 L940,924.0 L943,923.9 L946,923.7 L949,923.6 L952,923.4 L955,923.2 L958,923.0 L961,922.8 L964,922.5 L967,922.2 L970,921.9 L973,921.6 L976,921.2 L979,920.7 L982,920.2 L985,919.7 L988,919.1 L991,918.5 L994,917.8 L997,917.0 L1000,916.1 L1003,915.2 L1006,914.1 L1009,913.0 L1012,911.8 L1015,910.5 L1018,909.0 L1021,907.4 L1024,905.7 L1027,903.9 L1030,902.0 L1033,899.9 L1036,897.6 L1039,895.2 L1042,892.7 L1045,890.0 L1048,887.2 L1051,884.2 L1054,881.1 L1057,877.8 L1060,874.4 L1063,870.9 L1066,867.2 L1069,863.4 L1072,859.6 L1075,855.6 L1078,851.6 L1081,847.6 L1084,843.5 L1087,839.5 L1090,835.5 L1093,831.5 L1096,827.6 L1099,823.9 L1102,820.3 L1105,816.9 L1108,813.8 L1111,811.0 L1114,808.5 L1117,806.3 L1120,804.5 L1123,803.2 L1126,802.3 L1129,801.8 L1132,801.8 L1135,802.3 L1138,803.1 L1141,804.5 L1144,806.2 L1147,808.2 L1150,810.6 L1153,813.3 L1156,816.2 L1159,819.2 L1162,822.4 L1165,825.7 L1168,829.1 L1171,832.4 L1174,835.7 L1177,838.9 L1180,841.9 L1183,844.8 L1186,847.5 L1189,850.0 L1192,852.2 L1195,854.1 L1198,855.6 L1201,856.8 L1204,857.5 L1207,857.8 L1210,857.6 L1213,856.8 L1216,855.6 L1219,853.7 L1222,851.1 L1225,847.9 L1228,844.0 L1231,839.3 L1234,833.8 L1237,827.6 L1240,820.5 L1243,812.5 L1246,803.8 L1249,794.4 L1252,784.3 L1255,773.9 L1258,763.1 L1261,752.4 L1264,741.9 L1267,731.9 L1270,722.5 L1273,714.0 L1276,706.2 L1279,699.0 L1282,692.4 L1285,686.1 L1288,679.9 L1291,673.7 L1294,667.7 L1297,661.9 L1300,656.6 L1303,652.4 L1306,649.7 L1309,649.2 L1312,651.5 L1315,656.8 L1318,665.4 L1321,677.3 L1324,692.0 L1327,709.1 L1330,727.9 L1333,747.7 L1336,768.1 L1339,788.3 L1342,808.1 L1345,827.1 L1348,845.0 L1351,861.5 L1354,876.7 L1357,890.4 L1360,902.5 L1363,913.3 L1366,922.7 L1369,930.8 L1372,937.7 L1375,943.7 L1378,948.7 L1381,953.0 L1384,956.7 L1387,959.8 L1390,962.4 L1393,964.7 L1396,966.7 L1399,968.4 L1402,969.9 L1405,971.3 L1408,972.5 L1411,973.6 L1414,974.7 L1417,975.6 L1420,976.5 L1423,977.3 L1426,978.1 L1429,978.8 L1432,979.5 L1435,980.1 L1438,980.7 L1441,981.3 L1444,981.8 L1447,982.3 L1450,982.8 L1453,983.3 L1456,983.7 L1459,984.2 L1462,984.6 L1465,984.9 L1468,985.3 L1471,985.7 L1474,986.0 L1477,986.3 L1480,986.6 L1483,986.9 L1486,987.2 L1489,987.5 L1492,987.7 L1495,988.0 L1498,988.2 L1501,988.5 L1504,988.7 L1507,988.9 L1510,989.1 L1513,989.3 L1516,989.5 L1519,989.7 L1522,989.9 L1525,990.1 L1528,990.2 L1531,990.4 L1534,990.6 L1537,990.7 L1540,990.9 L1543,991.0 L1546,991.1 L1549,991.3 L1552,991.4 L1555,991.5 L1558,991.7 L1561,991.8 L1564,991.9 L1567,992.0 L1570,992.1 L1573,992.2 L1576,992.3 L1579,992.4 L1582,992.5 L1585,992.6 L1588,992.7 L1591,992.8 L1594,992.9 L1597,993.0 L1600,993.1 L1601,993.1" fill="none" stroke="#000" stroke-opacity="0.8" stroke-width="1.1" stroke-dasharray="0.01 7.6" stroke-linecap="round"/>
<path d="M409,900.8 L412,900.8 L415,900.7 L418,900.6 L421,900.5 L424,900.4 L427,900.3 L430,900.2 L433,900.0 L436,899.9 L439,899.7 L442,899.4 L445,899.2 L448,898.9 L451,898.6 L454,898.2 L457,897.8 L460,897.4 L463,896.9 L466,896.4 L469,895.8 L472,895.2 L475,894.4 L478,893.7 L481,892.8 L484,891.9 L487,890.9 L490,889.9 L493,888.7 L496,887.5 L499,886.2 L502,884.8 L505,883.3 L508,881.8 L511,880.1 L514,878.4 L517,876.6 L520,874.7 L523,872.7 L526,870.6 L529,868.5 L532,866.3 L535,864.0 L538,861.7 L541,859.4 L544,857.0 L547,854.6 L550,852.2 L553,849.8 L556,847.4 L559,845.0 L562,842.7 L565,840.4 L568,838.1 L571,836.0 L574,833.9 L577,832.0 L580,830.1 L583,828.4 L586,826.8 L589,825.4 L592,824.2 L595,823.1 L598,822.2 L601,821.5 L604,821.0 L607,820.7 L610,820.6 L613,820.7 L616,821.0 L619,821.5 L622,822.2 L625,823.2 L628,824.3 L631,825.6 L634,827.1 L637,828.8 L640,830.6 L643,832.6 L646,834.7 L649,837.0 L652,839.4 L655,841.9 L658,844.4 L661,847.1 L664,849.8 L667,852.6 L670,855.4 L673,858.2 L676,861.0 L679,863.8 L682,866.6 L685,869.4 L688,872.2 L691,874.9 L694,877.5 L697,880.1 L700,882.6 L703,885.1 L706,887.4 L709,889.7 L712,891.9 L715,894.0 L718,896.1 L721,898.0 L724,899.8 L727,901.6 L730,903.3 L733,904.9 L736,906.4 L739,907.8 L742,909.2 L745,910.5 L748,911.7 L751,912.8 L754,913.9 L757,914.9 L760,915.9 L763,916.9 L766,917.7 L769,918.6 L772,919.4 L775,920.1 L778,920.9 L781,921.6 L784,922.3 L787,922.9 L790,923.6 L793,924.2 L796,924.8 L799,925.4 L802,926.0 L805,926.6 L808,927.2 L811,927.7 L814,928.2 L817,928.8 L820,929.2 L823,929.7 L826,930.2 L829,930.6 L832,930.9 L835,931.3 L838,931.6 L841,931.9 L844,932.2 L847,932.4 L850,932.6 L853,932.8 L856,933.0 L859,933.1 L862,933.2 L865,933.3 L868,933.4 L871,933.5 L874,933.6 L877,933.6 L880,933.7 L883,933.7 L886,933.8 L889,933.8 L892,933.9 L895,933.9 L898,933.9 L901,934.0 L904,934.0 L907,934.0 L910,934.1 L913,934.1 L916,934.1 L919,934.2 L922,934.2 L925,934.2 L928,934.3 L931,934.3 L934,934.3 L937,934.4 L940,934.4 L943,934.4 L946,934.5 L949,934.5 L952,934.6 L955,934.6 L958,934.6 L961,934.7 L964,934.7 L967,934.7 L970,934.8 L973,934.8 L976,934.9 L979,934.9 L982,935.0 L985,935.0 L988,935.1 L991,935.1 L994,935.2 L997,935.2 L1000,935.3 L1003,935.4 L1006,935.4 L1009,935.5 L1012,935.6 L1015,935.7 L1018,935.8 L1021,935.8 L1024,935.9 L1027,936.0 L1030,936.2 L1033,936.3 L1036,936.4 L1039,936.5 L1042,936.7 L1045,936.8 L1048,937.0 L1051,937.1 L1054,937.3 L1057,937.5 L1060,937.7 L1063,937.9 L1066,938.2 L1069,938.4 L1072,938.7 L1075,938.9 L1078,939.2 L1081,939.5 L1084,939.8 L1087,940.2 L1090,940.5 L1093,940.8 L1096,941.2 L1099,941.6 L1102,942.0 L1105,942.4 L1108,942.8 L1111,943.3 L1114,943.7 L1117,944.2 L1120,944.6 L1123,945.1 L1126,945.6 L1129,946.1 L1132,946.5 L1135,947.0 L1138,947.5 L1141,948.0 L1144,948.5 L1147,948.9 L1150,949.4 L1153,949.9 L1156,950.3 L1159,950.8 L1162,951.2 L1165,951.6 L1168,952.0 L1171,952.5 L1174,952.9 L1177,953.2 L1180,953.6 L1183,954.0 L1186,954.4 L1189,954.7 L1192,955.1 L1195,955.4 L1198,955.7 L1201,956.1 L1204,956.4 L1207,956.7 L1210,957.1 L1213,957.4 L1216,957.7 L1219,958.1 L1222,958.4 L1225,958.8 L1228,959.2 L1231,959.6 L1234,960.0 L1237,960.4 L1240,960.8 L1243,961.3 L1246,961.8 L1249,962.4 L1252,962.9 L1255,963.5 L1258,964.2 L1261,964.9 L1264,965.6 L1267,966.4 L1270,967.2 L1273,968.0 L1276,968.8 L1279,969.7 L1282,970.6 L1285,971.6 L1288,972.5 L1291,973.5 L1294,974.5 L1297,975.6 L1300,976.6 L1303,977.7 L1306,978.8 L1309,979.9 L1312,981.0 L1315,982.1 L1318,983.2 L1321,984.2 L1324,985.2 L1327,986.2 L1330,987.1 L1333,987.9 L1336,988.7 L1339,989.4 L1342,990.1 L1345,990.7 L1348,991.2 L1351,991.7 L1354,992.1 L1357,992.5 L1360,992.8 L1363,993.1 L1366,993.3 L1369,993.6 L1372,993.8 L1375,993.9 L1378,994.1 L1381,994.2 L1384,994.4 L1387,994.5 L1390,994.6 L1393,994.7 L1396,994.8 L1399,994.9 L1402,995.0 L1405,995.1 L1408,995.2 L1411,995.2 L1414,995.3 L1417,995.4 L1420,995.4 L1423,995.5 L1426,995.6 L1429,995.6 L1432,995.7 L1435,995.7 L1438,995.8 L1441,995.8 L1444,995.9 L1447,995.9 L1450,996.0 L1453,996.0 L1456,996.1 L1459,996.1 L1462,996.1 L1465,996.2 L1468,996.2 L1471,996.2 L1474,996.3 L1477,996.3 L1480,996.3 L1483,996.4 L1486,996.4 L1489,996.4 L1492,996.5 L1495,996.5 L1498,996.5 L1501,996.6 L1504,996.6 L1507,996.6 L1510,996.6 L1513,996.7 L1516,996.7 L1519,996.7 L1522,996.7 L1525,996.8 L1528,996.8 L1531,996.8 L1534,996.8 L1537,996.8 L1540,996.9 L1543,996.9 L1546,996.9 L1549,996.9 L1552,996.9 L1555,997.0 L1558,997.0 L1561,997.0 L1564,997.0 L1567,997.0 L1570,997.0 L1573,997.1 L1576,997.1 L1579,997.1 L1582,997.1 L1585,997.1 L1588,997.1 L1591,997.1 L1594,997.2 L1597,997.2 L1600,997.2 L1601,997.2" fill="none" stroke="#008000" stroke-width="6" stroke-linejoin="round" stroke-linecap="round"/>
<path d="M409,900.8 L412,900.8 L415,900.8 L418,900.8 L421,900.8 L424,900.8 L427,900.8 L430,900.8 L433,900.8 L436,900.8 L439,900.8 L442,900.9 L445,900.9 L448,900.9 L451,900.9 L454,900.9 L457,900.9 L460,900.9 L463,900.9 L466,901.0 L469,901.0 L472,901.0 L475,901.0 L478,901.0 L481,901.1 L484,901.1 L487,901.1 L490,901.2 L493,901.2 L496,901.3 L499,901.3 L502,901.4 L505,901.4 L508,901.5 L511,901.6 L514,901.7 L517,901.7 L520,901.8 L523,901.9 L526,902.0 L529,902.2 L532,902.3 L535,902.4 L538,902.5 L541,902.7 L544,902.8 L547,903.0 L550,903.2 L553,903.3 L556,903.5 L559,903.7 L562,903.9 L565,904.1 L568,904.4 L571,904.6 L574,904.8 L577,905.1 L580,905.3 L583,905.6 L586,905.9 L589,906.1 L592,906.4 L595,906.7 L598,907.0 L601,907.3 L604,907.6 L607,907.9 L610,908.2 L613,908.5 L616,908.8 L619,909.1 L622,909.4 L625,909.7 L628,910.0 L631,910.3 L634,910.6 L637,910.9 L640,911.2 L643,911.5 L646,911.7 L649,912.0 L652,912.3 L655,912.5 L658,912.8 L661,913.1 L664,913.3 L667,913.5 L670,913.8 L673,914.0 L676,914.2 L679,914.4 L682,914.6 L685,914.8 L688,915.0 L691,915.2 L694,915.4 L697,915.6 L700,915.8 L703,915.9 L706,916.1 L709,916.3 L712,916.5 L715,916.7 L718,916.9 L721,917.1 L724,917.2 L727,917.4 L730,917.6 L733,917.9 L736,918.1 L739,918.3 L742,918.5 L745,918.8 L748,919.0 L751,919.3 L754,919.5 L757,919.8 L760,920.1 L763,920.4 L766,920.7 L769,921.0 L772,921.3 L775,921.6 L778,922.0 L781,922.3 L784,922.7 L787,923.1 L790,923.4 L793,923.8 L796,924.2 L799,924.6 L802,925.1 L805,925.5 L808,925.9 L811,926.3 L814,926.7 L817,927.1 L820,927.5 L823,927.9 L826,928.3 L829,928.6 L832,928.9 L835,929.2 L838,929.4 L841,929.7 L844,929.9 L847,930.0 L850,930.2 L853,930.3 L856,930.4 L859,930.5 L862,930.5 L865,930.6 L868,930.6 L871,930.6 L874,930.6 L877,930.6 L880,930.6 L883,930.5 L886,930.5 L889,930.5 L892,930.4 L895,930.4 L898,930.3 L901,930.3 L904,930.2 L907,930.2 L910,930.1 L913,930.0 L916,930.0 L919,929.9 L922,929.8 L925,929.7 L928,929.6 L931,929.5 L934,929.4 L937,929.2 L940,929.1 L943,929.0 L946,928.8 L949,928.6 L952,928.4 L955,928.2 L958,928.0 L961,927.8 L964,927.5 L967,927.2 L970,926.9 L973,926.6 L976,926.2 L979,925.8 L982,925.3 L985,924.8 L988,924.2 L991,923.6 L994,922.9 L997,922.2 L1000,921.4 L1003,920.5 L1006,919.5 L1009,918.4 L1012,917.3 L1015,916.0 L1018,914.6 L1021,913.1 L1024,911.5 L1027,909.8 L1030,907.9 L1033,905.9 L1036,903.7 L1039,901.5 L1042,899.0 L1045,896.5 L1048,893.7 L1051,890.9 L1054,887.9 L1057,884.7 L1060,881.5 L1063,878.1 L1066,874.6 L1069,871.0 L1072,867.3 L1075,863.5 L1078,859.7 L1081,855.9 L1084,852.0 L1087,848.2 L1090,844.4 L1093,840.7 L1096,837.1 L1099,833.6 L1102,830.3 L1105,827.2 L1108,824.4 L1111,821.9 L1114,819.7 L1117,817.9 L1120,816.5 L1123,815.6 L1126,815.1 L1129,815.1 L1132,815.6 L1135,816.6 L1138,818.0 L1141,819.9 L1144,822.2 L1147,825.0 L1150,828.0 L1153,831.4 L1156,835.1 L1159,839.1 L1162,843.2 L1165,847.5 L1168,851.9 L1171,856.4 L1174,860.9 L1177,865.4 L1180,870.0 L1183,874.5 L1186,879.0 L1189,883.3 L1192,887.6 L1195,891.8 L1198,895.9 L1201,899.8 L1204,903.6 L1207,907.3 L1210,910.8 L1213,914.1 L1216,917.4 L1219,920.4 L1222,923.4 L1225,926.1 L1228,928.8 L1231,931.3 L1234,933.7 L1237,936.0 L1240,938.1 L1243,940.2 L1246,942.2 L1249,944.1 L1252,945.9 L1255,947.6 L1258,949.3 L1261,951.0 L1264,952.6 L1267,954.1 L1270,955.6 L1273,957.1 L1276,958.6 L1279,960.1 L1282,961.5 L1285,962.9 L1288,964.3 L1291,965.7 L1294,967.0 L1297,968.4 L1300,969.7 L1303,971.1 L1306,972.4 L1309,973.8 L1312,975.1 L1315,976.4 L1318,977.7 L1321,978.9 L1324,980.1 L1327,981.2 L1330,982.3 L1333,983.3 L1336,984.2 L1339,985.0 L1342,985.8 L1345,986.5 L1348,987.1 L1351,987.7 L1354,988.2 L1357,988.7 L1360,989.1 L1363,989.5 L1366,989.8 L1369,990.1 L1372,990.4 L1375,990.7 L1378,990.9 L1381,991.1 L1384,991.3 L1387,991.5 L1390,991.7 L1393,991.9 L1396,992.0 L1399,992.2 L1402,992.3 L1405,992.5 L1408,992.6 L1411,992.7 L1414,992.8 L1417,993.0 L1420,993.1 L1423,993.2 L1426,993.3 L1429,993.4 L1432,993.5 L1435,993.6 L1438,993.7 L1441,993.8 L1444,993.8 L1447,993.9 L1450,994.0 L1453,994.1 L1456,994.2 L1459,994.2 L1462,994.3 L1465,994.4 L1468,994.4 L1471,994.5 L1474,994.6 L1477,994.6 L1480,994.7 L1483,994.8 L1486,994.8 L1489,994.9 L1492,994.9 L1495,995.0 L1498,995.0 L1501,995.1 L1504,995.1 L1507,995.2 L1510,995.2 L1513,995.3 L1516,995.3 L1519,995.4 L1522,995.4 L1525,995.4 L1528,995.5 L1531,995.5 L1534,995.6 L1537,995.6 L1540,995.6 L1543,995.7 L1546,995.7 L1549,995.8 L1552,995.8 L1555,995.8 L1558,995.9 L1561,995.9 L1564,995.9 L1567,996.0 L1570,996.0 L1573,996.0 L1576,996.0 L1579,996.1 L1582,996.1 L1585,996.1 L1588,996.2 L1591,996.2 L1594,996.2 L1597,996.2 L1600,996.3 L1601,996.3" fill="none" stroke="#008000" stroke-width="6" stroke-linejoin="round" stroke-linecap="round"/>
<path d="M409,901.2 L412,901.2 L415,901.2 L418,901.2 L421,901.2 L424,901.2 L427,901.2 L430,901.2 L433,901.3 L436,901.3 L439,901.3 L442,901.3 L445,901.3 L448,901.3 L451,901.3 L454,901.3 L457,901.4 L460,901.4 L463,901.4 L466,901.4 L469,901.4 L472,901.5 L475,901.5 L478,901.5 L481,901.6 L484,901.6 L487,901.6 L490,901.7 L493,901.7 L496,901.8 L499,901.8 L502,901.9 L505,902.0 L508,902.0 L511,902.1 L514,902.2 L517,902.3 L520,902.4 L523,902.5 L526,902.6 L529,902.7 L532,902.8 L535,903.0 L538,903.1 L541,903.3 L544,903.4 L547,903.6 L550,903.8 L553,904.0 L556,904.2 L559,904.4 L562,904.6 L565,904.8 L568,905.0 L571,905.3 L574,905.5 L577,905.8 L580,906.0 L583,906.3 L586,906.6 L589,906.8 L592,907.1 L595,907.4 L598,907.7 L601,908.0 L604,908.3 L607,908.6 L610,908.9 L613,909.3 L616,909.6 L619,909.9 L622,910.2 L625,910.5 L628,910.8 L631,911.1 L634,911.4 L637,911.7 L640,912.0 L643,912.3 L646,912.6 L649,912.9 L652,913.2 L655,913.5 L658,913.7 L661,914.0 L664,914.2 L667,914.5 L670,914.7 L673,915.0 L676,915.2 L679,915.4 L682,915.6 L685,915.8 L688,916.1 L691,916.3 L694,916.5 L697,916.7 L700,916.9 L703,917.1 L706,917.3 L709,917.5 L712,917.7 L715,917.9 L718,918.1 L721,918.3 L724,918.5 L727,918.7 L730,918.9 L733,919.1 L736,919.4 L739,919.6 L742,919.9 L745,920.1 L748,920.4 L751,920.7 L754,921.0 L757,921.3 L760,921.6 L763,921.9 L766,922.2 L769,922.5 L772,922.9 L775,923.2 L778,923.6 L781,924.0 L784,924.4 L787,924.8 L790,925.2 L793,925.6 L796,926.0 L799,926.5 L802,926.9 L805,927.4 L808,927.8 L811,928.3 L814,928.7 L817,929.2 L820,929.6 L823,930.0 L826,930.4 L829,930.8 L832,931.1 L835,931.5 L838,931.8 L841,932.0 L844,932.3 L847,932.5 L850,932.7 L853,932.9 L856,933.0 L859,933.1 L862,933.2 L865,933.3 L868,933.4 L871,933.5 L874,933.6 L877,933.6 L880,933.7 L883,933.7 L886,933.8 L889,933.8 L892,933.9 L895,933.9 L898,933.9 L901,934.0 L904,934.0 L907,934.0 L910,934.1 L913,934.1 L916,934.1 L919,934.2 L922,934.2 L925,934.2 L928,934.3 L931,934.3 L934,934.3 L937,934.4 L940,934.4 L943,934.4 L946,934.5 L949,934.5 L952,934.6 L955,934.6 L958,934.6 L961,934.7 L964,934.7 L967,934.7 L970,934.8 L973,934.8 L976,934.9 L979,934.9 L982,935.0 L985,935.0 L988,935.1 L991,935.1 L994,935.2 L997,935.2 L1000,935.3 L1003,935.4 L1006,935.4 L1009,935.5 L1012,935.6 L1015,935.7 L1018,935.8 L1021,935.8 L1024,935.9 L1027,936.0 L1030,936.2 L1033,936.3 L1036,936.4 L1039,936.5 L1042,936.7 L1045,936.8 L1048,937.0 L1051,937.1 L1054,937.3 L1057,937.5 L1060,937.7 L1063,937.9 L1066,938.2 L1069,938.4 L1072,938.7 L1075,938.9 L1078,939.2 L1081,939.5 L1084,939.8 L1087,940.2 L1090,940.5 L1093,940.8 L1096,941.2 L1099,941.6 L1102,942.0 L1105,942.4 L1108,942.8 L1111,943.3 L1114,943.7 L1117,944.2 L1120,944.6 L1123,945.1 L1126,945.6 L1129,946.1 L1132,946.5 L1135,947.0 L1138,947.5 L1141,948.0 L1144,948.5 L1147,948.9 L1150,949.4 L1153,949.9 L1156,950.3 L1159,950.8 L1162,951.2 L1165,951.6 L1168,952.0 L1171,952.5 L1174,952.9 L1177,953.2 L1180,953.6 L1183,954.0 L1186,954.4 L1189,954.7 L1192,955.1 L1195,955.4 L1198,955.7 L1201,956.1 L1204,956.4 L1207,956.7 L1210,957.1 L1213,957.4 L1216,957.7 L1219,958.1 L1222,958.4 L1225,958.8 L1228,959.2 L1231,959.6 L1234,960.0 L1237,960.4 L1240,960.8 L1243,961.3 L1246,961.8 L1249,962.4 L1252,962.9 L1255,963.5 L1258,964.2 L1261,964.9 L1264,965.6 L1267,966.4 L1270,967.2 L1273,968.0 L1276,968.8 L1279,969.7 L1282,970.6 L1285,971.6 L1288,972.5 L1291,973.5 L1294,974.5 L1297,975.6 L1300,976.6 L1303,977.7 L1306,978.8 L1309,979.9 L1312,981.0 L1315,982.1 L1318,983.2 L1321,984.2 L1324,985.2 L1327,986.2 L1330,987.1 L1333,987.9 L1336,988.7 L1339,989.4 L1342,990.1 L1345,990.7 L1348,991.2 L1351,991.7 L1354,992.1 L1357,992.5 L1360,992.8 L1363,993.1 L1366,993.3 L1369,993.6 L1372,993.8 L1375,993.9 L1378,994.1 L1381,994.2 L1384,994.4 L1387,994.5 L1390,994.6 L1393,994.7 L1396,994.8 L1399,994.9 L1402,995.0 L1405,995.1 L1408,995.2 L1411,995.2 L1414,995.3 L1417,995.4 L1420,995.4 L1423,995.5 L1426,995.6 L1429,995.6 L1432,995.7 L1435,995.7 L1438,995.8 L1441,995.8 L1444,995.9 L1447,995.9 L1450,996.0 L1453,996.0 L1456,996.1 L1459,996.1 L1462,996.1 L1465,996.2 L1468,996.2 L1471,996.2 L1474,996.3 L1477,996.3 L1480,996.3 L1483,996.4 L1486,996.4 L1489,996.4 L1492,996.5 L1495,996.5 L1498,996.5 L1501,996.6 L1504,996.6 L1507,996.6 L1510,996.6 L1513,996.7 L1516,996.7 L1519,996.7 L1522,996.7 L1525,996.8 L1528,996.8 L1531,996.8 L1534,996.8 L1537,996.8 L1540,996.9 L1543,996.9 L1546,996.9 L1549,996.9 L1552,996.9 L1555,997.0 L1558,997.0 L1561,997.0 L1564,997.0 L1567,997.0 L1570,997.0 L1573,997.1 L1576,997.1 L1579,997.1 L1582,997.1 L1585,997.1 L1588,997.1 L1591,997.1 L1594,997.2 L1597,997.2 L1600,997.2 L1601,997.2" fill="none" stroke="#008000" stroke-width="6" stroke-linejoin="round" stroke-linecap="round"/>
<g fill="none" stroke="#000" stroke-width="1.3">
<circle cx="428.0" cy="1457.5" r="6.3"/>
<circle cx="430.8" cy="1476.7" r="6.3"/>
<circle cx="433.7" cy="1461.2" r="6.3"/>
<circle cx="436.5" cy="1432.5" r="6.3"/>
<circle cx="439.3" cy="1438.2" r="6.3"/>
<circle cx="442.1" cy="1459.2" r="6.3"/>
<circle cx="445.0" cy="1444.5" r="6.3"/>
<circle cx="447.8" cy="1464.3" r="6.3"/>
<circle cx="450.6" cy="1409.9" r="6.3"/>
<circle cx="453.5" cy="1480.7" r="6.3"/>
<circle cx="456.3" cy="1477.0" r="6.3"/>
<circle cx="459.1" cy="1413.0" r="6.3"/>
<circle cx="462.0" cy="1434.2" r="6.3"/>
<circle cx="464.8" cy="1425.7" r="6.3"/>
<circle cx="467.6" cy="1427.6" r="6.3"/>
<circle cx="470.4" cy="1448.6" r="6.3"/>
<circle cx="473.3" cy="1420.4" r="6.3"/>
<circle cx="476.1" cy="1411.7" r="6.3"/>
<circle cx="478.9" cy="1433.5" r="6.3"/>
<circle cx="481.8" cy="1438.7" r="6.3"/>
<circle cx="484.6" cy="1411.5" r="6.3"/>
<circle cx="487.4" cy="1418.2" r="6.3"/>
<circle cx="490.3" cy="1397.5" r="6.3"/>
<circle cx="493.1" cy="1425.6" r="6.3"/>
<circle cx="495.9" cy="1439.3" r="6.3"/>
<circle cx="498.7" cy="1420.1" r="6.3"/>
<circle cx="501.6" cy="1412.7" r="6.3"/>
<circle cx="504.4" cy="1392.4" r="6.3"/>
<circle cx="507.2" cy="1409.5" r="6.3"/>
<circle cx="510.1" cy="1392.8" r="6.3"/>
<circle cx="512.9" cy="1419.0" r="6.3"/>
<circle cx="515.7" cy="1428.6" r="6.3"/>
<circle cx="518.6" cy="1424.8" r="6.3"/>
<circle cx="521.4" cy="1412.0" r="6.3"/>
<circle cx="524.2" cy="1414.9" r="6.3"/>
<circle cx="527.0" cy="1401.5" r="6.3"/>
<circle cx="529.9" cy="1410.9" r="6.3"/>
<circle cx="532.7" cy="1410.2" r="6.3"/>
<circle cx="535.5" cy="1406.5" r="6.3"/>
<circle cx="538.4" cy="1372.5" r="6.3"/>
<circle cx="541.2" cy="1408.2" r="6.3"/>
<circle cx="544.0" cy="1409.8" r="6.3"/>
<circle cx="546.9" cy="1393.0" r="6.3"/>
<circle cx="549.7" cy="1407.6" r="6.3"/>
<circle cx="552.5" cy="1411.7" r="6.3"/>
<circle cx="555.3" cy="1369.4" r="6.3"/>
<circle cx="558.2" cy="1410.6" r="6.3"/>
<circle cx="561.0" cy="1388.8" r="6.3"/>
<circle cx="563.8" cy="1377.6" r="6.3"/>
<circle cx="566.7" cy="1393.5" r="6.3"/>
<circle cx="569.5" cy="1378.5" r="6.3"/>
<circle cx="572.3" cy="1380.2" r="6.3"/>
<circle cx="575.2" cy="1371.1" r="6.3"/>
<circle cx="578.0" cy="1372.8" r="6.3"/>
<circle cx="580.8" cy="1364.1" r="6.3"/>
<circle cx="583.6" cy="1368.5" r="6.3"/>
<circle cx="586.5" cy="1360.4" r="6.3"/>
<circle cx="589.3" cy="1355.7" r="6.3"/>
<circle cx="592.1" cy="1381.8" r="6.3"/>
<circle cx="595.0" cy="1368.7" r="6.3"/>
<circle cx="597.8" cy="1372.8" r="6.3"/>
<circle cx="600.6" cy="1389.9" r="6.3"/>
<circle cx="603.5" cy="1374.8" r="6.3"/>
<circle cx="606.3" cy="1364.3" r="6.3"/>
<circle cx="609.1" cy="1345.8" r="6.3"/>
<circle cx="611.9" cy="1375.6" r="6.3"/>
<circle cx="614.8" cy="1368.1" r="6.3"/>
<circle cx="617.6" cy="1374.8" r="6.3"/>
<circle cx="620.4" cy="1355.3" r="6.3"/>
<circle cx="623.3" cy="1350.8" r="6.3"/>
<circle cx="626.1" cy="1325.8" r="6.3"/>
<circle cx="628.9" cy="1363.0" r="6.3"/>
<circle cx="631.8" cy="1335.2" r="6.3"/>
<circle cx="634.6" cy="1350.1" r="6.3"/>
<circle cx="637.4" cy="1363.7" r="6.3"/>
<circle cx="640.2" cy="1359.0" r="6.3"/>
<circle cx="643.1" cy="1357.7" r="6.3"/>
<circle cx="645.9" cy="1367.3" r="6.3"/>
<circle cx="648.7" cy="1333.1" r="6.3"/>
<circle cx="651.6" cy="1364.7" r="6.3"/>
<circle cx="654.4" cy="1388.8" r="6.3"/>
<circle cx="657.2" cy="1390.3" r="6.3"/>
<circle cx="660.1" cy="1340.3" r="6.3"/>
<circle cx="662.9" cy="1392.3" r="6.3"/>
<circle cx="665.7" cy="1384.8" r="6.3"/>
<circle cx="668.5" cy="1360.5" r="6.3"/>
<circle cx="671.4" cy="1357.4" r="6.3"/>
<circle cx="674.2" cy="1382.8" r="6.3"/>
<circle cx="677.0" cy="1411.8" r="6.3"/>
<circle cx="679.9" cy="1398.7" r="6.3"/>
<circle cx="682.7" cy="1378.7" r="6.3"/>
<circle cx="685.5" cy="1397.3" r="6.3"/>
<circle cx="688.4" cy="1412.3" r="6.3"/>
<circle cx="691.2" cy="1396.3" r="6.3"/>
<circle cx="694.0" cy="1391.3" r="6.3"/>
<circle cx="696.8" cy="1403.9" r="6.3"/>
<circle cx="699.7" cy="1369.5" r="6.3"/>
<circle cx="702.5" cy="1402.7" r="6.3"/>
<circle cx="705.3" cy="1378.7" r="6.3"/>
<circle cx="708.2" cy="1394.3" r="6.3"/>
<circle cx="711.0" cy="1399.9" r="6.3"/>
<circle cx="713.8" cy="1395.1" r="6.3"/>
<circle cx="716.7" cy="1388.2" r="6.3"/>
<circle cx="719.5" cy="1394.2" r="6.3"/>
<circle cx="722.3" cy="1412.8" r="6.3"/>
<circle cx="725.1" cy="1380.9" r="6.3"/>
<circle cx="728.0" cy="1388.1" r="6.3"/>
<circle cx="730.8" cy="1407.8" r="6.3"/>
<circle cx="733.6" cy="1415.1" r="6.3"/>
<circle cx="736.5" cy="1400.1" r="6.3"/>
<circle cx="739.3" cy="1390.1" r="6.3"/>
<circle cx="742.1" cy="1408.0" r="6.3"/>
<circle cx="745.0" cy="1388.7" r="6.3"/>
<circle cx="747.8" cy="1424.8" r="6.3"/>
<circle cx="750.6" cy="1411.2" r="6.3"/>
<circle cx="753.4" cy="1417.3" r="6.3"/>
<circle cx="756.3" cy="1371.9" r="6.3"/>
<circle cx="759.1" cy="1377.1" r="6.3"/>
<circle cx="761.9" cy="1378.3" r="6.3"/>
<circle cx="764.8" cy="1362.4" r="6.3"/>
<circle cx="767.6" cy="1371.4" r="6.3"/>
<circle cx="770.4" cy="1392.0" r="6.3"/>
<circle cx="773.3" cy="1362.2" r="6.3"/>
<circle cx="776.1" cy="1372.2" r="6.3"/>
<circle cx="778.9" cy="1399.0" r="6.3"/>
<circle cx="781.7" cy="1380.6" r="6.3"/>
<circle cx="784.6" cy="1383.3" r="6.3"/>
<circle cx="787.4" cy="1375.2" r="6.3"/>
<circle cx="790.2" cy="1364.1" r="6.3"/>
<circle cx="793.1" cy="1366.9" r="6.3"/>
<circle cx="795.9" cy="1375.1" r="6.3"/>
<circle cx="798.7" cy="1358.7" r="6.3"/>
<circle cx="801.6" cy="1365.8" r="6.3"/>
<circle cx="804.4" cy="1353.4" r="6.3"/>
<circle cx="807.2" cy="1354.6" r="6.3"/>
<circle cx="810.0" cy="1377.3" r="6.3"/>
<circle cx="812.9" cy="1355.4" r="6.3"/>
<circle cx="815.7" cy="1316.2" r="6.3"/>
<circle cx="818.5" cy="1329.8" r="6.3"/>
<circle cx="821.4" cy="1360.7" r="6.3"/>
<circle cx="824.2" cy="1357.2" r="6.3"/>
<circle cx="827.0" cy="1302.1" r="6.3"/>
<circle cx="829.9" cy="1332.1" r="6.3"/>
<circle cx="832.7" cy="1327.8" r="6.3"/>
<circle cx="835.5" cy="1287.0" r="6.3"/>
<circle cx="838.3" cy="1346.3" r="6.3"/>
<circle cx="841.2" cy="1385.0" r="6.3"/>
<circle cx="844.0" cy="1343.9" r="6.3"/>
<circle cx="846.8" cy="1360.2" r="6.3"/>
<circle cx="849.7" cy="1391.1" r="6.3"/>
<circle cx="852.5" cy="1374.6" r="6.3"/>
<circle cx="855.3" cy="1382.2" r="6.3"/>
<circle cx="858.2" cy="1401.3" r="6.3"/>
<circle cx="861.0" cy="1378.1" r="6.3"/>
<circle cx="863.8" cy="1415.5" r="6.3"/>
<circle cx="866.6" cy="1392.3" r="6.3"/>
<circle cx="869.5" cy="1422.9" r="6.3"/>
<circle cx="872.3" cy="1442.7" r="6.3"/>
<circle cx="875.1" cy="1462.8" r="6.3"/>
<circle cx="878.0" cy="1429.3" r="6.3"/>
<circle cx="880.8" cy="1451.1" r="6.3"/>
<circle cx="883.6" cy="1456.4" r="6.3"/>
<circle cx="886.5" cy="1428.5" r="6.3"/>
<circle cx="889.3" cy="1460.2" r="6.3"/>
<circle cx="892.1" cy="1469.7" r="6.3"/>
<circle cx="894.9" cy="1478.8" r="6.3"/>
<circle cx="897.8" cy="1505.0" r="6.3"/>
<circle cx="900.6" cy="1479.1" r="6.3"/>
<circle cx="903.4" cy="1476.8" r="6.3"/>
<circle cx="906.3" cy="1476.7" r="6.3"/>
<circle cx="909.1" cy="1478.0" r="6.3"/>
<circle cx="911.9" cy="1486.2" r="6.3"/>
<circle cx="914.8" cy="1504.1" r="6.3"/>
<circle cx="917.6" cy="1461.4" r="6.3"/>
<circle cx="920.4" cy="1479.0" r="6.3"/>
<circle cx="923.2" cy="1438.7" r="6.3"/>
<circle cx="926.1" cy="1450.4" r="6.3"/>
<circle cx="928.9" cy="1481.1" r="6.3"/>
<circle cx="931.7" cy="1442.1" r="6.3"/>
<circle cx="934.6" cy="1483.9" r="6.3"/>
<circle cx="937.4" cy="1500.5" r="6.3"/>
<circle cx="940.2" cy="1462.7" r="6.3"/>
<circle cx="943.1" cy="1463.3" r="6.3"/>
<circle cx="945.9" cy="1473.8" r="6.3"/>
<circle cx="948.7" cy="1462.8" r="6.3"/>
<circle cx="951.5" cy="1468.6" r="6.3"/>
<circle cx="954.4" cy="1455.9" r="6.3"/>
<circle cx="957.2" cy="1479.4" r="6.3"/>
<circle cx="960.0" cy="1468.2" r="6.3"/>
<circle cx="962.9" cy="1460.1" r="6.3"/>
<circle cx="965.7" cy="1424.1" r="6.3"/>
<circle cx="968.5" cy="1446.1" r="6.3"/>
<circle cx="971.4" cy="1455.3" r="6.3"/>
<circle cx="974.2" cy="1462.9" r="6.3"/>
<circle cx="977.0" cy="1440.7" r="6.3"/>
<circle cx="979.8" cy="1456.8" r="6.3"/>
<circle cx="982.7" cy="1458.9" r="6.3"/>
<circle cx="985.5" cy="1437.5" r="6.3"/>
<circle cx="988.3" cy="1454.4" r="6.3"/>
<circle cx="991.2" cy="1441.0" r="6.3"/>
<circle cx="994.0" cy="1427.9" r="6.3"/>
<circle cx="996.8" cy="1440.4" r="6.3"/>
<circle cx="999.7" cy="1455.8" r="6.3"/>
<circle cx="1002.5" cy="1443.1" r="6.3"/>
<circle cx="1005.3" cy="1437.3" r="6.3"/>
<circle cx="1008.1" cy="1445.4" r="6.3"/>
<circle cx="1011.0" cy="1442.4" r="6.3"/>
<circle cx="1013.8" cy="1435.2" r="6.3"/>
<circle cx="1016.6" cy="1412.2" r="6.3"/>
<circle cx="1019.5" cy="1404.2" r="6.3"/>
<circle cx="1022.3" cy="1412.2" r="6.3"/>
<circle cx="1025.1" cy="1446.0" r="6.3"/>
<circle cx="1028.0" cy="1434.9" r="6.3"/>
<circle cx="1030.8" cy="1408.7" r="6.3"/>
<circle cx="1033.6" cy="1434.3" r="6.3"/>
<circle cx="1036.4" cy="1407.4" r="6.3"/>
<circle cx="1039.3" cy="1425.3" r="6.3"/>
<circle cx="1042.1" cy="1433.3" r="6.3"/>
<circle cx="1044.9" cy="1419.0" r="6.3"/>
<circle cx="1047.8" cy="1429.6" r="6.3"/>
<circle cx="1050.6" cy="1429.5" r="6.3"/>
<circle cx="1053.4" cy="1394.0" r="6.3"/>
<circle cx="1056.3" cy="1414.3" r="6.3"/>
<circle cx="1059.1" cy="1420.8" r="6.3"/>
<circle cx="1061.9" cy="1405.5" r="6.3"/>
<circle cx="1064.7" cy="1391.8" r="6.3"/>
<circle cx="1067.6" cy="1429.1" r="6.3"/>
<circle cx="1070.4" cy="1409.4" r="6.3"/>
<circle cx="1073.2" cy="1394.7" r="6.3"/>
<circle cx="1076.1" cy="1387.4" r="6.3"/>
<circle cx="1078.9" cy="1395.8" r="6.3"/>
<circle cx="1081.7" cy="1409.1" r="6.3"/>
<circle cx="1084.6" cy="1382.9" r="6.3"/>
<circle cx="1087.4" cy="1392.4" r="6.3"/>
<circle cx="1090.2" cy="1385.6" r="6.3"/>
<circle cx="1093.0" cy="1374.5" r="6.3"/>
<circle cx="1095.9" cy="1374.1" r="6.3"/>
<circle cx="1098.7" cy="1373.4" r="6.3"/>
<circle cx="1101.5" cy="1357.8" r="6.3"/>
<circle cx="1104.4" cy="1348.7" r="6.3"/>
<circle cx="1107.2" cy="1376.5" r="6.3"/>
<circle cx="1110.0" cy="1385.1" r="6.3"/>
<circle cx="1112.9" cy="1370.0" r="6.3"/>
<circle cx="1115.7" cy="1345.6" r="6.3"/>
<circle cx="1118.5" cy="1355.9" r="6.3"/>
<circle cx="1121.3" cy="1343.8" r="6.3"/>
<circle cx="1124.2" cy="1326.8" r="6.3"/>
<circle cx="1127.0" cy="1328.5" r="6.3"/>
<circle cx="1129.8" cy="1331.2" r="6.3"/>
<circle cx="1132.7" cy="1344.3" r="6.3"/>
<circle cx="1135.5" cy="1314.7" r="6.3"/>
<circle cx="1138.3" cy="1346.1" r="6.3"/>
<circle cx="1141.2" cy="1327.0" r="6.3"/>
<circle cx="1144.0" cy="1342.6" r="6.3"/>
<circle cx="1146.8" cy="1338.9" r="6.3"/>
<circle cx="1149.6" cy="1327.8" r="6.3"/>
<circle cx="1152.5" cy="1328.3" r="6.3"/>
<circle cx="1155.3" cy="1333.5" r="6.3"/>
<circle cx="1158.1" cy="1335.7" r="6.3"/>
<circle cx="1161.0" cy="1345.3" r="6.3"/>
<circle cx="1163.8" cy="1367.1" r="6.3"/>
<circle cx="1166.6" cy="1352.8" r="6.3"/>
<circle cx="1169.5" cy="1373.7" r="6.3"/>
<circle cx="1172.3" cy="1368.4" r="6.3"/>
<circle cx="1175.1" cy="1350.3" r="6.3"/>
<circle cx="1177.9" cy="1370.9" r="6.3"/>
<circle cx="1180.8" cy="1378.6" r="6.3"/>
<circle cx="1183.6" cy="1388.0" r="6.3"/>
<circle cx="1186.4" cy="1367.3" r="6.3"/>
<circle cx="1189.3" cy="1398.2" r="6.3"/>
<circle cx="1192.1" cy="1370.8" r="6.3"/>
<circle cx="1194.9" cy="1381.1" r="6.3"/>
<circle cx="1197.8" cy="1396.6" r="6.3"/>
<circle cx="1200.6" cy="1390.8" r="6.3"/>
<circle cx="1203.4" cy="1378.2" r="6.3"/>
<circle cx="1206.2" cy="1374.8" r="6.3"/>
<circle cx="1209.1" cy="1385.9" r="6.3"/>
<circle cx="1211.9" cy="1384.9" r="6.3"/>
<circle cx="1214.7" cy="1414.1" r="6.3"/>
<circle cx="1217.6" cy="1382.0" r="6.3"/>
<circle cx="1220.4" cy="1377.3" r="6.3"/>
<circle cx="1223.2" cy="1418.1" r="6.3"/>
<circle cx="1226.1" cy="1371.2" r="6.3"/>
<circle cx="1228.9" cy="1382.4" r="6.3"/>
<circle cx="1231.7" cy="1394.5" r="6.3"/>
<circle cx="1234.5" cy="1385.4" r="6.3"/>
<circle cx="1237.4" cy="1386.3" r="6.3"/>
<circle cx="1240.2" cy="1401.0" r="6.3"/>
<circle cx="1243.0" cy="1409.4" r="6.3"/>
<circle cx="1245.9" cy="1371.4" r="6.3"/>
<circle cx="1248.7" cy="1368.7" r="6.3"/>
<circle cx="1251.5" cy="1352.2" r="6.3"/>
<circle cx="1254.4" cy="1342.1" r="6.3"/>
<circle cx="1257.2" cy="1336.3" r="6.3"/>
<circle cx="1260.0" cy="1339.0" r="6.3"/>
<circle cx="1262.8" cy="1319.4" r="6.3"/>
<circle cx="1265.7" cy="1323.3" r="6.3"/>
<circle cx="1268.5" cy="1302.8" r="6.3"/>
<circle cx="1271.3" cy="1284.7" r="6.3"/>
<circle cx="1274.2" cy="1288.7" r="6.3"/>
<circle cx="1277.0" cy="1283.1" r="6.3"/>
<circle cx="1279.8" cy="1273.5" r="6.3"/>
<circle cx="1282.7" cy="1269.9" r="6.3"/>
<circle cx="1285.5" cy="1279.7" r="6.3"/>
<circle cx="1288.3" cy="1249.6" r="6.3"/>
<circle cx="1291.1" cy="1276.3" r="6.3"/>
<circle cx="1294.0" cy="1249.4" r="6.3"/>
<circle cx="1296.8" cy="1249.2" r="6.3"/>
<circle cx="1299.6" cy="1260.5" r="6.3"/>
<circle cx="1302.5" cy="1246.8" r="6.3"/>
<circle cx="1305.3" cy="1197.7" r="6.3"/>
<circle cx="1308.1" cy="1216.7" r="6.3"/>
<circle cx="1311.0" cy="1219.1" r="6.3"/>
<circle cx="1313.8" cy="1175.4" r="6.3"/>
<circle cx="1316.6" cy="1172.0" r="6.3"/>
<circle cx="1319.4" cy="1188.9" r="6.3"/>
<circle cx="1322.3" cy="1146.8" r="6.3"/>
<circle cx="1325.1" cy="1187.7" r="6.3"/>
<circle cx="1327.9" cy="1147.2" r="6.3"/>
<circle cx="1330.8" cy="1162.9" r="6.3"/>
<circle cx="1333.6" cy="1176.6" r="6.3"/>
<circle cx="1336.4" cy="1193.3" r="6.3"/>
<circle cx="1339.3" cy="1228.6" r="6.3"/>
<circle cx="1342.1" cy="1243.5" r="6.3"/>
<circle cx="1344.9" cy="1261.0" r="6.3"/>
<circle cx="1347.7" cy="1283.1" r="6.3"/>
<circle cx="1350.6" cy="1276.6" r="6.3"/>
<circle cx="1353.4" cy="1311.6" r="6.3"/>
<circle cx="1356.2" cy="1357.1" r="6.3"/>
<circle cx="1359.1" cy="1339.9" r="6.3"/>
<circle cx="1361.9" cy="1396.6" r="6.3"/>
<circle cx="1364.7" cy="1386.6" r="6.3"/>
<circle cx="1367.6" cy="1386.1" r="6.3"/>
<circle cx="1370.4" cy="1426.6" r="6.3"/>
<circle cx="1373.2" cy="1437.4" r="6.3"/>
<circle cx="1376.0" cy="1424.6" r="6.3"/>
<circle cx="1378.9" cy="1434.8" r="6.3"/>
<circle cx="1381.7" cy="1437.7" r="6.3"/>
<circle cx="1384.5" cy="1448.0" r="6.3"/>
<circle cx="1387.4" cy="1426.7" r="6.3"/>
<circle cx="1390.2" cy="1457.8" r="6.3"/>
<circle cx="1393.0" cy="1493.6" r="6.3"/>
<circle cx="1395.9" cy="1469.1" r="6.3"/>
<circle cx="1398.7" cy="1487.0" r="6.3"/>
<circle cx="1401.5" cy="1497.3" r="6.3"/>
<circle cx="1404.3" cy="1489.8" r="6.3"/>
<circle cx="1407.2" cy="1482.6" r="6.3"/>
<circle cx="1410.0" cy="1484.4" r="6.3"/>
<circle cx="1412.8" cy="1487.0" r="6.3"/>
<circle cx="1415.7" cy="1502.7" r="6.3"/>
<circle cx="1418.5" cy="1494.6" r="6.3"/>
<circle cx="1421.3" cy="1513.5" r="6.3"/>
<circle cx="1424.2" cy="1530.5" r="6.3"/>
<circle cx="1427.0" cy="1514.3" r="6.3"/>
<circle cx="1429.8" cy="1489.2" r="6.3"/>
<circle cx="1432.6" cy="1514.7" r="6.3"/>
<circle cx="1435.5" cy="1507.8" r="6.3"/>
<circle cx="1438.3" cy="1505.4" r="6.3"/>
<circle cx="1441.1" cy="1501.3" r="6.3"/>
<circle cx="1444.0" cy="1508.4" r="6.3"/>
<circle cx="1446.8" cy="1557.7" r="6.3"/>
<circle cx="1449.6" cy="1556.9" r="6.3"/>
<circle cx="1452.5" cy="1538.2" r="6.3"/>
<circle cx="1455.3" cy="1501.2" r="6.3"/>
<circle cx="1458.1" cy="1516.7" r="6.3"/>
<circle cx="1460.9" cy="1529.9" r="6.3"/>
<circle cx="1463.8" cy="1510.4" r="6.3"/>
<circle cx="1466.6" cy="1524.1" r="6.3"/>
<circle cx="1469.4" cy="1531.4" r="6.3"/>
<circle cx="1472.3" cy="1537.9" r="6.3"/>
<circle cx="1475.1" cy="1522.6" r="6.3"/>
<circle cx="1477.9" cy="1521.3" r="6.3"/>
<circle cx="1480.8" cy="1513.5" r="6.3"/>
<circle cx="1483.6" cy="1512.3" r="6.3"/>
<circle cx="1486.4" cy="1519.2" r="6.3"/>
<circle cx="1489.2" cy="1515.8" r="6.3"/>
<circle cx="1492.1" cy="1528.6" r="6.3"/>
<circle cx="1494.9" cy="1522.3" r="6.3"/>
<circle cx="1497.7" cy="1514.8" r="6.3"/>
<circle cx="1500.6" cy="1538.9" r="6.3"/>
<circle cx="1503.4" cy="1513.7" r="6.3"/>
<circle cx="1506.2" cy="1527.0" r="6.3"/>
<circle cx="1509.1" cy="1525.7" r="6.3"/>
<circle cx="1511.9" cy="1510.6" r="6.3"/>
<circle cx="1514.7" cy="1518.8" r="6.3"/>
<circle cx="1517.5" cy="1522.5" r="6.3"/>
<circle cx="1520.4" cy="1511.3" r="6.3"/>
<circle cx="1523.2" cy="1500.9" r="6.3"/>
<circle cx="1526.0" cy="1556.4" r="6.3"/>
<circle cx="1528.9" cy="1510.5" r="6.3"/>
<circle cx="1531.7" cy="1515.1" r="6.3"/>
<circle cx="1534.5" cy="1516.1" r="6.3"/>
<circle cx="1537.4" cy="1519.7" r="6.3"/>
<circle cx="1540.2" cy="1532.0" r="6.3"/>
<circle cx="1543.0" cy="1531.3" r="6.3"/>
<circle cx="1545.8" cy="1511.9" r="6.3"/>
<circle cx="1548.7" cy="1525.3" r="6.3"/>
<circle cx="1551.5" cy="1529.8" r="6.3"/>
<circle cx="1554.3" cy="1517.9" r="6.3"/>
<circle cx="1557.2" cy="1536.3" r="6.3"/>
<circle cx="1560.0" cy="1524.5" r="6.3"/>
<circle cx="1562.8" cy="1533.8" r="6.3"/>
<circle cx="1565.7" cy="1506.7" r="6.3"/>
<circle cx="1568.5" cy="1546.1" r="6.3"/>
<circle cx="1571.3" cy="1519.3" r="6.3"/>
<circle cx="1574.1" cy="1507.9" r="6.3"/>
<circle cx="1577.0" cy="1509.6" r="6.3"/>
<circle cx="1579.8" cy="1511.4" r="6.3"/>
<circle cx="1582.6" cy="1526.9" r="6.3"/>
<circle cx="1585.5" cy="1491.1" r="6.3"/>
<circle cx="1588.3" cy="1509.3" r="6.3"/>
<circle cx="1591.1" cy="1538.3" r="6.3"/>
<circle cx="1594.0" cy="1540.5" r="6.3"/>
<circle cx="1596.8" cy="1508.4" r="6.3"/>
<circle cx="1599.6" cy="1525.7" r="6.3"/>
<circle cx="1602.4" cy="1527.0" r="6.3"/>
<circle cx="1605.3" cy="1520.8" r="6.3"/>
<circle cx="1608.1" cy="1516.3" r="6.3"/>
<circle cx="1610.9" cy="1535.8" r="6.3"/>
<circle cx="1613.8" cy="1520.9" r="6.3"/>
<circle cx="1616.6" cy="1527.6" r="6.3"/>
</g>
<path d="M429.3,1447.1 L432.3,1447.1 L435.3,1447.1 L438.3,1447.1 L441.3,1447.1 L444.3,1447.2 L447.3,1447.2 L450.3,1447.2 L453.3,1447.2 L456.3,1447.2 L459.3,1447.2 L462.3,1447.3 L465.3,1447.3 L468.3,1447.3 L471.3,1447.3 L474.3,1447.3 L477.3,1447.3 L480.3,1447.4 L483.3,1447.4 L486.3,1447.4 L489.3,1447.4 L492.3,1447.4 L495.3,1447.5 L498.3,1447.5 L501.3,1447.5 L504.3,1447.5 L507.3,1447.6 L510.3,1447.6 L513.3,1447.6 L516.3,1447.7 L519.3,1447.7 L522.3,1447.7 L525.3,1447.8 L528.3,1447.8 L531.3,1447.8 L534.3,1447.9 L537.3,1447.9 L540.3,1448.0 L543.3,1448.0 L546.3,1448.1 L549.3,1448.1 L552.3,1448.2 L555.3,1448.2 L558.3,1448.3 L561.3,1448.4 L564.3,1448.4 L567.3,1448.5 L570.3,1448.6 L573.3,1448.7 L576.3,1448.8 L579.3,1448.8 L582.3,1449.0 L585.3,1449.1 L588.3,1449.2 L591.3,1449.3 L594.3,1449.4 L597.3,1449.6 L600.3,1449.7 L603.3,1449.8 L606.3,1450.0 L609.3,1450.2 L612.3,1450.3 L615.3,1450.5 L618.3,1450.7 L621.3,1450.9 L624.3,1451.1 L627.3,1451.3 L630.3,1451.5 L633.3,1451.6 L636.3,1451.8 L639.3,1452.0 L642.3,1452.2 L645.3,1452.4 L648.3,1452.6 L651.3,1452.8 L654.3,1453.0 L657.3,1453.1 L660.3,1453.3 L663.3,1453.4 L666.3,1453.6 L669.3,1453.7 L672.3,1453.9 L675.3,1454.0 L678.3,1454.1 L681.3,1454.2 L684.3,1454.4 L687.3,1454.5 L690.3,1454.6 L693.3,1454.7 L696.3,1454.8 L699.3,1454.9 L702.3,1455.0 L705.3,1455.1 L708.3,1455.2 L711.3,1455.3 L714.3,1455.4 L717.3,1455.5 L720.3,1455.6 L723.3,1455.7 L726.3,1455.8 L729.3,1455.9 L732.3,1456.0 L735.3,1456.1 L738.3,1456.2 L741.3,1456.3 L744.3,1456.4 L747.3,1456.5 L750.3,1456.7 L753.3,1456.8 L756.3,1456.9 L759.3,1457.1 L762.3,1457.2 L765.3,1457.4 L768.3,1457.5 L771.3,1457.7 L774.3,1457.9 L777.3,1458.0 L780.3,1458.2 L783.3,1458.4 L786.3,1458.5 L789.3,1458.7 L792.3,1458.9 L795.3,1459.1 L798.3,1459.2 L801.3,1459.4 L804.3,1459.6 L807.3,1459.8 L810.3,1460.1 L813.3,1460.3 L816.3,1460.5 L819.3,1460.8 L822.3,1461.1 L825.3,1461.4 L828.3,1461.7 L831.3,1462.0 L834.3,1462.2 L837.3,1462.5 L840.3,1462.8 L843.3,1463.0 L846.3,1463.2 L849.3,1463.4 L852.3,1463.6 L855.3,1463.8 L858.3,1463.9 L861.3,1464.0 L864.3,1464.1 L867.3,1464.2 L870.3,1464.3 L873.3,1464.4 L876.3,1464.4 L879.3,1464.5 L882.3,1464.6 L885.3,1464.6 L888.3,1464.7 L891.3,1464.7 L894.3,1464.7 L897.3,1464.8 L900.3,1464.8 L903.3,1464.8 L906.3,1464.9 L909.3,1464.9 L912.3,1464.9 L915.3,1465.0 L918.3,1465.0 L921.3,1465.0 L924.3,1465.1 L927.3,1465.1 L930.3,1465.1 L933.3,1465.2 L936.3,1465.2 L939.3,1465.2 L942.3,1465.2 L945.3,1465.3 L948.3,1465.3 L951.3,1465.3 L954.3,1465.4 L957.3,1465.4 L960.3,1465.4 L963.3,1465.4 L966.3,1465.5 L969.3,1465.5 L972.3,1465.5 L975.3,1465.5 L978.3,1465.6 L981.3,1465.6 L984.3,1465.6 L987.3,1465.7 L990.3,1465.7 L993.3,1465.7 L996.3,1465.7 L999.3,1465.8 L1002.3,1465.8 L1005.3,1465.8 L1008.3,1465.9 L1011.3,1465.9 L1014.3,1465.9 L1017.3,1466.0 L1020.3,1466.0 L1023.3,1466.0 L1026.3,1466.1 L1029.3,1466.1 L1032.3,1466.1 L1035.3,1466.2 L1038.3,1466.2 L1041.3,1466.3 L1044.3,1466.3 L1047.3,1466.4 L1050.3,1466.4 L1053.3,1466.5 L1056.3,1466.5 L1059.3,1466.6 L1062.3,1466.6 L1065.3,1466.7 L1068.3,1466.8 L1071.3,1466.8 L1074.3,1466.9 L1077.3,1467.0 L1080.3,1467.1 L1083.3,1467.2 L1086.3,1467.2 L1089.3,1467.3 L1092.3,1467.4 L1095.3,1467.6 L1098.3,1467.7 L1101.3,1467.8 L1104.3,1468.0 L1107.3,1468.1 L1110.3,1468.3 L1113.3,1468.4 L1116.3,1468.6 L1119.3,1468.8 L1122.3,1469.0 L1125.3,1469.2 L1128.3,1469.5 L1131.3,1469.7 L1134.3,1470.0 L1137.3,1470.2 L1140.3,1470.5 L1143.3,1470.8 L1146.3,1471.1 L1149.3,1471.3 L1152.3,1471.6 L1155.3,1471.9 L1158.3,1472.2 L1161.3,1472.5 L1164.3,1472.8 L1167.3,1473.0 L1170.3,1473.3 L1173.3,1473.5 L1176.3,1473.7 L1179.3,1474.0 L1182.3,1474.2 L1185.3,1474.4 L1188.3,1474.6 L1191.3,1474.7 L1194.3,1474.9 L1197.3,1475.1 L1200.3,1475.2 L1203.3,1475.4 L1206.3,1475.5 L1209.3,1475.7 L1212.3,1475.8 L1215.3,1476.0 L1218.3,1476.1 L1221.3,1476.2 L1224.3,1476.4 L1227.3,1476.5 L1230.3,1476.6 L1233.3,1476.8 L1236.3,1476.9 L1239.3,1477.1 L1242.3,1477.3 L1245.3,1477.4 L1248.3,1477.6 L1251.3,1477.8 L1254.3,1478.0 L1257.3,1478.3 L1260.3,1478.5 L1263.3,1478.8 L1266.3,1479.1 L1269.3,1479.4 L1272.3,1479.8 L1275.3,1480.1 L1278.3,1480.5 L1281.3,1480.9 L1284.3,1481.3 L1287.3,1481.7 L1290.3,1482.1 L1293.3,1482.6 L1296.3,1483.0 L1299.3,1483.5 L1302.3,1484.0 L1305.3,1484.5 L1308.3,1485.0 L1311.3,1485.6 L1314.3,1486.2 L1317.3,1486.8 L1320.3,1487.4 L1323.3,1488.1 L1326.3,1488.7 L1329.3,1489.4 L1332.3,1490.0 L1335.3,1490.6 L1338.3,1491.2 L1341.3,1491.7 L1344.3,1492.3 L1347.3,1492.7 L1350.3,1493.1 L1353.3,1493.5 L1356.3,1493.8 L1359.3,1494.1 L1362.3,1494.4 L1365.3,1494.6 L1368.3,1494.8 L1371.3,1495.0 L1374.3,1495.1 L1377.3,1495.2 L1380.3,1495.4 L1383.3,1495.4 L1386.3,1495.5 L1389.3,1495.6 L1392.3,1495.7 L1395.3,1495.7 L1398.3,1495.8 L1401.3,1495.9 L1404.3,1495.9 L1407.3,1496.0 L1410.3,1496.0 L1413.3,1496.0 L1416.3,1496.1 L1419.3,1496.1 L1422.3,1496.1 L1425.3,1496.2 L1428.3,1496.2 L1431.3,1496.2 L1434.3,1496.3 L1437.3,1496.3 L1440.3,1496.3 L1443.3,1496.4 L1446.3,1496.4 L1449.3,1496.4 L1452.3,1496.4 L1455.3,1496.5 L1458.3,1496.5 L1461.3,1496.5 L1464.3,1496.5 L1467.3,1496.5 L1470.3,1496.6 L1473.3,1496.6 L1476.3,1496.6 L1479.3,1496.6 L1482.3,1496.6 L1485.3,1496.6 L1488.3,1496.7 L1491.3,1496.7 L1494.3,1496.7 L1497.3,1496.7 L1500.3,1496.7 L1503.3,1496.7 L1506.3,1496.7 L1509.3,1496.8 L1512.3,1496.8 L1515.3,1496.8 L1518.3,1496.8 L1521.3,1496.8 L1524.3,1496.8 L1527.3,1496.8 L1530.3,1496.8 L1533.3,1496.9 L1536.3,1496.9 L1539.3,1496.9 L1542.3,1496.9 L1545.3,1496.9 L1548.3,1496.9 L1551.3,1496.9 L1554.3,1496.9 L1557.3,1496.9 L1560.3,1496.9 L1563.3,1497.0 L1566.3,1497.0 L1569.3,1497.0 L1572.3,1497.0 L1575.3,1497.0 L1578.3,1497.0 L1581.3,1497.0 L1584.3,1497.0 L1587.3,1497.0 L1590.3,1497.0 L1593.3,1497.0 L1596.3,1497.0 L1599.3,1497.1 L1602.3,1497.1 L1605.3,1497.1 L1608.3,1497.1 L1611.3,1497.1 L1614.3,1497.1 L1617.3,1497.1 L1620.3,1497.1" fill="none" stroke="#ff00ff" stroke-width="6" stroke-linejoin="round" stroke-linecap="round"/>
<path d="M429.3,1447.1 L432.3,1447.1 L435.3,1447.1 L438.3,1447.1 L441.3,1447.1 L444.3,1447.2 L447.3,1447.2 L450.3,1447.2 L453.3,1447.2 L456.3,1447.2 L459.3,1447.2 L462.3,1447.3 L465.3,1447.3 L468.3,1447.3 L471.3,1447.3 L474.3,1447.3 L477.3,1447.3 L480.3,1447.4 L483.3,1447.4 L486.3,1447.4 L489.3,1447.4 L492.3,1447.4 L495.3,1447.5 L498.3,1447.5 L501.3,1447.5 L504.3,1447.5 L507.3,1447.6 L510.3,1447.6 L513.3,1447.6 L516.3,1447.7 L519.3,1447.7 L522.3,1447.7 L525.3,1447.8 L528.3,1447.8 L531.3,1447.8 L534.3,1447.9 L537.3,1447.9 L540.3,1448.0 L543.3,1448.0 L546.3,1448.1 L549.3,1448.1 L552.3,1448.2 L555.3,1448.2 L558.3,1448.3 L561.3,1448.4 L564.3,1448.4 L567.3,1448.5 L570.3,1448.6 L573.3,1448.7 L576.3,1448.8 L579.3,1448.8 L582.3,1449.0 L585.3,1449.1 L588.3,1449.2 L591.3,1449.3 L594.3,1449.4 L597.3,1449.6 L600.3,1449.7 L603.3,1449.8 L606.3,1450.0 L609.3,1450.2 L612.3,1450.3 L615.3,1450.5 L618.3,1450.7 L621.3,1450.9 L624.3,1451.1 L627.3,1451.3 L630.3,1451.5 L633.3,1451.6 L636.3,1451.8 L639.3,1452.0 L642.3,1452.2 L645.3,1452.4 L648.3,1452.6 L651.3,1452.8 L654.3,1453.0 L657.3,1453.1 L660.3,1453.3 L663.3,1453.4 L666.3,1453.6 L669.3,1453.7 L672.3,1453.9 L675.3,1454.0 L678.3,1454.1 L681.3,1454.2 L684.3,1454.4 L687.3,1454.5 L690.3,1454.6 L693.3,1454.7 L696.3,1454.8 L699.3,1454.9 L702.3,1455.0 L705.3,1455.1 L708.3,1455.2 L711.3,1455.3 L714.3,1455.4 L717.3,1455.5 L720.3,1455.6 L723.3,1455.7 L726.3,1455.8 L729.3,1455.9 L732.3,1456.0 L735.3,1456.1 L738.3,1456.2 L741.3,1456.3 L744.3,1456.4 L747.3,1456.5 L750.3,1456.7 L753.3,1456.8 L756.3,1456.9 L759.3,1457.1 L762.3,1457.2 L765.3,1457.4 L768.3,1457.5 L771.3,1457.7 L774.3,1457.9 L777.3,1458.0 L780.3,1458.2 L783.3,1458.4 L786.3,1458.5 L789.3,1458.7 L792.3,1458.9 L795.3,1459.1 L798.3,1459.2 L801.3,1459.4 L804.3,1459.6 L807.3,1459.8 L810.3,1460.1 L813.3,1460.3 L816.3,1460.5 L819.3,1460.8 L822.3,1461.1 L825.3,1461.4 L828.3,1461.7 L831.3,1462.0 L834.3,1462.2 L837.3,1462.5 L840.3,1462.8 L843.3,1463.0 L846.3,1463.2 L849.3,1463.4 L852.3,1463.6 L855.3,1463.8 L858.3,1463.9 L861.3,1464.0 L864.3,1464.1 L867.3,1464.2 L870.3,1464.3 L873.3,1464.4 L876.3,1464.4 L879.3,1464.5 L882.3,1464.6 L885.3,1464.6 L888.3,1464.7 L891.3,1464.7 L894.3,1464.7 L897.3,1464.8 L900.3,1464.8 L903.3,1464.8 L906.3,1464.9 L909.3,1464.9 L912.3,1464.9 L915.3,1465.0 L918.3,1465.0 L921.3,1465.0 L924.3,1465.1 L927.3,1465.1 L930.3,1465.1 L933.3,1465.2 L936.3,1465.2 L939.3,1465.2 L942.3,1465.2 L945.3,1465.3 L948.3,1465.3 L951.3,1465.3 L954.3,1465.4 L957.3,1465.4 L960.3,1465.4 L963.3,1465.4 L966.3,1465.5 L969.3,1465.5 L972.3,1465.5 L975.3,1465.5 L978.3,1465.6 L981.3,1465.6 L984.3,1465.6 L987.3,1465.7 L990.3,1465.7 L993.3,1465.7 L996.3,1465.7 L999.3,1465.8 L1002.3,1465.8 L1005.3,1465.8 L1008.3,1465.9 L1011.3,1465.9 L1014.3,1465.9 L1017.3,1466.0 L1020.3,1466.0 L1023.3,1466.0 L1026.3,1466.1 L1029.3,1466.1 L1032.3,1466.1 L1035.3,1466.2 L1038.3,1466.2 L1041.3,1466.3 L1044.3,1466.3 L1047.3,1466.4 L1050.3,1466.4 L1053.3,1466.5 L1056.3,1466.5 L1059.3,1466.6 L1062.3,1466.6 L1065.3,1466.7 L1068.3,1466.8 L1071.3,1466.8 L1074.3,1466.9 L1077.3,1467.0 L1080.3,1467.1 L1083.3,1467.2 L1086.3,1467.2 L1089.3,1467.3 L1092.3,1467.4 L1095.3,1467.6 L1098.3,1467.7 L1101.3,1467.8 L1104.3,1468.0 L1107.3,1468.1 L1110.3,1468.3 L1113.3,1468.4 L1116.3,1468.6 L1119.3,1468.8 L1122.3,1469.0 L1125.3,1469.2 L1128.3,1469.5 L1131.3,1469.7 L1134.3,1470.0 L1137.3,1470.2 L1140.3,1470.5 L1143.3,1470.8 L1146.3,1471.1 L1149.3,1471.3 L1152.3,1471.6 L1155.3,1471.9 L1158.3,1472.2 L1161.3,1472.5 L1164.3,1472.8 L1167.3,1473.0 L1170.3,1473.3 L1173.3,1473.5 L1176.3,1473.7 L1179.3,1474.0 L1182.3,1474.2 L1185.3,1474.4 L1188.3,1474.6 L1191.3,1474.7 L1194.3,1474.9 L1197.3,1475.1 L1200.3,1475.2 L1203.3,1475.4 L1206.3,1475.5 L1209.3,1475.7 L1212.3,1475.8 L1215.3,1476.0 L1218.3,1476.1 L1221.3,1476.2 L1224.3,1476.4 L1227.3,1476.5 L1230.3,1476.6 L1233.3,1476.8 L1236.3,1476.9 L1239.3,1477.1 L1242.3,1477.3 L1245.3,1477.4 L1248.3,1477.6 L1251.3,1477.8 L1254.3,1478.0 L1257.3,1478.3 L1260.3,1478.5 L1263.3,1478.8 L1266.3,1479.1 L1269.3,1479.4 L1272.3,1479.8 L1275.3,1480.1 L1278.3,1480.5 L1281.3,1480.9 L1284.3,1481.3 L1287.3,1481.7 L1290.3,1482.1 L1293.3,1482.6 L1296.3,1483.0 L1299.3,1483.5 L1302.3,1484.0 L1305.3,1484.5 L1308.3,1485.0 L1311.3,1485.6 L1314.3,1486.2 L1317.3,1486.8 L1320.3,1487.4 L1323.3,1488.1 L1326.3,1488.7 L1329.3,1489.4 L1332.3,1490.0 L1335.3,1490.6 L1338.3,1491.2 L1341.3,1491.7 L1344.3,1492.3 L1347.3,1492.7 L1350.3,1493.1 L1353.3,1493.5 L1356.3,1493.8 L1359.3,1494.1 L1362.3,1494.4 L1365.3,1494.6 L1368.3,1494.8 L1371.3,1495.0 L1374.3,1495.1 L1377.3,1495.2 L1380.3,1495.4 L1383.3,1495.4 L1386.3,1495.5 L1389.3,1495.6 L1392.3,1495.7 L1395.3,1495.7 L1398.3,1495.8 L1401.3,1495.9 L1404.3,1495.9 L1407.3,1496.0 L1410.3,1496.0 L1413.3,1496.0 L1416.3,1496.1 L1419.3,1496.1 L1422.3,1496.1 L1425.3,1496.2 L1428.3,1496.2 L1431.3,1496.2 L1434.3,1496.3 L1437.3,1496.3 L1440.3,1496.3 L1443.3,1496.4 L1446.3,1496.4 L1449.3,1496.4 L1452.3,1496.4 L1455.3,1496.5 L1458.3,1496.5 L1461.3,1496.5 L1464.3,1496.5 L1467.3,1496.5 L1470.3,1496.6 L1473.3,1496.6 L1476.3,1496.6 L1479.3,1496.6 L1482.3,1496.6 L1485.3,1496.6 L1488.3,1496.7 L1491.3,1496.7 L1494.3,1496.7 L1497.3,1496.7 L1500.3,1496.7 L1503.3,1496.7 L1506.3,1496.7 L1509.3,1496.8 L1512.3,1496.8 L1515.3,1496.8 L1518.3,1496.8 L1521.3,1496.8 L1524.3,1496.8 L1527.3,1496.8 L1530.3,1496.8 L1533.3,1496.9 L1536.3,1496.9 L1539.3,1496.9 L1542.3,1496.9 L1545.3,1496.9 L1548.3,1496.9 L1551.3,1496.9 L1554.3,1496.9 L1557.3,1496.9 L1560.3,1496.9 L1563.3,1497.0 L1566.3,1497.0 L1569.3,1497.0 L1572.3,1497.0 L1575.3,1497.0 L1578.3,1497.0 L1581.3,1497.0 L1584.3,1497.0 L1587.3,1497.0 L1590.3,1497.0 L1593.3,1497.0 L1596.3,1497.0 L1599.3,1497.1 L1602.3,1497.1 L1605.3,1497.1 L1608.3,1497.1 L1611.3,1497.1 L1614.3,1497.1 L1617.3,1497.1 L1620.3,1497.1" fill="none" stroke="#008000" stroke-width="6" stroke-linejoin="round" stroke-linecap="round"/>
<path d="M429.3,1447.1 L432.3,1447.1 L435.3,1447.1 L438.3,1447.1 L441.3,1447.1 L444.3,1447.2 L447.3,1447.2 L450.3,1447.2 L453.3,1447.2 L456.3,1447.2 L459.3,1447.2 L462.3,1447.3 L465.3,1447.3 L468.3,1447.3 L471.3,1447.3 L474.3,1447.3 L477.3,1447.3 L480.3,1447.4 L483.3,1447.4 L486.3,1447.4 L489.3,1447.4 L492.3,1447.4 L495.3,1447.5 L498.3,1447.5 L501.3,1447.5 L504.3,1447.5 L507.3,1447.6 L510.3,1447.6 L513.3,1447.6 L516.3,1447.7 L519.3,1447.7 L522.3,1447.7 L525.3,1447.8 L528.3,1447.8 L531.3,1447.8 L534.3,1447.9 L537.3,1447.9 L540.3,1448.0 L543.3,1448.0 L546.3,1448.1 L549.3,1448.1 L552.3,1448.2 L555.3,1448.2 L558.3,1448.3 L561.3,1448.4 L564.3,1448.4 L567.3,1448.5 L570.3,1448.6 L573.3,1448.7 L576.3,1448.8 L579.3,1448.8 L582.3,1449.0 L585.3,1449.1 L588.3,1449.2 L591.3,1449.3 L594.3,1449.4 L597.3,1449.6 L600.3,1449.7 L603.3,1449.8 L606.3,1450.0 L609.3,1450.2 L612.3,1450.3 L615.3,1450.5 L618.3,1450.7 L621.3,1450.9 L624.3,1451.1 L627.3,1451.3 L630.3,1451.5 L633.3,1451.6 L636.3,1451.8 L639.3,1452.0 L642.3,1452.2 L645.3,1452.4 L648.3,1452.6 L651.3,1452.8 L654.3,1453.0 L657.3,1453.1 L660.3,1453.3 L663.3,1453.4 L666.3,1453.6 L669.3,1453.7 L672.3,1453.9 L675.3,1454.0 L678.3,1454.1 L681.3,1454.2 L684.3,1454.4 L687.3,1454.5 L690.3,1454.6 L693.3,1454.7 L696.3,1454.8 L699.3,1454.9 L702.3,1455.0 L705.3,1455.1 L708.3,1455.2 L711.3,1455.3 L714.3,1455.4 L717.3,1455.5 L720.3,1455.6 L723.3,1455.7 L726.3,1455.8 L729.3,1455.9 L732.3,1456.0 L735.3,1456.1 L738.3,1456.2 L741.3,1456.3 L744.3,1456.4 L747.3,1456.5 L750.3,1456.7 L753.3,1456.8 L756.3,1456.9 L759.3,1457.1 L762.3,1457.2 L765.3,1457.4 L768.3,1457.5 L771.3,1457.7 L774.3,1457.9 L777.3,1458.0 L780.3,1458.2 L783.3,1458.4 L786.3,1458.5 L789.3,1458.7 L792.3,1458.9 L795.3,1459.1 L798.3,1459.2 L801.3,1459.4 L804.3,1459.6 L807.3,1459.8 L810.3,1460.1 L813.3,1460.3 L816.3,1460.5 L819.3,1460.8 L822.3,1461.1 L825.3,1461.4 L828.3,1461.7 L831.3,1462.0 L834.3,1462.2 L837.3,1462.5 L840.3,1462.8 L843.3,1463.0 L846.3,1463.2 L849.3,1463.4 L852.3,1463.6 L855.3,1463.8 L858.3,1463.9 L861.3,1464.0 L864.3,1464.1 L867.3,1464.2 L870.3,1464.3 L873.3,1464.4 L876.3,1464.4 L879.3,1464.5 L882.3,1464.6 L885.3,1464.6 L888.3,1464.7 L891.3,1464.7 L894.3,1464.7 L897.3,1464.8 L900.3,1464.8 L903.3,1464.8 L906.3,1464.9 L909.3,1464.9 L912.3,1464.9 L915.3,1465.0 L918.3,1465.0 L921.3,1465.0 L924.3,1465.1 L927.3,1465.1 L930.3,1465.1 L933.3,1465.2 L936.3,1465.2 L939.3,1465.2 L942.3,1465.2 L945.3,1465.3 L948.3,1465.3 L951.3,1465.3 L954.3,1465.4 L957.3,1465.4 L960.3,1465.4 L963.3,1465.4 L966.3,1465.5 L969.3,1465.5 L972.3,1465.5 L975.3,1465.5 L978.3,1465.6 L981.3,1465.6 L984.3,1465.6 L987.3,1465.7 L990.3,1465.7 L993.3,1465.7 L996.3,1465.7 L999.3,1465.8 L1002.3,1465.8 L1005.3,1465.8 L1008.3,1465.9 L1011.3,1465.9 L1014.3,1465.9 L1017.3,1466.0 L1020.3,1466.0 L1023.3,1466.0 L1026.3,1466.1 L1029.3,1466.1 L1032.3,1466.1 L1035.3,1466.2 L1038.3,1466.2 L1041.3,1466.3 L1044.3,1466.3 L1047.3,1466.4 L1050.3,1466.4 L1053.3,1466.5 L1056.3,1466.5 L1059.3,1466.6 L1062.3,1466.6 L1065.3,1466.7 L1068.3,1466.8 L1071.3,1466.8 L1074.3,1466.9 L1077.3,1467.0 L1080.3,1467.1 L1083.3,1467.2 L1086.3,1467.2 L1089.3,1467.3 L1092.3,1467.4 L1095.3,1467.6 L1098.3,1467.7 L1101.3,1467.8 L1104.3,1468.0 L1107.3,1468.1 L1110.3,1468.3 L1113.3,1468.4 L1116.3,1468.6 L1119.3,1468.8 L1122.3,1469.0 L1125.3,1469.2 L1128.3,1469.5 L1131.3,1469.7 L1134.3,1470.0 L1137.3,1470.2 L1140.3,1470.5 L1143.3,1470.8 L1146.3,1471.1 L1149.3,1471.3 L1152.3,1471.6 L1155.3,1471.9 L1158.3,1472.2 L1161.3,1472.5 L1164.3,1472.8 L1167.3,1473.0 L1170.3,1473.3 L1173.3,1473.5 L1176.3,1473.7 L1179.3,1474.0 L1182.3,1474.2 L1185.3,1474.4 L1188.3,1474.6 L1191.3,1474.7 L1194.3,1474.9 L1197.3,1475.1 L1200.3,1475.2 L1203.3,1475.4 L1206.3,1475.5 L1209.3,1475.7 L1212.3,1475.8 L1215.3,1476.0 L1218.3,1476.1 L1221.3,1476.2 L1224.3,1476.4 L1227.3,1476.5 L1230.3,1476.6 L1233.3,1476.8 L1236.3,1476.9 L1239.3,1477.1 L1242.3,1477.3 L1245.3,1477.4 L1248.3,1477.6 L1251.3,1477.8 L1254.3,1478.0 L1257.3,1478.3 L1260.3,1478.5 L1263.3,1478.8 L1266.3,1479.1 L1269.3,1479.4 L1272.3,1479.8 L1275.3,1480.1 L1278.3,1480.5 L1281.3,1480.9 L1284.3,1481.3 L1287.3,1481.7 L1290.3,1482.1 L1293.3,1482.6 L1296.3,1483.0 L1299.3,1483.5 L1302.3,1484.0 L1305.3,1484.5 L1308.3,1485.0 L1311.3,1485.6 L1314.3,1486.2 L1317.3,1486.8 L1320.3,1487.4 L1323.3,1488.1 L1326.3,1488.7 L1329.3,1489.4 L1332.3,1490.0 L1335.3,1490.6 L1338.3,1491.2 L1341.3,1491.7 L1344.3,1492.3 L1347.3,1492.7 L1350.3,1493.1 L1353.3,1493.5 L1356.3,1493.8 L1359.3,1494.1 L1362.3,1494.4 L1365.3,1494.6 L1368.3,1494.8 L1371.3,1495.0 L1374.3,1495.1 L1377.3,1495.2 L1380.3,1495.4 L1383.3,1495.4 L1386.3,1495.5 L1389.3,1495.6 L1392.3,1495.7 L1395.3,1495.7 L1398.3,1495.8 L1401.3,1495.9 L1404.3,1495.9 L1407.3,1496.0 L1410.3,1496.0 L1413.3,1496.0 L1416.3,1496.1 L1419.3,1496.1 L1422.3,1496.1 L1425.3,1496.2 L1428.3,1496.2 L1431.3,1496.2 L1434.3,1496.3 L1437.3,1496.3 L1440.3,1496.3 L1443.3,1496.4 L1446.3,1496.4 L1449.3,1496.4 L1452.3,1496.4 L1455.3,1496.5 L1458.3,1496.5 L1461.3,1496.5 L1464.3,1496.5 L1467.3,1496.5 L1470.3,1496.6 L1473.3,1496.6 L1476.3,1496.6 L1479.3,1496.6 L1482.3,1496.6 L1485.3,1496.6 L1488.3,1496.7 L1491.3,1496.7 L1494.3,1496.7 L1497.3,1496.7 L1500.3,1496.7 L1503.3,1496.7 L1506.3,1496.7 L1509.3,1496.8 L1512.3,1496.8 L1515.3,1496.8 L1518.3,1496.8 L1521.3,1496.8 L1524.3,1496.8 L1527.3,1496.8 L1530.3,1496.8 L1533.3,1496.9 L1536.3,1496.9 L1539.3,1496.9 L1542.3,1496.9 L1545.3,1496.9 L1548.3,1496.9 L1551.3,1496.9 L1554.3,1496.9 L1557.3,1496.9 L1560.3,1496.9 L1563.3,1497.0 L1566.3,1497.0 L1569.3,1497.0 L1572.3,1497.0 L1575.3,1497.0 L1578.3,1497.0 L1581.3,1497.0 L1584.3,1497.0 L1587.3,1497.0 L1590.3,1497.0 L1593.3,1497.0 L1596.3,1497.0 L1599.3,1497.1 L1602.3,1497.1 L1605.3,1497.1 L1608.3,1497.1 L1611.3,1497.1 L1614.3,1497.1 L1617.3,1497.1 L1620.3,1497.1" fill="none" stroke="#0000ff" stroke-width="6" stroke-linejoin="round" stroke-linecap="round"/>
<path d="M429.3,1446.4 L432.3,1446.4 L435.3,1446.4 L438.3,1446.4 L441.3,1446.4 L444.3,1446.4 L447.3,1446.4 L450.3,1446.4 L453.3,1446.4 L456.3,1446.4 L459.3,1446.4 L462.3,1446.4 L465.3,1446.4 L468.3,1446.4 L471.3,1446.4 L474.3,1446.4 L477.3,1446.4 L480.3,1446.4 L483.3,1446.4 L486.3,1446.4 L489.3,1446.4 L492.3,1446.4 L495.3,1446.4 L498.3,1446.4 L501.3,1446.4 L504.3,1446.4 L507.3,1446.4 L510.3,1446.4 L513.3,1446.4 L516.3,1446.4 L519.3,1446.4 L522.3,1446.4 L525.3,1446.4 L528.3,1446.4 L531.3,1446.4 L534.3,1446.4 L537.3,1446.4 L540.3,1446.4 L543.3,1446.4 L546.3,1446.4 L549.3,1446.5 L552.3,1446.5 L555.3,1446.5 L558.3,1446.5 L561.3,1446.5 L564.3,1446.5 L567.3,1446.6 L570.3,1446.6 L573.3,1446.6 L576.3,1446.6 L579.3,1446.7 L582.3,1446.7 L585.3,1446.8 L588.3,1446.8 L591.3,1446.8 L594.3,1446.9 L597.3,1446.9 L600.3,1447.0 L603.3,1447.1 L606.3,1447.1 L609.3,1447.2 L612.3,1447.3 L615.3,1447.3 L618.3,1447.4 L621.3,1447.5 L624.3,1447.5 L627.3,1447.6 L630.3,1447.6 L633.3,1447.7 L636.3,1447.7 L639.3,1447.7 L642.3,1447.7 L645.3,1447.7 L648.3,1447.7 L651.3,1447.6 L654.3,1447.6 L657.3,1447.5 L660.3,1447.4 L663.3,1447.2 L666.3,1447.0 L669.3,1446.8 L672.3,1446.5 L675.3,1446.2 L678.3,1445.9 L681.3,1445.5 L684.3,1445.0 L687.3,1444.5 L690.3,1443.9 L693.3,1443.2 L696.3,1442.5 L699.3,1441.6 L702.3,1440.7 L705.3,1439.7 L708.3,1438.5 L711.3,1437.3 L714.3,1435.9 L717.3,1434.4 L720.3,1432.8 L723.3,1431.0 L726.3,1429.2 L729.3,1427.2 L732.3,1425.0 L735.3,1422.8 L738.3,1420.4 L741.3,1418.0 L744.3,1415.4 L747.3,1412.9 L750.3,1410.3 L753.3,1407.9 L756.3,1405.5 L759.3,1403.3 L762.3,1401.3 L765.3,1399.7 L768.3,1398.4 L771.3,1397.7 L774.3,1397.4 L777.3,1397.6 L780.3,1398.4 L783.3,1399.6 L786.3,1401.3 L789.3,1403.3 L792.3,1405.7 L795.3,1408.2 L798.3,1411.0 L801.3,1413.8 L804.3,1416.7 L807.3,1419.6 L810.3,1422.4 L813.3,1425.2 L816.3,1427.9 L819.3,1430.5 L822.3,1433.0 L825.3,1435.3 L828.3,1437.5 L831.3,1439.6 L834.3,1441.6 L837.3,1443.4 L840.3,1445.1 L843.3,1446.7 L846.3,1448.1 L849.3,1449.4 L852.3,1450.6 L855.3,1451.7 L858.3,1452.6 L861.3,1453.5 L864.3,1454.3 L867.3,1455.0 L870.3,1455.7 L873.3,1456.3 L876.3,1456.8 L879.3,1457.3 L882.3,1457.7 L885.3,1458.1 L888.3,1458.5 L891.3,1458.9 L894.3,1459.2 L897.3,1459.5 L900.3,1459.7 L903.3,1460.0 L906.3,1460.2 L909.3,1460.5 L912.3,1460.7 L915.3,1460.9 L918.3,1461.1 L921.3,1461.3 L924.3,1461.4 L927.3,1461.6 L930.3,1461.7 L933.3,1461.9 L936.3,1462.0 L939.3,1462.2 L942.3,1462.3 L945.3,1462.4 L948.3,1462.5 L951.3,1462.7 L954.3,1462.8 L957.3,1462.9 L960.3,1463.0 L963.3,1463.1 L966.3,1463.2 L969.3,1463.3 L972.3,1463.4 L975.3,1463.4 L978.3,1463.5 L981.3,1463.6 L984.3,1463.7 L987.3,1463.8 L990.3,1463.9 L993.3,1463.9 L996.3,1464.0 L999.3,1464.1 L1002.3,1464.2 L1005.3,1464.2 L1008.3,1464.3 L1011.3,1464.4 L1014.3,1464.4 L1017.3,1464.5 L1020.3,1464.6 L1023.3,1464.6 L1026.3,1464.7 L1029.3,1464.8 L1032.3,1464.9 L1035.3,1464.9 L1038.3,1465.0 L1041.3,1465.1 L1044.3,1465.1 L1047.3,1465.2 L1050.3,1465.3 L1053.3,1465.4 L1056.3,1465.4 L1059.3,1465.5 L1062.3,1465.6 L1065.3,1465.7 L1068.3,1465.8 L1071.3,1465.8 L1074.3,1465.9 L1077.3,1466.0 L1080.3,1466.1 L1083.3,1466.2 L1086.3,1466.4 L1089.3,1466.5 L1092.3,1466.6 L1095.3,1466.7 L1098.3,1466.9 L1101.3,1467.0 L1104.3,1467.2 L1107.3,1467.3 L1110.3,1467.5 L1113.3,1467.7 L1116.3,1467.9 L1119.3,1468.1 L1122.3,1468.3 L1125.3,1468.5 L1128.3,1468.8 L1131.3,1469.0 L1134.3,1469.3 L1137.3,1469.6 L1140.3,1469.8 L1143.3,1470.1 L1146.3,1470.4 L1149.3,1470.7 L1152.3,1471.0 L1155.3,1471.3 L1158.3,1471.6 L1161.3,1471.9 L1164.3,1472.2 L1167.3,1472.5 L1170.3,1472.7 L1173.3,1473.0 L1176.3,1473.2 L1179.3,1473.4 L1182.3,1473.7 L1185.3,1473.9 L1188.3,1474.1 L1191.3,1474.2 L1194.3,1474.4 L1197.3,1474.6 L1200.3,1474.8 L1203.3,1474.9 L1206.3,1475.1 L1209.3,1475.2 L1212.3,1475.4 L1215.3,1475.5 L1218.3,1475.6 L1221.3,1475.8 L1224.3,1475.9 L1227.3,1476.1 L1230.3,1476.2 L1233.3,1476.4 L1236.3,1476.5 L1239.3,1476.7 L1242.3,1476.9 L1245.3,1477.0 L1248.3,1477.2 L1251.3,1477.4 L1254.3,1477.7 L1257.3,1477.9 L1260.3,1478.2 L1263.3,1478.4 L1266.3,1478.7 L1269.3,1479.1 L1272.3,1479.4 L1275.3,1479.8 L1278.3,1480.2 L1281.3,1480.6 L1284.3,1481.0 L1287.3,1481.4 L1290.3,1481.8 L1293.3,1482.3 L1296.3,1482.7 L1299.3,1483.2 L1302.3,1483.7 L1305.3,1484.2 L1308.3,1484.7 L1311.3,1485.3 L1314.3,1485.9 L1317.3,1486.5 L1320.3,1487.1 L1323.3,1487.8 L1326.3,1488.4 L1329.3,1489.1 L1332.3,1489.7 L1335.3,1490.3 L1338.3,1490.9 L1341.3,1491.5 L1344.3,1492.0 L1347.3,1492.4 L1350.3,1492.9 L1353.3,1493.2 L1356.3,1493.6 L1359.3,1493.9 L1362.3,1494.1 L1365.3,1494.4 L1368.3,1494.6 L1371.3,1494.7 L1374.3,1494.9 L1377.3,1495.0 L1380.3,1495.1 L1383.3,1495.2 L1386.3,1495.3 L1389.3,1495.4 L1392.3,1495.5 L1395.3,1495.5 L1398.3,1495.6 L1401.3,1495.6 L1404.3,1495.7 L1407.3,1495.7 L1410.3,1495.8 L1413.3,1495.8 L1416.3,1495.9 L1419.3,1495.9 L1422.3,1495.9 L1425.3,1496.0 L1428.3,1496.0 L1431.3,1496.0 L1434.3,1496.1 L1437.3,1496.1 L1440.3,1496.1 L1443.3,1496.2 L1446.3,1496.2 L1449.3,1496.2 L1452.3,1496.2 L1455.3,1496.3 L1458.3,1496.3 L1461.3,1496.3 L1464.3,1496.3 L1467.3,1496.4 L1470.3,1496.4 L1473.3,1496.4 L1476.3,1496.4 L1479.3,1496.4 L1482.3,1496.5 L1485.3,1496.5 L1488.3,1496.5 L1491.3,1496.5 L1494.3,1496.5 L1497.3,1496.5 L1500.3,1496.6 L1503.3,1496.6 L1506.3,1496.6 L1509.3,1496.6 L1512.3,1496.6 L1515.3,1496.6 L1518.3,1496.6 L1521.3,1496.7 L1524.3,1496.7 L1527.3,1496.7 L1530.3,1496.7 L1533.3,1496.7 L1536.3,1496.7 L1539.3,1496.7 L1542.3,1496.7 L1545.3,1496.7 L1548.3,1496.8 L1551.3,1496.8 L1554.3,1496.8 L1557.3,1496.8 L1560.3,1496.8 L1563.3,1496.8 L1566.3,1496.8 L1569.3,1496.8 L1572.3,1496.8 L1575.3,1496.9 L1578.3,1496.9 L1581.3,1496.9 L1584.3,1496.9 L1587.3,1496.9 L1590.3,1496.9 L1593.3,1496.9 L1596.3,1496.9 L1599.3,1496.9 L1602.3,1496.9 L1605.3,1496.9 L1608.3,1496.9 L1611.3,1497.0 L1614.3,1497.0 L1617.3,1497.0 L1620.3,1497.0" fill="none" stroke="#0000ff" stroke-width="6" stroke-linejoin="round" stroke-linecap="round"/>
<path d="M429.3,1447.0 L432.3,1447.0 L435.3,1447.0 L438.3,1447.0 L441.3,1447.0 L444.3,1447.0 L447.3,1447.0 L450.3,1447.0 L453.3,1447.1 L456.3,1447.1 L459.3,1447.1 L462.3,1447.1 L465.3,1447.1 L468.3,1447.1 L471.3,1447.2 L474.3,1447.2 L477.3,1447.2 L480.3,1447.2 L483.3,1447.2 L486.3,1447.2 L489.3,1447.3 L492.3,1447.3 L495.3,1447.3 L498.3,1447.3 L501.3,1447.4 L504.3,1447.4 L507.3,1447.4 L510.3,1447.4 L513.3,1447.5 L516.3,1447.5 L519.3,1447.5 L522.3,1447.6 L525.3,1447.6 L528.3,1447.6 L531.3,1447.7 L534.3,1447.7 L537.3,1447.7 L540.3,1447.8 L543.3,1447.8 L546.3,1447.9 L549.3,1447.9 L552.3,1448.0 L555.3,1448.0 L558.3,1448.1 L561.3,1448.2 L564.3,1448.2 L567.3,1448.3 L570.3,1448.4 L573.3,1448.5 L576.3,1448.6 L579.3,1448.7 L582.3,1448.8 L585.3,1448.9 L588.3,1449.0 L591.3,1449.1 L594.3,1449.2 L597.3,1449.3 L600.3,1449.5 L603.3,1449.6 L606.3,1449.8 L609.3,1450.0 L612.3,1450.1 L615.3,1450.3 L618.3,1450.5 L621.3,1450.7 L624.3,1450.8 L627.3,1451.0 L630.3,1451.2 L633.3,1451.4 L636.3,1451.6 L639.3,1451.8 L642.3,1452.0 L645.3,1452.2 L648.3,1452.4 L651.3,1452.5 L654.3,1452.7 L657.3,1452.9 L660.3,1453.0 L663.3,1453.2 L666.3,1453.3 L669.3,1453.5 L672.3,1453.6 L675.3,1453.7 L678.3,1453.9 L681.3,1454.0 L684.3,1454.1 L687.3,1454.2 L690.3,1454.3 L693.3,1454.4 L696.3,1454.5 L699.3,1454.6 L702.3,1454.7 L705.3,1454.8 L708.3,1454.9 L711.3,1455.0 L714.3,1455.1 L717.3,1455.2 L720.3,1455.3 L723.3,1455.4 L726.3,1455.4 L729.3,1455.5 L732.3,1455.6 L735.3,1455.7 L738.3,1455.9 L741.3,1456.0 L744.3,1456.1 L747.3,1456.2 L750.3,1456.3 L753.3,1456.5 L756.3,1456.6 L759.3,1456.7 L762.3,1456.9 L765.3,1457.0 L768.3,1457.2 L771.3,1457.3 L774.3,1457.5 L777.3,1457.6 L780.3,1457.8 L783.3,1458.0 L786.3,1458.1 L789.3,1458.3 L792.3,1458.5 L795.3,1458.6 L798.3,1458.8 L801.3,1459.0 L804.3,1459.2 L807.3,1459.4 L810.3,1459.6 L813.3,1459.9 L816.3,1460.1 L819.3,1460.4 L822.3,1460.6 L825.3,1460.9 L828.3,1461.2 L831.3,1461.5 L834.3,1461.8 L837.3,1462.0 L840.3,1462.3 L843.3,1462.5 L846.3,1462.7 L849.3,1462.9 L852.3,1463.1 L855.3,1463.2 L858.3,1463.4 L861.3,1463.5 L864.3,1463.6 L867.3,1463.7 L870.3,1463.7 L873.3,1463.8 L876.3,1463.9 L879.3,1463.9 L882.3,1463.9 L885.3,1464.0 L888.3,1464.0 L891.3,1464.1 L894.3,1464.1 L897.3,1464.1 L900.3,1464.1 L903.3,1464.2 L906.3,1464.2 L909.3,1464.2 L912.3,1464.2 L915.3,1464.3 L918.3,1464.3 L921.3,1464.3 L924.3,1464.3 L927.3,1464.3 L930.3,1464.3 L933.3,1464.4 L936.3,1464.4 L939.3,1464.4 L942.3,1464.4 L945.3,1464.4 L948.3,1464.4 L951.3,1464.4 L954.3,1464.4 L957.3,1464.5 L960.3,1464.5 L963.3,1464.5 L966.3,1464.5 L969.3,1464.5 L972.3,1464.5 L975.3,1464.5 L978.3,1464.5 L981.3,1464.5 L984.3,1464.5 L987.3,1464.5 L990.3,1464.5 L993.3,1464.5 L996.3,1464.5 L999.3,1464.6 L1002.3,1464.6 L1005.3,1464.6 L1008.3,1464.6 L1011.3,1464.6 L1014.3,1464.6 L1017.3,1464.6 L1020.3,1464.6 L1023.3,1464.6 L1026.3,1464.6 L1029.3,1464.6 L1032.3,1464.6 L1035.3,1464.6 L1038.3,1464.6 L1041.3,1464.6 L1044.3,1464.6 L1047.3,1464.6 L1050.3,1464.6 L1053.3,1464.6 L1056.3,1464.6 L1059.3,1464.6 L1062.3,1464.6 L1065.3,1464.6 L1068.3,1464.6 L1071.3,1464.6 L1074.3,1464.6 L1077.3,1464.7 L1080.3,1464.7 L1083.3,1464.7 L1086.3,1464.7 L1089.3,1464.7 L1092.3,1464.7 L1095.3,1464.8 L1098.3,1464.8 L1101.3,1464.8 L1104.3,1464.9 L1107.3,1464.9 L1110.3,1465.0 L1113.3,1465.0 L1116.3,1465.1 L1119.3,1465.1 L1122.3,1465.2 L1125.3,1465.3 L1128.3,1465.4 L1131.3,1465.5 L1134.3,1465.5 L1137.3,1465.6 L1140.3,1465.7 L1143.3,1465.8 L1146.3,1465.8 L1149.3,1465.9 L1152.3,1465.9 L1155.3,1466.0 L1158.3,1466.0 L1161.3,1465.9 L1164.3,1465.9 L1167.3,1465.8 L1170.3,1465.7 L1173.3,1465.5 L1176.3,1465.3 L1179.3,1465.1 L1182.3,1464.7 L1185.3,1464.4 L1188.3,1463.9 L1191.3,1463.4 L1194.3,1462.9 L1197.3,1462.2 L1200.3,1461.4 L1203.3,1460.5 L1206.3,1459.5 L1209.3,1458.3 L1212.3,1456.9 L1215.3,1455.3 L1218.3,1453.5 L1221.3,1451.3 L1224.3,1448.9 L1227.3,1446.0 L1230.3,1442.8 L1233.3,1439.1 L1236.3,1434.9 L1239.3,1430.1 L1242.3,1424.8 L1245.3,1418.8 L1248.3,1412.2 L1251.3,1405.1 L1254.3,1397.3 L1257.3,1389.2 L1260.3,1380.8 L1263.3,1372.4 L1266.3,1364.5 L1269.3,1357.4 L1272.3,1351.7 L1275.3,1347.9 L1278.3,1346.5 L1281.3,1347.5 L1284.3,1351.0 L1287.3,1356.6 L1290.3,1363.9 L1293.3,1372.3 L1296.3,1381.2 L1299.3,1390.4 L1302.3,1399.4 L1305.3,1408.1 L1308.3,1416.3 L1311.3,1423.9 L1314.3,1430.9 L1317.3,1437.3 L1320.3,1443.1 L1323.3,1448.4 L1326.3,1453.1 L1329.3,1457.4 L1332.3,1461.2 L1335.3,1464.6 L1338.3,1467.5 L1341.3,1470.2 L1344.3,1472.6 L1347.3,1474.6 L1350.3,1476.5 L1353.3,1478.1 L1356.3,1479.5 L1359.3,1480.8 L1362.3,1481.9 L1365.3,1483.0 L1368.3,1483.9 L1371.3,1484.7 L1374.3,1485.4 L1377.3,1486.1 L1380.3,1486.7 L1383.3,1487.2 L1386.3,1487.8 L1389.3,1488.2 L1392.3,1488.7 L1395.3,1489.0 L1398.3,1489.4 L1401.3,1489.8 L1404.3,1490.1 L1407.3,1490.4 L1410.3,1490.7 L1413.3,1490.9 L1416.3,1491.2 L1419.3,1491.4 L1422.3,1491.6 L1425.3,1491.9 L1428.3,1492.1 L1431.3,1492.2 L1434.3,1492.4 L1437.3,1492.6 L1440.3,1492.7 L1443.3,1492.9 L1446.3,1493.0 L1449.3,1493.2 L1452.3,1493.3 L1455.3,1493.4 L1458.3,1493.6 L1461.3,1493.7 L1464.3,1493.8 L1467.3,1493.9 L1470.3,1494.0 L1473.3,1494.1 L1476.3,1494.2 L1479.3,1494.3 L1482.3,1494.3 L1485.3,1494.4 L1488.3,1494.5 L1491.3,1494.6 L1494.3,1494.6 L1497.3,1494.7 L1500.3,1494.8 L1503.3,1494.8 L1506.3,1494.9 L1509.3,1495.0 L1512.3,1495.0 L1515.3,1495.1 L1518.3,1495.1 L1521.3,1495.2 L1524.3,1495.2 L1527.3,1495.3 L1530.3,1495.3 L1533.3,1495.4 L1536.3,1495.4 L1539.3,1495.5 L1542.3,1495.5 L1545.3,1495.6 L1548.3,1495.6 L1551.3,1495.6 L1554.3,1495.7 L1557.3,1495.7 L1560.3,1495.7 L1563.3,1495.8 L1566.3,1495.8 L1569.3,1495.8 L1572.3,1495.9 L1575.3,1495.9 L1578.3,1495.9 L1581.3,1496.0 L1584.3,1496.0 L1587.3,1496.0 L1590.3,1496.0 L1593.3,1496.1 L1596.3,1496.1 L1599.3,1496.1 L1602.3,1496.1 L1605.3,1496.2 L1608.3,1496.2 L1611.3,1496.2 L1614.3,1496.2 L1617.3,1496.3 L1620.3,1496.3" fill="none" stroke="#0000ff" stroke-width="6" stroke-linejoin="round" stroke-linecap="round"/>
<path d="M429.3,1446.9 L432.3,1446.9 L435.3,1446.9 L438.3,1446.9 L441.3,1446.9 L444.3,1447.0 L447.3,1447.0 L450.3,1447.0 L453.3,1447.0 L456.3,1447.0 L459.3,1447.0 L462.3,1447.0 L465.3,1447.0 L468.3,1447.0 L471.3,1447.1 L474.3,1447.1 L477.3,1447.1 L480.3,1447.1 L483.3,1447.1 L486.3,1447.1 L489.3,1447.2 L492.3,1447.2 L495.3,1447.2 L498.3,1447.2 L501.3,1447.2 L504.3,1447.2 L507.3,1447.3 L510.3,1447.3 L513.3,1447.3 L516.3,1447.3 L519.3,1447.4 L522.3,1447.4 L525.3,1447.4 L528.3,1447.4 L531.3,1447.5 L534.3,1447.5 L537.3,1447.5 L540.3,1447.6 L543.3,1447.6 L546.3,1447.7 L549.3,1447.7 L552.3,1447.8 L555.3,1447.8 L558.3,1447.9 L561.3,1447.9 L564.3,1448.0 L567.3,1448.0 L570.3,1448.1 L573.3,1448.2 L576.3,1448.3 L579.3,1448.4 L582.3,1448.4 L585.3,1448.5 L588.3,1448.6 L591.3,1448.7 L594.3,1448.9 L597.3,1449.0 L600.3,1449.1 L603.3,1449.2 L606.3,1449.4 L609.3,1449.5 L612.3,1449.7 L615.3,1449.8 L618.3,1450.0 L621.3,1450.2 L624.3,1450.3 L627.3,1450.5 L630.3,1450.7 L633.3,1450.9 L636.3,1451.0 L639.3,1451.2 L642.3,1451.4 L645.3,1451.5 L648.3,1451.7 L651.3,1451.8 L654.3,1452.0 L657.3,1452.1 L660.3,1452.2 L663.3,1452.3 L666.3,1452.4 L669.3,1452.5 L672.3,1452.6 L675.3,1452.7 L678.3,1452.8 L681.3,1452.9 L684.3,1452.9 L687.3,1453.0 L690.3,1453.0 L693.3,1453.1 L696.3,1453.1 L699.3,1453.1 L702.3,1453.1 L705.3,1453.1 L708.3,1453.1 L711.3,1453.1 L714.3,1453.1 L717.3,1453.1 L720.3,1453.1 L723.3,1453.0 L726.3,1453.0 L729.3,1452.9 L732.3,1452.9 L735.3,1452.8 L738.3,1452.7 L741.3,1452.6 L744.3,1452.4 L747.3,1452.3 L750.3,1452.1 L753.3,1451.9 L756.3,1451.6 L759.3,1451.3 L762.3,1450.9 L765.3,1450.5 L768.3,1449.9 L771.3,1449.1 L774.3,1448.1 L777.3,1446.9 L780.3,1445.3 L783.3,1443.2 L786.3,1440.6 L789.3,1437.4 L792.3,1433.5 L795.3,1428.7 L798.3,1423.0 L801.3,1416.5 L804.3,1409.0 L807.3,1400.7 L810.3,1391.8 L813.3,1382.6 L816.3,1373.3 L819.3,1364.6 L822.3,1357.1 L825.3,1351.6 L828.3,1348.6 L831.3,1348.7 L834.3,1351.9 L837.3,1357.7 L840.3,1365.5 L843.3,1374.6 L846.3,1384.2 L849.3,1394.0 L852.3,1403.3 L855.3,1412.1 L858.3,1420.0 L861.3,1427.0 L864.3,1433.0 L867.3,1438.2 L870.3,1442.5 L873.3,1446.1 L876.3,1449.0 L879.3,1451.3 L882.3,1453.2 L885.3,1454.7 L888.3,1455.9 L891.3,1456.9 L894.3,1457.7 L897.3,1458.4 L900.3,1459.0 L903.3,1459.5 L906.3,1459.9 L909.3,1460.3 L912.3,1460.7 L915.3,1461.0 L918.3,1461.3 L921.3,1461.5 L924.3,1461.8 L927.3,1462.0 L930.3,1462.2 L933.3,1462.4 L936.3,1462.5 L939.3,1462.7 L942.3,1462.9 L945.3,1463.0 L948.3,1463.1 L951.3,1463.3 L954.3,1463.4 L957.3,1463.5 L960.3,1463.6 L963.3,1463.7 L966.3,1463.8 L969.3,1463.9 L972.3,1464.0 L975.3,1464.1 L978.3,1464.2 L981.3,1464.3 L984.3,1464.3 L987.3,1464.4 L990.3,1464.5 L993.3,1464.6 L996.3,1464.6 L999.3,1464.7 L1002.3,1464.8 L1005.3,1464.8 L1008.3,1464.9 L1011.3,1465.0 L1014.3,1465.0 L1017.3,1465.1 L1020.3,1465.1 L1023.3,1465.2 L1026.3,1465.3 L1029.3,1465.3 L1032.3,1465.4 L1035.3,1465.5 L1038.3,1465.5 L1041.3,1465.6 L1044.3,1465.6 L1047.3,1465.7 L1050.3,1465.8 L1053.3,1465.8 L1056.3,1465.9 L1059.3,1466.0 L1062.3,1466.1 L1065.3,1466.1 L1068.3,1466.2 L1071.3,1466.3 L1074.3,1466.4 L1077.3,1466.5 L1080.3,1466.6 L1083.3,1466.7 L1086.3,1466.8 L1089.3,1466.9 L1092.3,1467.0 L1095.3,1467.1 L1098.3,1467.3 L1101.3,1467.4 L1104.3,1467.5 L1107.3,1467.7 L1110.3,1467.9 L1113.3,1468.0 L1116.3,1468.2 L1119.3,1468.4 L1122.3,1468.6 L1125.3,1468.9 L1128.3,1469.1 L1131.3,1469.4 L1134.3,1469.6 L1137.3,1469.9 L1140.3,1470.2 L1143.3,1470.5 L1146.3,1470.7 L1149.3,1471.0 L1152.3,1471.3 L1155.3,1471.6 L1158.3,1471.9 L1161.3,1472.2 L1164.3,1472.5 L1167.3,1472.8 L1170.3,1473.0 L1173.3,1473.3 L1176.3,1473.5 L1179.3,1473.7 L1182.3,1473.9 L1185.3,1474.1 L1188.3,1474.3 L1191.3,1474.5 L1194.3,1474.7 L1197.3,1474.8 L1200.3,1475.0 L1203.3,1475.2 L1206.3,1475.3 L1209.3,1475.5 L1212.3,1475.6 L1215.3,1475.7 L1218.3,1475.9 L1221.3,1476.0 L1224.3,1476.2 L1227.3,1476.3 L1230.3,1476.4 L1233.3,1476.6 L1236.3,1476.7 L1239.3,1476.9 L1242.3,1477.1 L1245.3,1477.2 L1248.3,1477.4 L1251.3,1477.6 L1254.3,1477.9 L1257.3,1478.1 L1260.3,1478.4 L1263.3,1478.6 L1266.3,1478.9 L1269.3,1479.3 L1272.3,1479.6 L1275.3,1480.0 L1278.3,1480.3 L1281.3,1480.7 L1284.3,1481.1 L1287.3,1481.6 L1290.3,1482.0 L1293.3,1482.4 L1296.3,1482.9 L1299.3,1483.4 L1302.3,1483.8 L1305.3,1484.4 L1308.3,1484.9 L1311.3,1485.4 L1314.3,1486.0 L1317.3,1486.6 L1320.3,1487.3 L1323.3,1487.9 L1326.3,1488.6 L1329.3,1489.2 L1332.3,1489.9 L1335.3,1490.5 L1338.3,1491.1 L1341.3,1491.6 L1344.3,1492.1 L1347.3,1492.6 L1350.3,1493.0 L1353.3,1493.4 L1356.3,1493.7 L1359.3,1494.0 L1362.3,1494.3 L1365.3,1494.5 L1368.3,1494.7 L1371.3,1494.9 L1374.3,1495.0 L1377.3,1495.1 L1380.3,1495.2 L1383.3,1495.3 L1386.3,1495.4 L1389.3,1495.5 L1392.3,1495.6 L1395.3,1495.6 L1398.3,1495.7 L1401.3,1495.8 L1404.3,1495.8 L1407.3,1495.9 L1410.3,1495.9 L1413.3,1495.9 L1416.3,1496.0 L1419.3,1496.0 L1422.3,1496.1 L1425.3,1496.1 L1428.3,1496.1 L1431.3,1496.2 L1434.3,1496.2 L1437.3,1496.2 L1440.3,1496.2 L1443.3,1496.3 L1446.3,1496.3 L1449.3,1496.3 L1452.3,1496.3 L1455.3,1496.4 L1458.3,1496.4 L1461.3,1496.4 L1464.3,1496.4 L1467.3,1496.5 L1470.3,1496.5 L1473.3,1496.5 L1476.3,1496.5 L1479.3,1496.5 L1482.3,1496.6 L1485.3,1496.6 L1488.3,1496.6 L1491.3,1496.6 L1494.3,1496.6 L1497.3,1496.6 L1500.3,1496.6 L1503.3,1496.7 L1506.3,1496.7 L1509.3,1496.7 L1512.3,1496.7 L1515.3,1496.7 L1518.3,1496.7 L1521.3,1496.7 L1524.3,1496.8 L1527.3,1496.8 L1530.3,1496.8 L1533.3,1496.8 L1536.3,1496.8 L1539.3,1496.8 L1542.3,1496.8 L1545.3,1496.8 L1548.3,1496.8 L1551.3,1496.9 L1554.3,1496.9 L1557.3,1496.9 L1560.3,1496.9 L1563.3,1496.9 L1566.3,1496.9 L1569.3,1496.9 L1572.3,1496.9 L1575.3,1496.9 L1578.3,1496.9 L1581.3,1496.9 L1584.3,1497.0 L1587.3,1497.0 L1590.3,1497.0 L1593.3,1497.0 L1596.3,1497.0 L1599.3,1497.0 L1602.3,1497.0 L1605.3,1497.0 L1608.3,1497.0 L1611.3,1497.0 L1614.3,1497.0 L1617.3,1497.0 L1620.3,1497.0" fill="none" stroke="#ff80ff" stroke-width="6" stroke-linejoin="round" stroke-linecap="round"/>
<path d="M429.3,1447.0 L432.3,1447.0 L435.3,1447.0 L438.3,1447.0 L441.3,1447.0 L444.3,1447.0 L447.3,1447.1 L450.3,1447.1 L453.3,1447.1 L456.3,1447.1 L459.3,1447.1 L462.3,1447.1 L465.3,1447.2 L468.3,1447.2 L471.3,1447.2 L474.3,1447.2 L477.3,1447.2 L480.3,1447.2 L483.3,1447.3 L486.3,1447.3 L489.3,1447.3 L492.3,1447.3 L495.3,1447.3 L498.3,1447.4 L501.3,1447.4 L504.3,1447.4 L507.3,1447.4 L510.3,1447.5 L513.3,1447.5 L516.3,1447.5 L519.3,1447.6 L522.3,1447.6 L525.3,1447.6 L528.3,1447.7 L531.3,1447.7 L534.3,1447.7 L537.3,1447.8 L540.3,1447.8 L543.3,1447.9 L546.3,1447.9 L549.3,1448.0 L552.3,1448.0 L555.3,1448.1 L558.3,1448.1 L561.3,1448.2 L564.3,1448.3 L567.3,1448.3 L570.3,1448.4 L573.3,1448.5 L576.3,1448.6 L579.3,1448.7 L582.3,1448.8 L585.3,1448.9 L588.3,1449.0 L591.3,1449.1 L594.3,1449.3 L597.3,1449.4 L600.3,1449.5 L603.3,1449.7 L606.3,1449.8 L609.3,1450.0 L612.3,1450.2 L615.3,1450.3 L618.3,1450.5 L621.3,1450.7 L624.3,1450.9 L627.3,1451.1 L630.3,1451.3 L633.3,1451.5 L636.3,1451.7 L639.3,1451.9 L642.3,1452.0 L645.3,1452.2 L648.3,1452.4 L651.3,1452.6 L654.3,1452.8 L657.3,1452.9 L660.3,1453.1 L663.3,1453.2 L666.3,1453.4 L669.3,1453.5 L672.3,1453.7 L675.3,1453.8 L678.3,1453.9 L681.3,1454.0 L684.3,1454.2 L687.3,1454.3 L690.3,1454.4 L693.3,1454.5 L696.3,1454.6 L699.3,1454.7 L702.3,1454.8 L705.3,1454.9 L708.3,1455.0 L711.3,1455.0 L714.3,1455.1 L717.3,1455.2 L720.3,1455.3 L723.3,1455.4 L726.3,1455.5 L729.3,1455.6 L732.3,1455.7 L735.3,1455.8 L738.3,1455.9 L741.3,1456.0 L744.3,1456.2 L747.3,1456.3 L750.3,1456.4 L753.3,1456.5 L756.3,1456.7 L759.3,1456.8 L762.3,1457.0 L765.3,1457.1 L768.3,1457.3 L771.3,1457.4 L774.3,1457.6 L777.3,1457.7 L780.3,1457.9 L783.3,1458.1 L786.3,1458.2 L789.3,1458.4 L792.3,1458.6 L795.3,1458.7 L798.3,1458.9 L801.3,1459.1 L804.3,1459.3 L807.3,1459.5 L810.3,1459.7 L813.3,1460.0 L816.3,1460.2 L819.3,1460.5 L822.3,1460.7 L825.3,1461.0 L828.3,1461.3 L831.3,1461.6 L834.3,1461.9 L837.3,1462.2 L840.3,1462.4 L843.3,1462.6 L846.3,1462.9 L849.3,1463.1 L852.3,1463.2 L855.3,1463.4 L858.3,1463.5 L861.3,1463.6 L864.3,1463.7 L867.3,1463.8 L870.3,1463.9 L873.3,1464.0 L876.3,1464.0 L879.3,1464.1 L882.3,1464.1 L885.3,1464.2 L888.3,1464.2 L891.3,1464.2 L894.3,1464.3 L897.3,1464.3 L900.3,1464.3 L903.3,1464.4 L906.3,1464.4 L909.3,1464.4 L912.3,1464.4 L915.3,1464.5 L918.3,1464.5 L921.3,1464.5 L924.3,1464.5 L927.3,1464.6 L930.3,1464.6 L933.3,1464.6 L936.3,1464.6 L939.3,1464.6 L942.3,1464.7 L945.3,1464.7 L948.3,1464.7 L951.3,1464.7 L954.3,1464.7 L957.3,1464.7 L960.3,1464.8 L963.3,1464.8 L966.3,1464.8 L969.3,1464.8 L972.3,1464.8 L975.3,1464.8 L978.3,1464.9 L981.3,1464.9 L984.3,1464.9 L987.3,1464.9 L990.3,1464.9 L993.3,1464.9 L996.3,1464.9 L999.3,1465.0 L1002.3,1465.0 L1005.3,1465.0 L1008.3,1465.0 L1011.3,1465.0 L1014.3,1465.0 L1017.3,1465.1 L1020.3,1465.1 L1023.3,1465.1 L1026.3,1465.1 L1029.3,1465.1 L1032.3,1465.2 L1035.3,1465.2 L1038.3,1465.2 L1041.3,1465.2 L1044.3,1465.2 L1047.3,1465.3 L1050.3,1465.3 L1053.3,1465.3 L1056.3,1465.3 L1059.3,1465.4 L1062.3,1465.4 L1065.3,1465.4 L1068.3,1465.5 L1071.3,1465.5 L1074.3,1465.6 L1077.3,1465.6 L1080.3,1465.6 L1083.3,1465.7 L1086.3,1465.8 L1089.3,1465.8 L1092.3,1465.9 L1095.3,1466.0 L1098.3,1466.0 L1101.3,1466.1 L1104.3,1466.2 L1107.3,1466.3 L1110.3,1466.4 L1113.3,1466.6 L1116.3,1466.7 L1119.3,1466.8 L1122.3,1467.0 L1125.3,1467.1 L1128.3,1467.3 L1131.3,1467.5 L1134.3,1467.7 L1137.3,1467.9 L1140.3,1468.0 L1143.3,1468.3 L1146.3,1468.5 L1149.3,1468.7 L1152.3,1468.9 L1155.3,1469.1 L1158.3,1469.2 L1161.3,1469.4 L1164.3,1469.6 L1167.3,1469.7 L1170.3,1469.8 L1173.3,1470.0 L1176.3,1470.0 L1179.3,1470.1 L1182.3,1470.2 L1185.3,1470.2 L1188.3,1470.2 L1191.3,1470.2 L1194.3,1470.2 L1197.3,1470.1 L1200.3,1470.1 L1203.3,1470.0 L1206.3,1469.9 L1209.3,1469.7 L1212.3,1469.6 L1215.3,1469.4 L1218.3,1469.2 L1221.3,1468.9 L1224.3,1468.7 L1227.3,1468.4 L1230.3,1468.0 L1233.3,1467.6 L1236.3,1467.2 L1239.3,1466.7 L1242.3,1466.1 L1245.3,1465.5 L1248.3,1464.7 L1251.3,1463.7 L1254.3,1462.6 L1257.3,1461.2 L1260.3,1459.5 L1263.3,1457.4 L1266.3,1454.7 L1269.3,1451.4 L1272.3,1447.2 L1275.3,1442.1 L1278.3,1435.9 L1281.3,1428.3 L1284.3,1419.3 L1287.3,1408.6 L1290.3,1396.3 L1293.3,1382.2 L1296.3,1366.5 L1299.3,1349.2 L1302.3,1330.6 L1305.3,1311.0 L1308.3,1291.0 L1311.3,1271.2 L1314.3,1252.5 L1317.3,1235.8 L1320.3,1222.3 L1323.3,1213.0 L1326.3,1208.7 L1329.3,1209.9 L1332.3,1216.5 L1335.3,1228.0 L1338.3,1243.5 L1341.3,1261.8 L1344.3,1281.9 L1347.3,1302.8 L1350.3,1323.7 L1353.3,1344.0 L1356.3,1363.2 L1359.3,1381.0 L1362.3,1397.1 L1365.3,1411.5 L1368.3,1424.1 L1371.3,1435.0 L1374.3,1444.2 L1377.3,1452.0 L1380.3,1458.5 L1383.3,1463.9 L1386.3,1468.3 L1389.3,1471.8 L1392.3,1474.8 L1395.3,1477.1 L1398.3,1479.1 L1401.3,1480.7 L1404.3,1482.1 L1407.3,1483.2 L1410.3,1484.2 L1413.3,1485.1 L1416.3,1485.8 L1419.3,1486.5 L1422.3,1487.1 L1425.3,1487.7 L1428.3,1488.2 L1431.3,1488.6 L1434.3,1489.1 L1437.3,1489.5 L1440.3,1489.8 L1443.3,1490.2 L1446.3,1490.5 L1449.3,1490.8 L1452.3,1491.1 L1455.3,1491.3 L1458.3,1491.6 L1461.3,1491.8 L1464.3,1492.0 L1467.3,1492.2 L1470.3,1492.4 L1473.3,1492.6 L1476.3,1492.8 L1479.3,1492.9 L1482.3,1493.1 L1485.3,1493.2 L1488.3,1493.4 L1491.3,1493.5 L1494.3,1493.6 L1497.3,1493.7 L1500.3,1493.9 L1503.3,1494.0 L1506.3,1494.1 L1509.3,1494.2 L1512.3,1494.3 L1515.3,1494.4 L1518.3,1494.4 L1521.3,1494.5 L1524.3,1494.6 L1527.3,1494.7 L1530.3,1494.8 L1533.3,1494.8 L1536.3,1494.9 L1539.3,1495.0 L1542.3,1495.0 L1545.3,1495.1 L1548.3,1495.1 L1551.3,1495.2 L1554.3,1495.3 L1557.3,1495.3 L1560.3,1495.4 L1563.3,1495.4 L1566.3,1495.4 L1569.3,1495.5 L1572.3,1495.5 L1575.3,1495.6 L1578.3,1495.6 L1581.3,1495.7 L1584.3,1495.7 L1587.3,1495.7 L1590.3,1495.8 L1593.3,1495.8 L1596.3,1495.8 L1599.3,1495.9 L1602.3,1495.9 L1605.3,1495.9 L1608.3,1496.0 L1611.3,1496.0 L1614.3,1496.0 L1617.3,1496.1 L1620.3,1496.1" fill="none" stroke="#ff00ff" stroke-width="6" stroke-linejoin="round" stroke-linecap="round"/>
<path d="M429.3,1447.1 L432.3,1447.1 L435.3,1447.1 L438.3,1447.1 L441.3,1447.1 L444.3,1447.2 L447.3,1447.2 L450.3,1447.2 L453.3,1447.2 L456.3,1447.2 L459.3,1447.2 L462.3,1447.3 L465.3,1447.3 L468.3,1447.3 L471.3,1447.3 L474.3,1447.3 L477.3,1447.3 L480.3,1447.4 L483.3,1447.4 L486.3,1447.4 L489.3,1447.4 L492.3,1447.4 L495.3,1447.5 L498.3,1447.5 L501.3,1447.5 L504.3,1447.5 L507.3,1447.6 L510.3,1447.6 L513.3,1447.6 L516.3,1447.7 L519.3,1447.7 L522.3,1447.7 L525.3,1447.8 L528.3,1447.8 L531.3,1447.8 L534.3,1447.9 L537.3,1447.9 L540.3,1448.0 L543.3,1448.0 L546.3,1448.1 L549.3,1448.1 L552.3,1448.2 L555.3,1448.2 L558.3,1448.3 L561.3,1448.4 L564.3,1448.4 L567.3,1448.5 L570.3,1448.6 L573.3,1448.7 L576.3,1448.8 L579.3,1448.8 L582.3,1449.0 L585.3,1449.1 L588.3,1449.2 L591.3,1449.3 L594.3,1449.4 L597.3,1449.6 L600.3,1449.7 L603.3,1449.8 L606.3,1450.0 L609.3,1450.2 L612.3,1450.3 L615.3,1450.5 L618.3,1450.7 L621.3,1450.9 L624.3,1451.1 L627.3,1451.3 L630.3,1451.5 L633.3,1451.6 L636.3,1451.8 L639.3,1452.0 L642.3,1452.2 L645.3,1452.4 L648.3,1452.6 L651.3,1452.8 L654.3,1453.0 L657.3,1453.1 L660.3,1453.3 L663.3,1453.4 L666.3,1453.6 L669.3,1453.7 L672.3,1453.9 L675.3,1454.0 L678.3,1454.1 L681.3,1454.2 L684.3,1454.4 L687.3,1454.5 L690.3,1454.6 L693.3,1454.7 L696.3,1454.8 L699.3,1454.9 L702.3,1455.0 L705.3,1455.1 L708.3,1455.2 L711.3,1455.3 L714.3,1455.4 L717.3,1455.5 L720.3,1455.6 L723.3,1455.7 L726.3,1455.8 L729.3,1455.9 L732.3,1456.0 L735.3,1456.1 L738.3,1456.2 L741.3,1456.3 L744.3,1456.4 L747.3,1456.5 L750.3,1456.7 L753.3,1456.8 L756.3,1456.9 L759.3,1457.1 L762.3,1457.2 L765.3,1457.4 L768.3,1457.5 L771.3,1457.7 L774.3,1457.9 L777.3,1458.0 L780.3,1458.2 L783.3,1458.4 L786.3,1458.5 L789.3,1458.7 L792.3,1458.9 L795.3,1459.1 L798.3,1459.2 L801.3,1459.4 L804.3,1459.6 L807.3,1459.8 L810.3,1460.1 L813.3,1460.3 L816.3,1460.5 L819.3,1460.8 L822.3,1461.1 L825.3,1461.4 L828.3,1461.7 L831.3,1462.0 L834.3,1462.2 L837.3,1462.5 L840.3,1462.8 L843.3,1463.0 L846.3,1463.2 L849.3,1463.4 L852.3,1463.6 L855.3,1463.8 L858.3,1463.9 L861.3,1464.0 L864.3,1464.1 L867.3,1464.2 L870.3,1464.3 L873.3,1464.4 L876.3,1464.4 L879.3,1464.5 L882.3,1464.6 L885.3,1464.6 L888.3,1464.7 L891.3,1464.7 L894.3,1464.7 L897.3,1464.8 L900.3,1464.8 L903.3,1464.8 L906.3,1464.9 L909.3,1464.9 L912.3,1464.9 L915.3,1465.0 L918.3,1465.0 L921.3,1465.0 L924.3,1465.1 L927.3,1465.1 L930.3,1465.1 L933.3,1465.2 L936.3,1465.2 L939.3,1465.2 L942.3,1465.2 L945.3,1465.3 L948.3,1465.3 L951.3,1465.3 L954.3,1465.4 L957.3,1465.4 L960.3,1465.4 L963.3,1465.4 L966.3,1465.5 L969.3,1465.5 L972.3,1465.5 L975.3,1465.5 L978.3,1465.6 L981.3,1465.6 L984.3,1465.6 L987.3,1465.7 L990.3,1465.7 L993.3,1465.7 L996.3,1465.7 L999.3,1465.8 L1002.3,1465.8 L1005.3,1465.8 L1008.3,1465.9 L1011.3,1465.9 L1014.3,1465.9 L1017.3,1466.0 L1020.3,1466.0 L1023.3,1466.0 L1026.3,1466.1 L1029.3,1466.1 L1032.3,1466.1 L1035.3,1466.2 L1038.3,1466.2 L1041.3,1466.3 L1044.3,1466.3 L1047.3,1466.4 L1050.3,1466.4 L1053.3,1466.5 L1056.3,1466.5 L1059.3,1466.6 L1062.3,1466.6 L1065.3,1466.7 L1068.3,1466.8 L1071.3,1466.8 L1074.3,1466.9 L1077.3,1467.0 L1080.3,1467.1 L1083.3,1467.2 L1086.3,1467.2 L1089.3,1467.3 L1092.3,1467.4 L1095.3,1467.6 L1098.3,1467.7 L1101.3,1467.8 L1104.3,1468.0 L1107.3,1468.1 L1110.3,1468.3 L1113.3,1468.4 L1116.3,1468.6 L1119.3,1468.8 L1122.3,1469.0 L1125.3,1469.2 L1128.3,1469.5 L1131.3,1469.7 L1134.3,1470.0 L1137.3,1470.2 L1140.3,1470.5 L1143.3,1470.8 L1146.3,1471.1 L1149.3,1471.3 L1152.3,1471.6 L1155.3,1471.9 L1158.3,1472.2 L1161.3,1472.5 L1164.3,1472.8 L1167.3,1473.0 L1170.3,1473.3 L1173.3,1473.5 L1176.3,1473.7 L1179.3,1474.0 L1182.3,1474.2 L1185.3,1474.4 L1188.3,1474.6 L1191.3,1474.7 L1194.3,1474.9 L1197.3,1475.1 L1200.3,1475.2 L1203.3,1475.4 L1206.3,1475.5 L1209.3,1475.7 L1212.3,1475.8 L1215.3,1476.0 L1218.3,1476.1 L1221.3,1476.2 L1224.3,1476.4 L1227.3,1476.5 L1230.3,1476.6 L1233.3,1476.8 L1236.3,1476.9 L1239.3,1477.1 L1242.3,1477.3 L1245.3,1477.4 L1248.3,1477.6 L1251.3,1477.8 L1254.3,1478.0 L1257.3,1478.3 L1260.3,1478.5 L1263.3,1478.8 L1266.3,1479.1 L1269.3,1479.4 L1272.3,1479.8 L1275.3,1480.1 L1278.3,1480.5 L1281.3,1480.9 L1284.3,1481.3 L1287.3,1481.7 L1290.3,1482.1 L1293.3,1482.6 L1296.3,1483.0 L1299.3,1483.5 L1302.3,1484.0 L1305.3,1484.5 L1308.3,1485.0 L1311.3,1485.6 L1314.3,1486.2 L1317.3,1486.8 L1320.3,1487.4 L1323.3,1488.1 L1326.3,1488.7 L1329.3,1489.4 L1332.3,1490.0 L1335.3,1490.6 L1338.3,1491.2 L1341.3,1491.7 L1344.3,1492.3 L1347.3,1492.7 L1350.3,1493.1 L1353.3,1493.5 L1356.3,1493.8 L1359.3,1494.1 L1362.3,1494.4 L1365.3,1494.6 L1368.3,1494.8 L1371.3,1495.0 L1374.3,1495.1 L1377.3,1495.2 L1380.3,1495.4 L1383.3,1495.4 L1386.3,1495.5 L1389.3,1495.6 L1392.3,1495.7 L1395.3,1495.7 L1398.3,1495.8 L1401.3,1495.9 L1404.3,1495.9 L1407.3,1496.0 L1410.3,1496.0 L1413.3,1496.0 L1416.3,1496.1 L1419.3,1496.1 L1422.3,1496.1 L1425.3,1496.2 L1428.3,1496.2 L1431.3,1496.2 L1434.3,1496.3 L1437.3,1496.3 L1440.3,1496.3 L1443.3,1496.4 L1446.3,1496.4 L1449.3,1496.4 L1452.3,1496.4 L1455.3,1496.5 L1458.3,1496.5 L1461.3,1496.5 L1464.3,1496.5 L1467.3,1496.5 L1470.3,1496.6 L1473.3,1496.6 L1476.3,1496.6 L1479.3,1496.6 L1482.3,1496.6 L1485.3,1496.6 L1488.3,1496.7 L1491.3,1496.7 L1494.3,1496.7 L1497.3,1496.7 L1500.3,1496.7 L1503.3,1496.7 L1506.3,1496.7 L1509.3,1496.8 L1512.3,1496.8 L1515.3,1496.8 L1518.3,1496.8 L1521.3,1496.8 L1524.3,1496.8 L1527.3,1496.8 L1530.3,1496.8 L1533.3,1496.9 L1536.3,1496.9 L1539.3,1496.9 L1542.3,1496.9 L1545.3,1496.9 L1548.3,1496.9 L1551.3,1496.9 L1554.3,1496.9 L1557.3,1496.9 L1560.3,1496.9 L1563.3,1497.0 L1566.3,1497.0 L1569.3,1497.0 L1572.3,1497.0 L1575.3,1497.0 L1578.3,1497.0 L1581.3,1497.0 L1584.3,1497.0 L1587.3,1497.0 L1590.3,1497.0 L1593.3,1497.0 L1596.3,1497.0 L1599.3,1497.1 L1602.3,1497.1 L1605.3,1497.1 L1608.3,1497.1 L1611.3,1497.1 L1614.3,1497.1 L1617.3,1497.1 L1620.3,1497.1" fill="none" stroke="#0000ff" stroke-width="6" stroke-linejoin="round" stroke-linecap="round"/>
<path d="M429.3,1441.0 L432.3,1440.9 L435.3,1440.7 L438.3,1440.6 L441.3,1440.4 L444.3,1440.3 L447.3,1440.1 L450.3,1439.9 L453.3,1439.7 L456.3,1439.5 L459.3,1439.3 L462.3,1439.1 L465.3,1438.9 L468.3,1438.7 L471.3,1438.4 L474.3,1438.2 L477.3,1437.9 L480.3,1437.6 L483.3,1437.3 L486.3,1437.0 L489.3,1436.6 L492.3,1436.2 L495.3,1435.9 L498.3,1435.4 L501.3,1435.0 L504.3,1434.5 L507.3,1434.0 L510.3,1433.5 L513.3,1432.9 L516.3,1432.2 L519.3,1431.6 L522.3,1430.8 L525.3,1430.0 L528.3,1429.2 L531.3,1428.2 L534.3,1427.2 L537.3,1426.2 L540.3,1425.0 L543.3,1423.7 L546.3,1422.4 L549.3,1420.9 L552.3,1419.4 L555.3,1417.7 L558.3,1415.9 L561.3,1414.0 L564.3,1411.9 L567.3,1409.7 L570.3,1407.4 L573.3,1404.9 L576.3,1402.3 L579.3,1399.5 L582.3,1396.7 L585.3,1393.6 L588.3,1390.5 L591.3,1387.3 L594.3,1384.0 L597.3,1380.6 L600.3,1377.3 L603.3,1373.9 L606.3,1370.7 L609.3,1367.6 L612.3,1364.6 L615.3,1362.0 L618.3,1359.7 L621.3,1357.7 L624.3,1356.3 L627.3,1355.4 L630.3,1355.0 L633.3,1355.1 L636.3,1355.8 L639.3,1357.1 L642.3,1358.8 L645.3,1360.9 L648.3,1363.4 L651.3,1366.1 L654.3,1369.1 L657.3,1372.2 L660.3,1375.3 L663.3,1378.5 L666.3,1381.7 L669.3,1384.7 L672.3,1387.7 L675.3,1390.5 L678.3,1393.2 L681.3,1395.7 L684.3,1398.0 L687.3,1400.0 L690.3,1401.9 L693.3,1403.6 L696.3,1405.0 L699.3,1406.2 L702.3,1407.1 L705.3,1407.8 L708.3,1408.3 L711.3,1408.6 L714.3,1408.6 L717.3,1408.3 L720.3,1407.9 L723.3,1407.2 L726.3,1406.2 L729.3,1405.1 L732.3,1403.7 L735.3,1402.1 L738.3,1400.3 L741.3,1398.4 L744.3,1396.3 L747.3,1394.1 L750.3,1391.8 L753.3,1389.5 L756.3,1387.2 L759.3,1385.0 L762.3,1382.9 L765.3,1381.0 L768.3,1379.4 L771.3,1378.0 L774.3,1376.9 L777.3,1376.0 L780.3,1375.3 L783.3,1374.6 L786.3,1373.7 L789.3,1372.6 L792.3,1371.0 L795.3,1368.8 L798.3,1365.9 L801.3,1362.2 L804.3,1357.5 L807.3,1352.1 L810.3,1346.0 L813.3,1339.4 L816.3,1332.7 L819.3,1326.4 L822.3,1321.2 L825.3,1317.8 L828.3,1316.9 L831.3,1318.9 L834.3,1323.8 L837.3,1331.2 L840.3,1340.5 L843.3,1351.0 L846.3,1361.9 L849.3,1372.8 L852.3,1383.2 L855.3,1392.9 L858.3,1401.7 L861.3,1409.4 L864.3,1416.2 L867.3,1422.0 L870.3,1426.9 L873.3,1431.0 L876.3,1434.4 L879.3,1437.1 L882.3,1439.4 L885.3,1441.2 L888.3,1442.8 L891.3,1444.0 L894.3,1445.1 L897.3,1446.0 L900.3,1446.8 L903.3,1447.5 L906.3,1448.1 L909.3,1448.6 L912.3,1449.1 L915.3,1449.5 L918.3,1449.9 L921.3,1450.2 L924.3,1450.5 L927.3,1450.8 L930.3,1451.0 L933.3,1451.2 L936.3,1451.4 L939.3,1451.6 L942.3,1451.7 L945.3,1451.8 L948.3,1451.9 L951.3,1452.0 L954.3,1452.0 L957.3,1452.1 L960.3,1452.1 L963.3,1452.1 L966.3,1452.1 L969.3,1452.1 L972.3,1452.0 L975.3,1451.9 L978.3,1451.8 L981.3,1451.7 L984.3,1451.6 L987.3,1451.5 L990.3,1451.3 L993.3,1451.1 L996.3,1450.9 L999.3,1450.7 L1002.3,1450.5 L1005.3,1450.2 L1008.3,1449.9 L1011.3,1449.6 L1014.3,1449.2 L1017.3,1448.8 L1020.3,1448.4 L1023.3,1448.0 L1026.3,1447.5 L1029.3,1446.9 L1032.3,1446.3 L1035.3,1445.7 L1038.3,1445.0 L1041.3,1444.3 L1044.3,1443.4 L1047.3,1442.5 L1050.3,1441.6 L1053.3,1440.5 L1056.3,1439.3 L1059.3,1438.0 L1062.3,1436.6 L1065.3,1435.0 L1068.3,1433.3 L1071.3,1431.5 L1074.3,1429.5 L1077.3,1427.2 L1080.3,1424.8 L1083.3,1422.1 L1086.3,1419.2 L1089.3,1416.1 L1092.3,1412.7 L1095.3,1409.0 L1098.3,1405.0 L1101.3,1400.7 L1104.3,1396.1 L1107.3,1391.3 L1110.3,1386.1 L1113.3,1380.7 L1116.3,1375.0 L1119.3,1369.2 L1122.3,1363.3 L1125.3,1357.4 L1128.3,1351.6 L1131.3,1346.0 L1134.3,1340.9 L1137.3,1336.4 L1140.3,1332.7 L1143.3,1330.0 L1146.3,1328.3 L1149.3,1327.8 L1152.3,1328.5 L1155.3,1330.4 L1158.3,1333.3 L1161.3,1337.1 L1164.3,1341.6 L1167.3,1346.7 L1170.3,1352.1 L1173.3,1357.7 L1176.3,1363.3 L1179.3,1368.9 L1182.3,1374.3 L1185.3,1379.4 L1188.3,1384.2 L1191.3,1388.7 L1194.3,1392.8 L1197.3,1396.5 L1200.3,1399.7 L1203.3,1402.6 L1206.3,1404.9 L1209.3,1406.9 L1212.3,1408.3 L1215.3,1409.3 L1218.3,1409.8 L1221.3,1409.7 L1224.3,1409.0 L1227.3,1407.8 L1230.3,1406.0 L1233.3,1403.4 L1236.3,1400.2 L1239.3,1396.2 L1242.3,1391.4 L1245.3,1385.8 L1248.3,1379.4 L1251.3,1372.1 L1254.3,1363.9 L1257.3,1355.0 L1260.3,1345.4 L1263.3,1335.4 L1266.3,1325.2 L1269.3,1315.1 L1272.3,1305.5 L1275.3,1296.8 L1278.3,1289.3 L1281.3,1282.9 L1284.3,1277.4 L1287.3,1272.4 L1290.3,1267.3 L1293.3,1261.5 L1296.3,1254.7 L1299.3,1246.4 L1302.3,1236.6 L1305.3,1225.6 L1308.3,1213.5 L1311.3,1201.1 L1314.3,1189.0 L1317.3,1178.4 L1320.3,1170.3 L1323.3,1165.8 L1326.3,1165.9 L1329.3,1170.9 L1332.3,1180.9 L1335.3,1195.3 L1338.3,1213.4 L1341.3,1234.0 L1344.3,1256.1 L1347.3,1278.7 L1350.3,1301.2 L1353.3,1322.9 L1356.3,1343.3 L1359.3,1362.2 L1362.3,1379.4 L1365.3,1394.7 L1368.3,1408.1 L1371.3,1419.8 L1374.3,1429.7 L1377.3,1438.2 L1380.3,1445.3 L1383.3,1451.2 L1386.3,1456.1 L1389.3,1460.2 L1392.3,1463.5 L1395.3,1466.3 L1398.3,1468.7 L1401.3,1470.7 L1404.3,1472.4 L1407.3,1473.9 L1410.3,1475.2 L1413.3,1476.4 L1416.3,1477.4 L1419.3,1478.3 L1422.3,1479.2 L1425.3,1480.0 L1428.3,1480.7 L1431.3,1481.4 L1434.3,1482.0 L1437.3,1482.6 L1440.3,1483.2 L1443.3,1483.7 L1446.3,1484.2 L1449.3,1484.7 L1452.3,1485.1 L1455.3,1485.5 L1458.3,1485.9 L1461.3,1486.3 L1464.3,1486.6 L1467.3,1486.9 L1470.3,1487.3 L1473.3,1487.6 L1476.3,1487.8 L1479.3,1488.1 L1482.3,1488.4 L1485.3,1488.6 L1488.3,1488.9 L1491.3,1489.1 L1494.3,1489.3 L1497.3,1489.5 L1500.3,1489.7 L1503.3,1489.9 L1506.3,1490.1 L1509.3,1490.3 L1512.3,1490.4 L1515.3,1490.6 L1518.3,1490.8 L1521.3,1490.9 L1524.3,1491.1 L1527.3,1491.2 L1530.3,1491.3 L1533.3,1491.5 L1536.3,1491.6 L1539.3,1491.7 L1542.3,1491.8 L1545.3,1491.9 L1548.3,1492.1 L1551.3,1492.2 L1554.3,1492.3 L1557.3,1492.4 L1560.3,1492.5 L1563.3,1492.6 L1566.3,1492.6 L1569.3,1492.7 L1572.3,1492.8 L1575.3,1492.9 L1578.3,1493.0 L1581.3,1493.1 L1584.3,1493.1 L1587.3,1493.2 L1590.3,1493.3 L1593.3,1493.4 L1596.3,1493.4 L1599.3,1493.5 L1602.3,1493.6 L1605.3,1493.6 L1608.3,1493.7 L1611.3,1493.8 L1614.3,1493.8 L1617.3,1493.9 L1620.3,1493.9" fill="none" stroke="#f00" stroke-width="7.2" stroke-linejoin="round" stroke-linecap="round"/>
<path d="M429.3,1442.6 L432.3,1442.5 L435.3,1442.3 L438.3,1442.2 L441.3,1442.1 L444.3,1441.9 L447.3,1441.8 L450.3,1441.6 L453.3,1441.5 L456.3,1441.3 L459.3,1441.1 L462.3,1440.9 L465.3,1440.7 L468.3,1440.5 L471.3,1440.3 L474.3,1440.1 L477.3,1439.8 L480.3,1439.6 L483.3,1439.3 L486.3,1439.0 L489.3,1438.7 L492.3,1438.4 L495.3,1438.0 L498.3,1437.6 L501.3,1437.2 L504.3,1436.8 L507.3,1436.3 L510.3,1435.8 L513.3,1435.3 L516.3,1434.7 L519.3,1434.0 L522.3,1433.3 L525.3,1432.6 L528.3,1431.8 L531.3,1430.9 L534.3,1429.9 L537.3,1428.9 L540.3,1427.8 L543.3,1426.6 L546.3,1425.3 L549.3,1423.9 L552.3,1422.4 L555.3,1420.8 L558.3,1419.0 L561.3,1417.2 L564.3,1415.2 L567.3,1413.1 L570.3,1410.8 L573.3,1408.4 L576.3,1405.9 L579.3,1403.2 L582.3,1400.4 L585.3,1397.5 L588.3,1394.5 L591.3,1391.3 L594.3,1388.1 L597.3,1384.9 L600.3,1381.6 L603.3,1378.4 L606.3,1375.3 L609.3,1372.3 L612.3,1369.5 L615.3,1367.0 L618.3,1364.8 L621.3,1363.1 L624.3,1361.8 L627.3,1361.0 L630.3,1360.8 L633.3,1361.1 L636.3,1362.0 L639.3,1363.5 L642.3,1365.4 L645.3,1367.7 L648.3,1370.5 L651.3,1373.5 L654.3,1376.7 L657.3,1380.1 L660.3,1383.7 L663.3,1387.2 L666.3,1390.7 L669.3,1394.2 L672.3,1397.7 L675.3,1401.0 L678.3,1404.2 L681.3,1407.3 L684.3,1410.2 L687.3,1413.0 L690.3,1415.7 L693.3,1418.2 L696.3,1420.6 L699.3,1422.8 L702.3,1424.9 L705.3,1426.8 L708.3,1428.7 L711.3,1430.4 L714.3,1432.0 L717.3,1433.5 L720.3,1434.8 L723.3,1436.1 L726.3,1437.3 L729.3,1438.5 L732.3,1439.5 L735.3,1440.5 L738.3,1441.4 L741.3,1442.3 L744.3,1443.1 L747.3,1443.9 L750.3,1444.6 L753.3,1445.3 L756.3,1446.0 L759.3,1446.6 L762.3,1447.2 L765.3,1447.7 L768.3,1448.3 L771.3,1448.8 L774.3,1449.3 L777.3,1449.8 L780.3,1450.3 L783.3,1450.7 L786.3,1451.2 L789.3,1451.6 L792.3,1452.0 L795.3,1452.4 L798.3,1452.8 L801.3,1453.2 L804.3,1453.6 L807.3,1454.0 L810.3,1454.4 L813.3,1454.8 L816.3,1455.2 L819.3,1455.7 L822.3,1456.1 L825.3,1456.5 L828.3,1456.9 L831.3,1457.4 L834.3,1457.8 L837.3,1458.2 L840.3,1458.6 L843.3,1458.9 L846.3,1459.2 L849.3,1459.5 L852.3,1459.8 L855.3,1460.1 L858.3,1460.3 L861.3,1460.5 L864.3,1460.7 L867.3,1460.9 L870.3,1461.0 L873.3,1461.2 L876.3,1461.3 L879.3,1461.5 L882.3,1461.6 L885.3,1461.7 L888.3,1461.8 L891.3,1461.9 L894.3,1462.0 L897.3,1462.1 L900.3,1462.2 L903.3,1462.3 L906.3,1462.4 L909.3,1462.5 L912.3,1462.6 L915.3,1462.6 L918.3,1462.7 L921.3,1462.8 L924.3,1462.9 L927.3,1462.9 L930.3,1463.0 L933.3,1463.1 L936.3,1463.1 L939.3,1463.2 L942.3,1463.3 L945.3,1463.3 L948.3,1463.4 L951.3,1463.5 L954.3,1463.5 L957.3,1463.6 L960.3,1463.6 L963.3,1463.7 L966.3,1463.8 L969.3,1463.8 L972.3,1463.9 L975.3,1463.9 L978.3,1464.0 L981.3,1464.0 L984.3,1464.1 L987.3,1464.1 L990.3,1464.2 L993.3,1464.2 L996.3,1464.3 L999.3,1464.4 L1002.3,1464.4 L1005.3,1464.5 L1008.3,1464.5 L1011.3,1464.6 L1014.3,1464.6 L1017.3,1464.7 L1020.3,1464.7 L1023.3,1464.8 L1026.3,1464.8 L1029.3,1464.9 L1032.3,1465.0 L1035.3,1465.0 L1038.3,1465.1 L1041.3,1465.1 L1044.3,1465.2 L1047.3,1465.3 L1050.3,1465.3 L1053.3,1465.4 L1056.3,1465.5 L1059.3,1465.5 L1062.3,1465.6 L1065.3,1465.7 L1068.3,1465.8 L1071.3,1465.8 L1074.3,1465.9 L1077.3,1466.0 L1080.3,1466.1 L1083.3,1466.2 L1086.3,1466.3 L1089.3,1466.4 L1092.3,1466.5 L1095.3,1466.7 L1098.3,1466.8 L1101.3,1466.9 L1104.3,1467.1 L1107.3,1467.2 L1110.3,1467.4 L1113.3,1467.6 L1116.3,1467.8 L1119.3,1468.0 L1122.3,1468.2 L1125.3,1468.4 L1128.3,1468.7 L1131.3,1468.9 L1134.3,1469.2 L1137.3,1469.5 L1140.3,1469.7 L1143.3,1470.0 L1146.3,1470.3 L1149.3,1470.6 L1152.3,1470.9 L1155.3,1471.2 L1158.3,1471.5 L1161.3,1471.8 L1164.3,1472.1 L1167.3,1472.3 L1170.3,1472.6 L1173.3,1472.9 L1176.3,1473.1 L1179.3,1473.3 L1182.3,1473.5 L1185.3,1473.7 L1188.3,1473.9 L1191.3,1474.1 L1194.3,1474.3 L1197.3,1474.5 L1200.3,1474.6 L1203.3,1474.8 L1206.3,1474.9 L1209.3,1475.1 L1212.3,1475.2 L1215.3,1475.4 L1218.3,1475.5 L1221.3,1475.7 L1224.3,1475.8 L1227.3,1475.9 L1230.3,1476.1 L1233.3,1476.2 L1236.3,1476.4 L1239.3,1476.6 L1242.3,1476.7 L1245.3,1476.9 L1248.3,1477.1 L1251.3,1477.3 L1254.3,1477.5 L1257.3,1477.8 L1260.3,1478.0 L1263.3,1478.3 L1266.3,1478.6 L1269.3,1478.9 L1272.3,1479.3 L1275.3,1479.7 L1278.3,1480.0 L1281.3,1480.4 L1284.3,1480.8 L1287.3,1481.3 L1290.3,1481.7 L1293.3,1482.1 L1296.3,1482.6 L1299.3,1483.1 L1302.3,1483.6 L1305.3,1484.1 L1308.3,1484.6 L1311.3,1485.2 L1314.3,1485.7 L1317.3,1486.4 L1320.3,1487.0 L1323.3,1487.6 L1326.3,1488.3 L1329.3,1489.0 L1332.3,1489.6 L1335.3,1490.2 L1338.3,1490.8 L1341.3,1491.4 L1344.3,1491.9 L1347.3,1492.3 L1350.3,1492.8 L1353.3,1493.1 L1356.3,1493.5 L1359.3,1493.8 L1362.3,1494.0 L1365.3,1494.2 L1368.3,1494.4 L1371.3,1494.6 L1374.3,1494.8 L1377.3,1494.9 L1380.3,1495.0 L1383.3,1495.1 L1386.3,1495.2 L1389.3,1495.3 L1392.3,1495.3 L1395.3,1495.4 L1398.3,1495.5 L1401.3,1495.5 L1404.3,1495.6 L1407.3,1495.6 L1410.3,1495.7 L1413.3,1495.7 L1416.3,1495.8 L1419.3,1495.8 L1422.3,1495.8 L1425.3,1495.9 L1428.3,1495.9 L1431.3,1495.9 L1434.3,1496.0 L1437.3,1496.0 L1440.3,1496.0 L1443.3,1496.1 L1446.3,1496.1 L1449.3,1496.1 L1452.3,1496.1 L1455.3,1496.2 L1458.3,1496.2 L1461.3,1496.2 L1464.3,1496.2 L1467.3,1496.3 L1470.3,1496.3 L1473.3,1496.3 L1476.3,1496.3 L1479.3,1496.3 L1482.3,1496.4 L1485.3,1496.4 L1488.3,1496.4 L1491.3,1496.4 L1494.3,1496.4 L1497.3,1496.4 L1500.3,1496.5 L1503.3,1496.5 L1506.3,1496.5 L1509.3,1496.5 L1512.3,1496.5 L1515.3,1496.5 L1518.3,1496.5 L1521.3,1496.6 L1524.3,1496.6 L1527.3,1496.6 L1530.3,1496.6 L1533.3,1496.6 L1536.3,1496.6 L1539.3,1496.6 L1542.3,1496.7 L1545.3,1496.7 L1548.3,1496.7 L1551.3,1496.7 L1554.3,1496.7 L1557.3,1496.7 L1560.3,1496.7 L1563.3,1496.7 L1566.3,1496.7 L1569.3,1496.7 L1572.3,1496.8 L1575.3,1496.8 L1578.3,1496.8 L1581.3,1496.8 L1584.3,1496.8 L1587.3,1496.8 L1590.3,1496.8 L1593.3,1496.8 L1596.3,1496.8 L1599.3,1496.8 L1602.3,1496.9 L1605.3,1496.9 L1608.3,1496.9 L1611.3,1496.9 L1614.3,1496.9 L1617.3,1496.9 L1620.3,1496.9" fill="none" stroke="#008000" stroke-width="6" stroke-linejoin="round" stroke-linecap="round"/>
<path d="M429.3,1446.7 L432.3,1446.7 L435.3,1446.7 L438.3,1446.7 L441.3,1446.7 L444.3,1446.7 L447.3,1446.7 L450.3,1446.8 L453.3,1446.8 L456.3,1446.8 L459.3,1446.8 L462.3,1446.8 L465.3,1446.8 L468.3,1446.8 L471.3,1446.8 L474.3,1446.9 L477.3,1446.9 L480.3,1446.9 L483.3,1446.9 L486.3,1446.9 L489.3,1446.9 L492.3,1446.9 L495.3,1447.0 L498.3,1447.0 L501.3,1447.0 L504.3,1447.0 L507.3,1447.0 L510.3,1447.1 L513.3,1447.1 L516.3,1447.1 L519.3,1447.1 L522.3,1447.2 L525.3,1447.2 L528.3,1447.2 L531.3,1447.3 L534.3,1447.3 L537.3,1447.3 L540.3,1447.4 L543.3,1447.4 L546.3,1447.5 L549.3,1447.5 L552.3,1447.6 L555.3,1447.6 L558.3,1447.7 L561.3,1447.7 L564.3,1447.8 L567.3,1447.9 L570.3,1447.9 L573.3,1448.0 L576.3,1448.1 L579.3,1448.2 L582.3,1448.3 L585.3,1448.4 L588.3,1448.5 L591.3,1448.6 L594.3,1448.7 L597.3,1448.9 L600.3,1449.0 L603.3,1449.1 L606.3,1449.3 L609.3,1449.4 L612.3,1449.6 L615.3,1449.8 L618.3,1449.9 L621.3,1450.1 L624.3,1450.3 L627.3,1450.5 L630.3,1450.7 L633.3,1450.8 L636.3,1451.0 L639.3,1451.2 L642.3,1451.4 L645.3,1451.6 L648.3,1451.7 L651.3,1451.9 L654.3,1452.1 L657.3,1452.2 L660.3,1452.4 L663.3,1452.5 L666.3,1452.7 L669.3,1452.8 L672.3,1452.9 L675.3,1453.1 L678.3,1453.2 L681.3,1453.3 L684.3,1453.4 L687.3,1453.5 L690.3,1453.6 L693.3,1453.7 L696.3,1453.8 L699.3,1453.8 L702.3,1453.9 L705.3,1454.0 L708.3,1454.1 L711.3,1454.2 L714.3,1454.2 L717.3,1454.3 L720.3,1454.4 L723.3,1454.5 L726.3,1454.6 L729.3,1454.7 L732.3,1454.7 L735.3,1454.8 L738.3,1454.9 L741.3,1455.0 L744.3,1455.1 L747.3,1455.2 L750.3,1455.3 L753.3,1455.4 L756.3,1455.6 L759.3,1455.7 L762.3,1455.8 L765.3,1455.9 L768.3,1456.1 L771.3,1456.2 L774.3,1456.3 L777.3,1456.5 L780.3,1456.6 L783.3,1456.8 L786.3,1456.9 L789.3,1457.1 L792.3,1457.2 L795.3,1457.4 L798.3,1457.5 L801.3,1457.7 L804.3,1457.8 L807.3,1458.0 L810.3,1458.2 L813.3,1458.4 L816.3,1458.6 L819.3,1458.9 L822.3,1459.1 L825.3,1459.4 L828.3,1459.6 L831.3,1459.9 L834.3,1460.1 L837.3,1460.3 L840.3,1460.6 L843.3,1460.8 L846.3,1460.9 L849.3,1461.1 L852.3,1461.2 L855.3,1461.3 L858.3,1461.4 L861.3,1461.5 L864.3,1461.5 L867.3,1461.6 L870.3,1461.6 L873.3,1461.6 L876.3,1461.6 L879.3,1461.6 L882.3,1461.6 L885.3,1461.6 L888.3,1461.6 L891.3,1461.5 L894.3,1461.5 L897.3,1461.5 L900.3,1461.4 L903.3,1461.4 L906.3,1461.3 L909.3,1461.3 L912.3,1461.2 L915.3,1461.2 L918.3,1461.1 L921.3,1461.0 L924.3,1461.0 L927.3,1460.9 L930.3,1460.8 L933.3,1460.7 L936.3,1460.6 L939.3,1460.5 L942.3,1460.4 L945.3,1460.3 L948.3,1460.2 L951.3,1460.1 L954.3,1459.9 L957.3,1459.8 L960.3,1459.7 L963.3,1459.5 L966.3,1459.4 L969.3,1459.2 L972.3,1459.0 L975.3,1458.8 L978.3,1458.6 L981.3,1458.4 L984.3,1458.2 L987.3,1458.0 L990.3,1457.7 L993.3,1457.5 L996.3,1457.2 L999.3,1456.9 L1002.3,1456.6 L1005.3,1456.3 L1008.3,1455.9 L1011.3,1455.6 L1014.3,1455.2 L1017.3,1454.7 L1020.3,1454.3 L1023.3,1453.8 L1026.3,1453.3 L1029.3,1452.7 L1032.3,1452.1 L1035.3,1451.5 L1038.3,1450.8 L1041.3,1450.0 L1044.3,1449.2 L1047.3,1448.3 L1050.3,1447.4 L1053.3,1446.3 L1056.3,1445.1 L1059.3,1443.9 L1062.3,1442.5 L1065.3,1441.0 L1068.3,1439.3 L1071.3,1437.5 L1074.3,1435.5 L1077.3,1433.3 L1080.3,1431.0 L1083.3,1428.4 L1086.3,1425.6 L1089.3,1422.5 L1092.3,1419.2 L1095.3,1415.6 L1098.3,1411.7 L1101.3,1407.5 L1104.3,1403.0 L1107.3,1398.3 L1110.3,1393.2 L1113.3,1387.9 L1116.3,1382.4 L1119.3,1376.8 L1122.3,1371.0 L1125.3,1365.3 L1128.3,1359.6 L1131.3,1354.3 L1134.3,1349.4 L1137.3,1345.1 L1140.3,1341.7 L1143.3,1339.2 L1146.3,1337.8 L1149.3,1337.6 L1152.3,1338.6 L1155.3,1340.8 L1158.3,1344.1 L1161.3,1348.3 L1164.3,1353.2 L1167.3,1358.7 L1170.3,1364.6 L1173.3,1370.7 L1176.3,1376.9 L1179.3,1383.1 L1182.3,1389.2 L1185.3,1395.0 L1188.3,1400.6 L1191.3,1405.9 L1194.3,1410.9 L1197.3,1415.6 L1200.3,1420.0 L1203.3,1424.1 L1206.3,1428.0 L1209.3,1431.5 L1212.3,1434.7 L1215.3,1437.7 L1218.3,1440.5 L1221.3,1443.1 L1224.3,1445.4 L1227.3,1447.6 L1230.3,1449.6 L1233.3,1451.4 L1236.3,1453.1 L1239.3,1454.7 L1242.3,1456.1 L1245.3,1457.5 L1248.3,1458.8 L1251.3,1460.0 L1254.3,1461.1 L1257.3,1462.2 L1260.3,1463.3 L1263.3,1464.3 L1266.3,1465.2 L1269.3,1466.2 L1272.3,1467.1 L1275.3,1468.0 L1278.3,1468.9 L1281.3,1469.8 L1284.3,1470.6 L1287.3,1471.5 L1290.3,1472.3 L1293.3,1473.1 L1296.3,1473.9 L1299.3,1474.7 L1302.3,1475.5 L1305.3,1476.3 L1308.3,1477.1 L1311.3,1478.0 L1314.3,1478.8 L1317.3,1479.7 L1320.3,1480.5 L1323.3,1481.4 L1326.3,1482.3 L1329.3,1483.1 L1332.3,1483.9 L1335.3,1484.7 L1338.3,1485.5 L1341.3,1486.2 L1344.3,1486.9 L1347.3,1487.5 L1350.3,1488.1 L1353.3,1488.6 L1356.3,1489.0 L1359.3,1489.5 L1362.3,1489.8 L1365.3,1490.2 L1368.3,1490.5 L1371.3,1490.8 L1374.3,1491.0 L1377.3,1491.3 L1380.3,1491.5 L1383.3,1491.7 L1386.3,1491.8 L1389.3,1492.0 L1392.3,1492.2 L1395.3,1492.3 L1398.3,1492.4 L1401.3,1492.6 L1404.3,1492.7 L1407.3,1492.8 L1410.3,1492.9 L1413.3,1493.0 L1416.3,1493.1 L1419.3,1493.2 L1422.3,1493.3 L1425.3,1493.4 L1428.3,1493.5 L1431.3,1493.6 L1434.3,1493.7 L1437.3,1493.8 L1440.3,1493.9 L1443.3,1493.9 L1446.3,1494.0 L1449.3,1494.1 L1452.3,1494.1 L1455.3,1494.2 L1458.3,1494.3 L1461.3,1494.3 L1464.3,1494.4 L1467.3,1494.5 L1470.3,1494.5 L1473.3,1494.6 L1476.3,1494.6 L1479.3,1494.7 L1482.3,1494.7 L1485.3,1494.8 L1488.3,1494.8 L1491.3,1494.9 L1494.3,1494.9 L1497.3,1495.0 L1500.3,1495.0 L1503.3,1495.0 L1506.3,1495.1 L1509.3,1495.1 L1512.3,1495.2 L1515.3,1495.2 L1518.3,1495.2 L1521.3,1495.3 L1524.3,1495.3 L1527.3,1495.3 L1530.3,1495.4 L1533.3,1495.4 L1536.3,1495.5 L1539.3,1495.5 L1542.3,1495.5 L1545.3,1495.5 L1548.3,1495.6 L1551.3,1495.6 L1554.3,1495.6 L1557.3,1495.7 L1560.3,1495.7 L1563.3,1495.7 L1566.3,1495.7 L1569.3,1495.8 L1572.3,1495.8 L1575.3,1495.8 L1578.3,1495.8 L1581.3,1495.9 L1584.3,1495.9 L1587.3,1495.9 L1590.3,1495.9 L1593.3,1496.0 L1596.3,1496.0 L1599.3,1496.0 L1602.3,1496.0 L1605.3,1496.0 L1608.3,1496.1 L1611.3,1496.1 L1614.3,1496.1 L1617.3,1496.1 L1620.3,1496.1" fill="none" stroke="#008000" stroke-width="6" stroke-linejoin="round" stroke-linecap="round"/>
<path d="M429.3,1447.1 L432.3,1447.1 L435.3,1447.1 L438.3,1447.1 L441.3,1447.1 L444.3,1447.2 L447.3,1447.2 L450.3,1447.2 L453.3,1447.2 L456.3,1447.2 L459.3,1447.2 L462.3,1447.3 L465.3,1447.3 L468.3,1447.3 L471.3,1447.3 L474.3,1447.3 L477.3,1447.3 L480.3,1447.4 L483.3,1447.4 L486.3,1447.4 L489.3,1447.4 L492.3,1447.4 L495.3,1447.5 L498.3,1447.5 L501.3,1447.5 L504.3,1447.5 L507.3,1447.6 L510.3,1447.6 L513.3,1447.6 L516.3,1447.7 L519.3,1447.7 L522.3,1447.7 L525.3,1447.8 L528.3,1447.8 L531.3,1447.8 L534.3,1447.9 L537.3,1447.9 L540.3,1448.0 L543.3,1448.0 L546.3,1448.1 L549.3,1448.1 L552.3,1448.2 L555.3,1448.2 L558.3,1448.3 L561.3,1448.4 L564.3,1448.4 L567.3,1448.5 L570.3,1448.6 L573.3,1448.7 L576.3,1448.8 L579.3,1448.8 L582.3,1449.0 L585.3,1449.1 L588.3,1449.2 L591.3,1449.3 L594.3,1449.4 L597.3,1449.6 L600.3,1449.7 L603.3,1449.8 L606.3,1450.0 L609.3,1450.2 L612.3,1450.3 L615.3,1450.5 L618.3,1450.7 L621.3,1450.9 L624.3,1451.1 L627.3,1451.3 L630.3,1451.5 L633.3,1451.6 L636.3,1451.8 L639.3,1452.0 L642.3,1452.2 L645.3,1452.4 L648.3,1452.6 L651.3,1452.8 L654.3,1453.0 L657.3,1453.1 L660.3,1453.3 L663.3,1453.4 L666.3,1453.6 L669.3,1453.7 L672.3,1453.9 L675.3,1454.0 L678.3,1454.1 L681.3,1454.2 L684.3,1454.4 L687.3,1454.5 L690.3,1454.6 L693.3,1454.7 L696.3,1454.8 L699.3,1454.9 L702.3,1455.0 L705.3,1455.1 L708.3,1455.2 L711.3,1455.3 L714.3,1455.4 L717.3,1455.5 L720.3,1455.6 L723.3,1455.7 L726.3,1455.8 L729.3,1455.9 L732.3,1456.0 L735.3,1456.1 L738.3,1456.2 L741.3,1456.3 L744.3,1456.4 L747.3,1456.5 L750.3,1456.7 L753.3,1456.8 L756.3,1456.9 L759.3,1457.1 L762.3,1457.2 L765.3,1457.4 L768.3,1457.5 L771.3,1457.7 L774.3,1457.9 L777.3,1458.0 L780.3,1458.2 L783.3,1458.4 L786.3,1458.5 L789.3,1458.7 L792.3,1458.9 L795.3,1459.1 L798.3,1459.2 L801.3,1459.4 L804.3,1459.6 L807.3,1459.8 L810.3,1460.1 L813.3,1460.3 L816.3,1460.5 L819.3,1460.8 L822.3,1461.1 L825.3,1461.4 L828.3,1461.7 L831.3,1462.0 L834.3,1462.2 L837.3,1462.5 L840.3,1462.8 L843.3,1463.0 L846.3,1463.2 L849.3,1463.4 L852.3,1463.6 L855.3,1463.8 L858.3,1463.9 L861.3,1464.0 L864.3,1464.1 L867.3,1464.2 L870.3,1464.3 L873.3,1464.4 L876.3,1464.4 L879.3,1464.5 L882.3,1464.6 L885.3,1464.6 L888.3,1464.7 L891.3,1464.7 L894.3,1464.7 L897.3,1464.8 L900.3,1464.8 L903.3,1464.8 L906.3,1464.9 L909.3,1464.9 L912.3,1464.9 L915.3,1465.0 L918.3,1465.0 L921.3,1465.0 L924.3,1465.1 L927.3,1465.1 L930.3,1465.1 L933.3,1465.2 L936.3,1465.2 L939.3,1465.2 L942.3,1465.2 L945.3,1465.3 L948.3,1465.3 L951.3,1465.3 L954.3,1465.4 L957.3,1465.4 L960.3,1465.4 L963.3,1465.4 L966.3,1465.5 L969.3,1465.5 L972.3,1465.5 L975.3,1465.5 L978.3,1465.6 L981.3,1465.6 L984.3,1465.6 L987.3,1465.7 L990.3,1465.7 L993.3,1465.7 L996.3,1465.7 L999.3,1465.8 L1002.3,1465.8 L1005.3,1465.8 L1008.3,1465.9 L1011.3,1465.9 L1014.3,1465.9 L1017.3,1466.0 L1020.3,1466.0 L1023.3,1466.0 L1026.3,1466.1 L1029.3,1466.1 L1032.3,1466.1 L1035.3,1466.2 L1038.3,1466.2 L1041.3,1466.3 L1044.3,1466.3 L1047.3,1466.4 L1050.3,1466.4 L1053.3,1466.5 L1056.3,1466.5 L1059.3,1466.6 L1062.3,1466.6 L1065.3,1466.7 L1068.3,1466.8 L1071.3,1466.8 L1074.3,1466.9 L1077.3,1467.0 L1080.3,1467.1 L1083.3,1467.2 L1086.3,1467.2 L1089.3,1467.3 L1092.3,1467.4 L1095.3,1467.6 L1098.3,1467.7 L1101.3,1467.8 L1104.3,1468.0 L1107.3,1468.1 L1110.3,1468.3 L1113.3,1468.4 L1116.3,1468.6 L1119.3,1468.8 L1122.3,1469.0 L1125.3,1469.2 L1128.3,1469.5 L1131.3,1469.7 L1134.3,1470.0 L1137.3,1470.2 L1140.3,1470.5 L1143.3,1470.8 L1146.3,1471.1 L1149.3,1471.3 L1152.3,1471.6 L1155.3,1471.9 L1158.3,1472.2 L1161.3,1472.5 L1164.3,1472.8 L1167.3,1473.0 L1170.3,1473.3 L1173.3,1473.5 L1176.3,1473.7 L1179.3,1474.0 L1182.3,1474.2 L1185.3,1474.4 L1188.3,1474.6 L1191.3,1474.7 L1194.3,1474.9 L1197.3,1475.1 L1200.3,1475.2 L1203.3,1475.4 L1206.3,1475.5 L1209.3,1475.7 L1212.3,1475.8 L1215.3,1476.0 L1218.3,1476.1 L1221.3,1476.2 L1224.3,1476.4 L1227.3,1476.5 L1230.3,1476.6 L1233.3,1476.8 L1236.3,1476.9 L1239.3,1477.1 L1242.3,1477.3 L1245.3,1477.4 L1248.3,1477.6 L1251.3,1477.8 L1254.3,1478.0 L1257.3,1478.3 L1260.3,1478.5 L1263.3,1478.8 L1266.3,1479.1 L1269.3,1479.4 L1272.3,1479.8 L1275.3,1480.1 L1278.3,1480.5 L1281.3,1480.9 L1284.3,1481.3 L1287.3,1481.7 L1290.3,1482.1 L1293.3,1482.6 L1296.3,1483.0 L1299.3,1483.5 L1302.3,1484.0 L1305.3,1484.5 L1308.3,1485.0 L1311.3,1485.6 L1314.3,1486.2 L1317.3,1486.8 L1320.3,1487.4 L1323.3,1488.1 L1326.3,1488.7 L1329.3,1489.4 L1332.3,1490.0 L1335.3,1490.6 L1338.3,1491.2 L1341.3,1491.7 L1344.3,1492.3 L1347.3,1492.7 L1350.3,1493.1 L1353.3,1493.5 L1356.3,1493.8 L1359.3,1494.1 L1362.3,1494.4 L1365.3,1494.6 L1368.3,1494.8 L1371.3,1495.0 L1374.3,1495.1 L1377.3,1495.2 L1380.3,1495.4 L1383.3,1495.4 L1386.3,1495.5 L1389.3,1495.6 L1392.3,1495.7 L1395.3,1495.7 L1398.3,1495.8 L1401.3,1495.9 L1404.3,1495.9 L1407.3,1496.0 L1410.3,1496.0 L1413.3,1496.0 L1416.3,1496.1 L1419.3,1496.1 L1422.3,1496.1 L1425.3,1496.2 L1428.3,1496.2 L1431.3,1496.2 L1434.3,1496.3 L1437.3,1496.3 L1440.3,1496.3 L1443.3,1496.4 L1446.3,1496.4 L1449.3,1496.4 L1452.3,1496.4 L1455.3,1496.5 L1458.3,1496.5 L1461.3,1496.5 L1464.3,1496.5 L1467.3,1496.5 L1470.3,1496.6 L1473.3,1496.6 L1476.3,1496.6 L1479.3,1496.6 L1482.3,1496.6 L1485.3,1496.6 L1488.3,1496.7 L1491.3,1496.7 L1494.3,1496.7 L1497.3,1496.7 L1500.3,1496.7 L1503.3,1496.7 L1506.3,1496.7 L1509.3,1496.8 L1512.3,1496.8 L1515.3,1496.8 L1518.3,1496.8 L1521.3,1496.8 L1524.3,1496.8 L1527.3,1496.8 L1530.3,1496.8 L1533.3,1496.9 L1536.3,1496.9 L1539.3,1496.9 L1542.3,1496.9 L1545.3,1496.9 L1548.3,1496.9 L1551.3,1496.9 L1554.3,1496.9 L1557.3,1496.9 L1560.3,1496.9 L1563.3,1497.0 L1566.3,1497.0 L1569.3,1497.0 L1572.3,1497.0 L1575.3,1497.0 L1578.3,1497.0 L1581.3,1497.0 L1584.3,1497.0 L1587.3,1497.0 L1590.3,1497.0 L1593.3,1497.0 L1596.3,1497.0 L1599.3,1497.1 L1602.3,1497.1 L1605.3,1497.1 L1608.3,1497.1 L1611.3,1497.1 L1614.3,1497.1 L1617.3,1497.1 L1620.3,1497.1" fill="none" stroke="#0000ff" stroke-width="6" stroke-linejoin="round" stroke-linecap="round"/>
<g stroke="#ff8000" stroke-width="6.2" stroke-linecap="round" stroke-dasharray="24.6 35.15" fill="none">
<line x1="1306.2" y1="210.6" x2="1306.2" y2="1072"/>
<line x1="1329.8" y1="1019.5" x2="1329.8" y2="1403"/>
</g>
<g stroke="#000" stroke-width="6.3" fill="none" stroke-linecap="round" stroke-linejoin="round">
<rect x="215.5" y="80.5" width="1557.0" height="1517.2"/>
<line x1="215.5" y1="591.2" x2="1772.5" y2="591.2"/>
<line x1="215.5" y1="1087.3" x2="1772.5" y2="1087.3"/>
<line x1="215.5" y1="1597.7" x2="215.5" y2="1614.7"/>
<line x1="357.0" y1="1597.7" x2="357.0" y2="1631.5"/>
<line x1="498.6" y1="1597.7" x2="498.6" y2="1614.7"/>
<line x1="640.1" y1="1597.7" x2="640.1" y2="1631.5"/>
<line x1="781.6" y1="1597.7" x2="781.6" y2="1614.7"/>
<line x1="923.1" y1="1597.7" x2="923.1" y2="1631.5"/>
<line x1="1064.7" y1="1597.7" x2="1064.7" y2="1614.7"/>
<line x1="1206.2" y1="1597.7" x2="1206.2" y2="1631.5"/>
<line x1="1347.7" y1="1597.7" x2="1347.7" y2="1614.7"/>
<line x1="1489.2" y1="1597.7" x2="1489.2" y2="1631.5"/>
<line x1="1630.8" y1="1597.7" x2="1630.8" y2="1614.7"/>
<line x1="1772.3" y1="1597.7" x2="1772.3" y2="1631.5"/>
</g>
<g font-family="Liberation Sans, Arial, sans-serif" font-size="75" text-anchor="middle" fill="#000" clip-path="url(#cl)">
<text x="357.0" y="1713">890</text>
<text x="640.1" y="1713">880</text>
<text x="923.1" y="1713">870</text>
<text x="1206.2" y="1713">860</text>
<text x="1489.2" y="1713">850</text>
<text x="1772.3" y="1713">840</text>
</g>
<g font-family="Liberation Sans, Arial, sans-serif" fill="#000">
<text x="1042.2" y="1832.2" font-size="91.5" text-anchor="middle">B.E. (eV)</text>
<text transform="translate(144.9 829.4) rotate(-90)" font-size="91.5" text-anchor="middle">Intensity (a.u.)</text>
<text x="1737" y="181" font-size="75" text-anchor="end">C0</text>
<text x="1737" y="683" font-size="75" text-anchor="end">C1</text>
<text x="1737" y="1160" font-size="75" text-anchor="end">C2-2</text>
<text x="378.5" y="156" font-size="58">Satellite peak</text>
</g>
<line x1="233.9" y1="136.3" x2="361.3" y2="136.3" stroke="#008000" stroke-width="6.6" stroke-linecap="round"/>
</svg></body></html>
